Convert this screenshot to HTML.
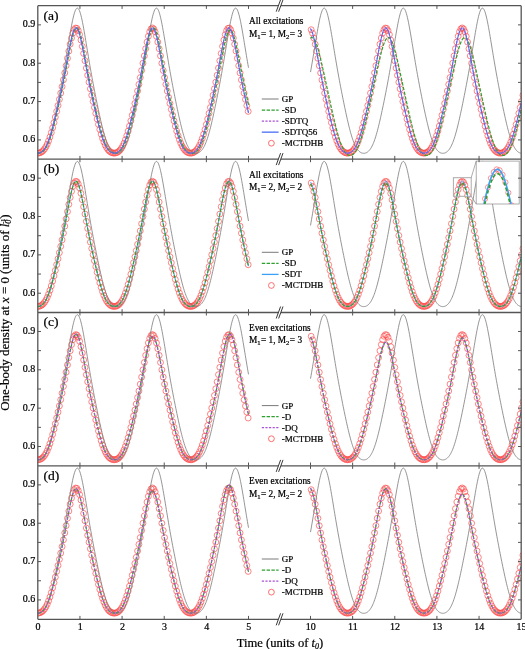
<!DOCTYPE html><html><head><meta charset="utf-8"><style>html,body{margin:0;padding:0;background:#fff;}svg{display:block;will-change:transform;}text{font-family:"Liberation Serif",serif;fill:#000;stroke:#000;stroke-width:0.22px;}</style></head><body>
<svg width="525" height="649" viewBox="0 0 525 649">
<rect width="525" height="649" fill="#fff"/>
<defs>
<clipPath id="c0"><rect x="37.80" y="5.70" width="483.40" height="153.40"/></clipPath>
<clipPath id="c1"><rect x="37.80" y="159.00" width="483.40" height="153.40"/></clipPath>
<clipPath id="c2"><rect x="37.80" y="312.30" width="483.40" height="153.40"/></clipPath>
<clipPath id="c3"><rect x="37.80" y="465.70" width="483.40" height="153.40"/></clipPath>
</defs>
<g clip-path="url(#c0)">
<path d="M34.85,153.16a2.95,2.95 0 1,0 5.90,0a2.95,2.95 0 1,0 -5.90,0M36.20,153.01a2.95,2.95 0 1,0 5.90,0a2.95,2.95 0 1,0 -5.90,0M37.55,152.56a2.95,2.95 0 1,0 5.90,0a2.95,2.95 0 1,0 -5.90,0M38.90,151.77a2.95,2.95 0 1,0 5.90,0a2.95,2.95 0 1,0 -5.90,0M40.24,150.59a2.95,2.95 0 1,0 5.90,0a2.95,2.95 0 1,0 -5.90,0M41.59,148.96a2.95,2.95 0 1,0 5.90,0a2.95,2.95 0 1,0 -5.90,0M42.94,146.82a2.95,2.95 0 1,0 5.90,0a2.95,2.95 0 1,0 -5.90,0M44.29,144.13a2.95,2.95 0 1,0 5.90,0a2.95,2.95 0 1,0 -5.90,0M45.64,140.87a2.95,2.95 0 1,0 5.90,0a2.95,2.95 0 1,0 -5.90,0M46.99,137.03a2.95,2.95 0 1,0 5.90,0a2.95,2.95 0 1,0 -5.90,0M48.33,132.66a2.95,2.95 0 1,0 5.90,0a2.95,2.95 0 1,0 -5.90,0M49.68,127.84a2.95,2.95 0 1,0 5.90,0a2.95,2.95 0 1,0 -5.90,0M51.03,122.63a2.95,2.95 0 1,0 5.90,0a2.95,2.95 0 1,0 -5.90,0M52.38,117.13a2.95,2.95 0 1,0 5.90,0a2.95,2.95 0 1,0 -5.90,0M53.73,111.39a2.95,2.95 0 1,0 5.90,0a2.95,2.95 0 1,0 -5.90,0M55.08,105.48a2.95,2.95 0 1,0 5.90,0a2.95,2.95 0 1,0 -5.90,0M56.43,99.39a2.95,2.95 0 1,0 5.90,0a2.95,2.95 0 1,0 -5.90,0M57.77,93.11a2.95,2.95 0 1,0 5.90,0a2.95,2.95 0 1,0 -5.90,0M59.12,86.62a2.95,2.95 0 1,0 5.90,0a2.95,2.95 0 1,0 -5.90,0M60.47,79.87a2.95,2.95 0 1,0 5.90,0a2.95,2.95 0 1,0 -5.90,0M61.82,72.87a2.95,2.95 0 1,0 5.90,0a2.95,2.95 0 1,0 -5.90,0M63.17,65.64a2.95,2.95 0 1,0 5.90,0a2.95,2.95 0 1,0 -5.90,0M64.52,58.31a2.95,2.95 0 1,0 5.90,0a2.95,2.95 0 1,0 -5.90,0M65.87,51.06a2.95,2.95 0 1,0 5.90,0a2.95,2.95 0 1,0 -5.90,0M67.21,44.20a2.95,2.95 0 1,0 5.90,0a2.95,2.95 0 1,0 -5.90,0M68.56,38.09a2.95,2.95 0 1,0 5.90,0a2.95,2.95 0 1,0 -5.90,0M69.91,33.12a2.95,2.95 0 1,0 5.90,0a2.95,2.95 0 1,0 -5.90,0M71.26,29.68a2.95,2.95 0 1,0 5.90,0a2.95,2.95 0 1,0 -5.90,0M72.61,28.05a2.95,2.95 0 1,0 5.90,0a2.95,2.95 0 1,0 -5.90,0M73.96,28.38a2.95,2.95 0 1,0 5.90,0a2.95,2.95 0 1,0 -5.90,0M75.30,30.64a2.95,2.95 0 1,0 5.90,0a2.95,2.95 0 1,0 -5.90,0M76.65,34.63a2.95,2.95 0 1,0 5.90,0a2.95,2.95 0 1,0 -5.90,0M78.00,40.03a2.95,2.95 0 1,0 5.90,0a2.95,2.95 0 1,0 -5.90,0M79.35,46.43a2.95,2.95 0 1,0 5.90,0a2.95,2.95 0 1,0 -5.90,0M80.70,53.46a2.95,2.95 0 1,0 5.90,0a2.95,2.95 0 1,0 -5.90,0M82.05,60.76a2.95,2.95 0 1,0 5.90,0a2.95,2.95 0 1,0 -5.90,0M83.40,68.08a2.95,2.95 0 1,0 5.90,0a2.95,2.95 0 1,0 -5.90,0M84.74,75.24a2.95,2.95 0 1,0 5.90,0a2.95,2.95 0 1,0 -5.90,0M86.09,82.16a2.95,2.95 0 1,0 5.90,0a2.95,2.95 0 1,0 -5.90,0M87.44,88.82a2.95,2.95 0 1,0 5.90,0a2.95,2.95 0 1,0 -5.90,0M88.79,95.23a2.95,2.95 0 1,0 5.90,0a2.95,2.95 0 1,0 -5.90,0M90.14,101.44a2.95,2.95 0 1,0 5.90,0a2.95,2.95 0 1,0 -5.90,0M91.49,107.47a2.95,2.95 0 1,0 5.90,0a2.95,2.95 0 1,0 -5.90,0M92.83,113.33a2.95,2.95 0 1,0 5.90,0a2.95,2.95 0 1,0 -5.90,0M94.18,118.99a2.95,2.95 0 1,0 5.90,0a2.95,2.95 0 1,0 -5.90,0M95.53,124.41a2.95,2.95 0 1,0 5.90,0a2.95,2.95 0 1,0 -5.90,0M96.88,129.50a2.95,2.95 0 1,0 5.90,0a2.95,2.95 0 1,0 -5.90,0M98.23,134.18a2.95,2.95 0 1,0 5.90,0a2.95,2.95 0 1,0 -5.90,0M99.58,138.37a2.95,2.95 0 1,0 5.90,0a2.95,2.95 0 1,0 -5.90,0M100.93,142.02a2.95,2.95 0 1,0 5.90,0a2.95,2.95 0 1,0 -5.90,0M102.27,145.10a2.95,2.95 0 1,0 5.90,0a2.95,2.95 0 1,0 -5.90,0M103.62,147.60a2.95,2.95 0 1,0 5.90,0a2.95,2.95 0 1,0 -5.90,0M104.97,149.56a2.95,2.95 0 1,0 5.90,0a2.95,2.95 0 1,0 -5.90,0M106.32,151.03a2.95,2.95 0 1,0 5.90,0a2.95,2.95 0 1,0 -5.90,0M107.67,152.07a2.95,2.95 0 1,0 5.90,0a2.95,2.95 0 1,0 -5.90,0M109.02,152.74a2.95,2.95 0 1,0 5.90,0a2.95,2.95 0 1,0 -5.90,0M110.36,153.09a2.95,2.95 0 1,0 5.90,0a2.95,2.95 0 1,0 -5.90,0M111.71,153.14a2.95,2.95 0 1,0 5.90,0a2.95,2.95 0 1,0 -5.90,0M113.06,152.89a2.95,2.95 0 1,0 5.90,0a2.95,2.95 0 1,0 -5.90,0M114.41,152.33a2.95,2.95 0 1,0 5.90,0a2.95,2.95 0 1,0 -5.90,0M115.76,151.42a2.95,2.95 0 1,0 5.90,0a2.95,2.95 0 1,0 -5.90,0M117.11,150.10a2.95,2.95 0 1,0 5.90,0a2.95,2.95 0 1,0 -5.90,0M118.46,148.31a2.95,2.95 0 1,0 5.90,0a2.95,2.95 0 1,0 -5.90,0M119.80,145.99a2.95,2.95 0 1,0 5.90,0a2.95,2.95 0 1,0 -5.90,0M121.15,143.11a2.95,2.95 0 1,0 5.90,0a2.95,2.95 0 1,0 -5.90,0M122.50,139.64a2.95,2.95 0 1,0 5.90,0a2.95,2.95 0 1,0 -5.90,0M123.85,135.63a2.95,2.95 0 1,0 5.90,0a2.95,2.95 0 1,0 -5.90,0M125.20,131.10a2.95,2.95 0 1,0 5.90,0a2.95,2.95 0 1,0 -5.90,0M126.55,126.13a2.95,2.95 0 1,0 5.90,0a2.95,2.95 0 1,0 -5.90,0M127.90,120.82a2.95,2.95 0 1,0 5.90,0a2.95,2.95 0 1,0 -5.90,0M129.24,115.23a2.95,2.95 0 1,0 5.90,0a2.95,2.95 0 1,0 -5.90,0M130.59,109.43a2.95,2.95 0 1,0 5.90,0a2.95,2.95 0 1,0 -5.90,0M131.94,103.46a2.95,2.95 0 1,0 5.90,0a2.95,2.95 0 1,0 -5.90,0M133.29,97.31a2.95,2.95 0 1,0 5.90,0a2.95,2.95 0 1,0 -5.90,0M134.64,90.97a2.95,2.95 0 1,0 5.90,0a2.95,2.95 0 1,0 -5.90,0M135.99,84.39a2.95,2.95 0 1,0 5.90,0a2.95,2.95 0 1,0 -5.90,0M137.33,77.56a2.95,2.95 0 1,0 5.90,0a2.95,2.95 0 1,0 -5.90,0M138.68,70.47a2.95,2.95 0 1,0 5.90,0a2.95,2.95 0 1,0 -5.90,0M140.03,63.19a2.95,2.95 0 1,0 5.90,0a2.95,2.95 0 1,0 -5.90,0M141.38,55.86a2.95,2.95 0 1,0 5.90,0a2.95,2.95 0 1,0 -5.90,0M142.73,48.71a2.95,2.95 0 1,0 5.90,0a2.95,2.95 0 1,0 -5.90,0M144.08,42.06a2.95,2.95 0 1,0 5.90,0a2.95,2.95 0 1,0 -5.90,0M145.43,36.28a2.95,2.95 0 1,0 5.90,0a2.95,2.95 0 1,0 -5.90,0M146.77,31.78a2.95,2.95 0 1,0 5.90,0a2.95,2.95 0 1,0 -5.90,0M148.12,28.92a2.95,2.95 0 1,0 5.90,0a2.95,2.95 0 1,0 -5.90,0M149.47,27.94a2.95,2.95 0 1,0 5.90,0a2.95,2.95 0 1,0 -5.90,0M150.82,28.93a2.95,2.95 0 1,0 5.90,0a2.95,2.95 0 1,0 -5.90,0M152.17,31.80a2.95,2.95 0 1,0 5.90,0a2.95,2.95 0 1,0 -5.90,0M153.52,36.30a2.95,2.95 0 1,0 5.90,0a2.95,2.95 0 1,0 -5.90,0M154.86,42.08a2.95,2.95 0 1,0 5.90,0a2.95,2.95 0 1,0 -5.90,0M156.21,48.73a2.95,2.95 0 1,0 5.90,0a2.95,2.95 0 1,0 -5.90,0M157.56,55.89a2.95,2.95 0 1,0 5.90,0a2.95,2.95 0 1,0 -5.90,0M158.91,63.22a2.95,2.95 0 1,0 5.90,0a2.95,2.95 0 1,0 -5.90,0M160.26,70.49a2.95,2.95 0 1,0 5.90,0a2.95,2.95 0 1,0 -5.90,0M161.61,77.58a2.95,2.95 0 1,0 5.90,0a2.95,2.95 0 1,0 -5.90,0M162.96,84.41a2.95,2.95 0 1,0 5.90,0a2.95,2.95 0 1,0 -5.90,0M164.30,90.99a2.95,2.95 0 1,0 5.90,0a2.95,2.95 0 1,0 -5.90,0M165.65,97.33a2.95,2.95 0 1,0 5.90,0a2.95,2.95 0 1,0 -5.90,0M167.00,103.48a2.95,2.95 0 1,0 5.90,0a2.95,2.95 0 1,0 -5.90,0M168.35,109.45a2.95,2.95 0 1,0 5.90,0a2.95,2.95 0 1,0 -5.90,0M169.70,115.25a2.95,2.95 0 1,0 5.90,0a2.95,2.95 0 1,0 -5.90,0M171.05,120.83a2.95,2.95 0 1,0 5.90,0a2.95,2.95 0 1,0 -5.90,0M172.39,126.15a2.95,2.95 0 1,0 5.90,0a2.95,2.95 0 1,0 -5.90,0M173.74,131.11a2.95,2.95 0 1,0 5.90,0a2.95,2.95 0 1,0 -5.90,0M175.09,135.64a2.95,2.95 0 1,0 5.90,0a2.95,2.95 0 1,0 -5.90,0M176.44,139.66a2.95,2.95 0 1,0 5.90,0a2.95,2.95 0 1,0 -5.90,0M177.79,143.12a2.95,2.95 0 1,0 5.90,0a2.95,2.95 0 1,0 -5.90,0M179.14,146.00a2.95,2.95 0 1,0 5.90,0a2.95,2.95 0 1,0 -5.90,0M180.49,148.31a2.95,2.95 0 1,0 5.90,0a2.95,2.95 0 1,0 -5.90,0M181.83,150.10a2.95,2.95 0 1,0 5.90,0a2.95,2.95 0 1,0 -5.90,0M183.18,151.42a2.95,2.95 0 1,0 5.90,0a2.95,2.95 0 1,0 -5.90,0M184.53,152.34a2.95,2.95 0 1,0 5.90,0a2.95,2.95 0 1,0 -5.90,0M185.88,152.89a2.95,2.95 0 1,0 5.90,0a2.95,2.95 0 1,0 -5.90,0M187.23,153.14a2.95,2.95 0 1,0 5.90,0a2.95,2.95 0 1,0 -5.90,0M188.58,153.09a2.95,2.95 0 1,0 5.90,0a2.95,2.95 0 1,0 -5.90,0M189.93,152.74a2.95,2.95 0 1,0 5.90,0a2.95,2.95 0 1,0 -5.90,0M191.27,152.07a2.95,2.95 0 1,0 5.90,0a2.95,2.95 0 1,0 -5.90,0M192.62,151.03a2.95,2.95 0 1,0 5.90,0a2.95,2.95 0 1,0 -5.90,0M193.97,149.55a2.95,2.95 0 1,0 5.90,0a2.95,2.95 0 1,0 -5.90,0M195.32,147.59a2.95,2.95 0 1,0 5.90,0a2.95,2.95 0 1,0 -5.90,0M196.67,145.09a2.95,2.95 0 1,0 5.90,0a2.95,2.95 0 1,0 -5.90,0M198.02,142.01a2.95,2.95 0 1,0 5.90,0a2.95,2.95 0 1,0 -5.90,0M199.36,138.36a2.95,2.95 0 1,0 5.90,0a2.95,2.95 0 1,0 -5.90,0M200.71,134.16a2.95,2.95 0 1,0 5.90,0a2.95,2.95 0 1,0 -5.90,0M202.06,129.48a2.95,2.95 0 1,0 5.90,0a2.95,2.95 0 1,0 -5.90,0M203.41,124.39a2.95,2.95 0 1,0 5.90,0a2.95,2.95 0 1,0 -5.90,0M204.76,118.98a2.95,2.95 0 1,0 5.90,0a2.95,2.95 0 1,0 -5.90,0M206.11,113.31a2.95,2.95 0 1,0 5.90,0a2.95,2.95 0 1,0 -5.90,0M207.46,107.46a2.95,2.95 0 1,0 5.90,0a2.95,2.95 0 1,0 -5.90,0M208.80,101.42a2.95,2.95 0 1,0 5.90,0a2.95,2.95 0 1,0 -5.90,0M210.15,95.21a2.95,2.95 0 1,0 5.90,0a2.95,2.95 0 1,0 -5.90,0M211.50,88.80a2.95,2.95 0 1,0 5.90,0a2.95,2.95 0 1,0 -5.90,0M212.85,82.14a2.95,2.95 0 1,0 5.90,0a2.95,2.95 0 1,0 -5.90,0M214.20,75.21a2.95,2.95 0 1,0 5.90,0a2.95,2.95 0 1,0 -5.90,0M215.55,68.05a2.95,2.95 0 1,0 5.90,0a2.95,2.95 0 1,0 -5.90,0M216.89,60.74a2.95,2.95 0 1,0 5.90,0a2.95,2.95 0 1,0 -5.90,0M218.24,53.44a2.95,2.95 0 1,0 5.90,0a2.95,2.95 0 1,0 -5.90,0M219.59,46.41a2.95,2.95 0 1,0 5.90,0a2.95,2.95 0 1,0 -5.90,0M220.94,40.01a2.95,2.95 0 1,0 5.90,0a2.95,2.95 0 1,0 -5.90,0M222.29,34.62a2.95,2.95 0 1,0 5.90,0a2.95,2.95 0 1,0 -5.90,0M223.64,30.63a2.95,2.95 0 1,0 5.90,0a2.95,2.95 0 1,0 -5.90,0M224.99,28.38a2.95,2.95 0 1,0 5.90,0a2.95,2.95 0 1,0 -5.90,0M226.33,28.05a2.95,2.95 0 1,0 5.90,0a2.95,2.95 0 1,0 -5.90,0M227.68,29.69a2.95,2.95 0 1,0 5.90,0a2.95,2.95 0 1,0 -5.90,0M229.03,33.14a2.95,2.95 0 1,0 5.90,0a2.95,2.95 0 1,0 -5.90,0M230.38,38.11a2.95,2.95 0 1,0 5.90,0a2.95,2.95 0 1,0 -5.90,0M231.73,44.22a2.95,2.95 0 1,0 5.90,0a2.95,2.95 0 1,0 -5.90,0M233.08,51.09a2.95,2.95 0 1,0 5.90,0a2.95,2.95 0 1,0 -5.90,0M234.43,58.33a2.95,2.95 0 1,0 5.90,0a2.95,2.95 0 1,0 -5.90,0M235.77,65.66a2.95,2.95 0 1,0 5.90,0a2.95,2.95 0 1,0 -5.90,0M237.12,72.89a2.95,2.95 0 1,0 5.90,0a2.95,2.95 0 1,0 -5.90,0M238.47,79.89a2.95,2.95 0 1,0 5.90,0a2.95,2.95 0 1,0 -5.90,0M239.82,86.64a2.95,2.95 0 1,0 5.90,0a2.95,2.95 0 1,0 -5.90,0M241.17,93.13a2.95,2.95 0 1,0 5.90,0a2.95,2.95 0 1,0 -5.90,0M242.52,99.41a2.95,2.95 0 1,0 5.90,0a2.95,2.95 0 1,0 -5.90,0M243.86,105.50a2.95,2.95 0 1,0 5.90,0a2.95,2.95 0 1,0 -5.90,0M245.21,111.41a2.95,2.95 0 1,0 5.90,0a2.95,2.95 0 1,0 -5.90,0" fill="none" stroke="#ff4a4a" stroke-width="0.85" opacity="0.8"/>
<path d="M308.22,29.70a2.95,2.95 0 1,0 5.90,0a2.95,2.95 0 1,0 -5.90,0M309.57,33.15a2.95,2.95 0 1,0 5.90,0a2.95,2.95 0 1,0 -5.90,0M310.92,38.12a2.95,2.95 0 1,0 5.90,0a2.95,2.95 0 1,0 -5.90,0M312.27,44.24a2.95,2.95 0 1,0 5.90,0a2.95,2.95 0 1,0 -5.90,0M313.62,51.11a2.95,2.95 0 1,0 5.90,0a2.95,2.95 0 1,0 -5.90,0M314.97,58.35a2.95,2.95 0 1,0 5.90,0a2.95,2.95 0 1,0 -5.90,0M316.32,65.69a2.95,2.95 0 1,0 5.90,0a2.95,2.95 0 1,0 -5.90,0M317.66,72.91a2.95,2.95 0 1,0 5.90,0a2.95,2.95 0 1,0 -5.90,0M319.01,79.91a2.95,2.95 0 1,0 5.90,0a2.95,2.95 0 1,0 -5.90,0M320.36,86.66a2.95,2.95 0 1,0 5.90,0a2.95,2.95 0 1,0 -5.90,0M321.71,93.15a2.95,2.95 0 1,0 5.90,0a2.95,2.95 0 1,0 -5.90,0M323.06,99.43a2.95,2.95 0 1,0 5.90,0a2.95,2.95 0 1,0 -5.90,0M324.41,105.51a2.95,2.95 0 1,0 5.90,0a2.95,2.95 0 1,0 -5.90,0M325.75,111.43a2.95,2.95 0 1,0 5.90,0a2.95,2.95 0 1,0 -5.90,0M327.10,117.16a2.95,2.95 0 1,0 5.90,0a2.95,2.95 0 1,0 -5.90,0M328.45,122.66a2.95,2.95 0 1,0 5.90,0a2.95,2.95 0 1,0 -5.90,0M329.80,127.87a2.95,2.95 0 1,0 5.90,0a2.95,2.95 0 1,0 -5.90,0M331.15,132.69a2.95,2.95 0 1,0 5.90,0a2.95,2.95 0 1,0 -5.90,0M332.50,137.05a2.95,2.95 0 1,0 5.90,0a2.95,2.95 0 1,0 -5.90,0M333.85,140.89a2.95,2.95 0 1,0 5.90,0a2.95,2.95 0 1,0 -5.90,0M335.19,144.15a2.95,2.95 0 1,0 5.90,0a2.95,2.95 0 1,0 -5.90,0M336.54,146.84a2.95,2.95 0 1,0 5.90,0a2.95,2.95 0 1,0 -5.90,0M337.89,148.97a2.95,2.95 0 1,0 5.90,0a2.95,2.95 0 1,0 -5.90,0M339.24,150.60a2.95,2.95 0 1,0 5.90,0a2.95,2.95 0 1,0 -5.90,0M340.59,151.77a2.95,2.95 0 1,0 5.90,0a2.95,2.95 0 1,0 -5.90,0M341.94,152.56a2.95,2.95 0 1,0 5.90,0a2.95,2.95 0 1,0 -5.90,0M343.28,153.01a2.95,2.95 0 1,0 5.90,0a2.95,2.95 0 1,0 -5.90,0M344.63,153.16a2.95,2.95 0 1,0 5.90,0a2.95,2.95 0 1,0 -5.90,0M345.98,153.01a2.95,2.95 0 1,0 5.90,0a2.95,2.95 0 1,0 -5.90,0M347.33,152.55a2.95,2.95 0 1,0 5.90,0a2.95,2.95 0 1,0 -5.90,0M348.68,151.76a2.95,2.95 0 1,0 5.90,0a2.95,2.95 0 1,0 -5.90,0M350.03,150.58a2.95,2.95 0 1,0 5.90,0a2.95,2.95 0 1,0 -5.90,0M351.38,148.95a2.95,2.95 0 1,0 5.90,0a2.95,2.95 0 1,0 -5.90,0M352.72,146.81a2.95,2.95 0 1,0 5.90,0a2.95,2.95 0 1,0 -5.90,0M354.07,144.11a2.95,2.95 0 1,0 5.90,0a2.95,2.95 0 1,0 -5.90,0M355.42,140.84a2.95,2.95 0 1,0 5.90,0a2.95,2.95 0 1,0 -5.90,0M356.77,137.00a2.95,2.95 0 1,0 5.90,0a2.95,2.95 0 1,0 -5.90,0M358.12,132.63a2.95,2.95 0 1,0 5.90,0a2.95,2.95 0 1,0 -5.90,0M359.47,127.80a2.95,2.95 0 1,0 5.90,0a2.95,2.95 0 1,0 -5.90,0M360.81,122.60a2.95,2.95 0 1,0 5.90,0a2.95,2.95 0 1,0 -5.90,0M362.16,117.09a2.95,2.95 0 1,0 5.90,0a2.95,2.95 0 1,0 -5.90,0M363.51,111.36a2.95,2.95 0 1,0 5.90,0a2.95,2.95 0 1,0 -5.90,0M364.86,105.44a2.95,2.95 0 1,0 5.90,0a2.95,2.95 0 1,0 -5.90,0M366.21,99.35a2.95,2.95 0 1,0 5.90,0a2.95,2.95 0 1,0 -5.90,0M367.56,93.07a2.95,2.95 0 1,0 5.90,0a2.95,2.95 0 1,0 -5.90,0M368.91,86.58a2.95,2.95 0 1,0 5.90,0a2.95,2.95 0 1,0 -5.90,0M370.25,79.83a2.95,2.95 0 1,0 5.90,0a2.95,2.95 0 1,0 -5.90,0M371.60,72.82a2.95,2.95 0 1,0 5.90,0a2.95,2.95 0 1,0 -5.90,0M372.95,65.60a2.95,2.95 0 1,0 5.90,0a2.95,2.95 0 1,0 -5.90,0M374.30,58.26a2.95,2.95 0 1,0 5.90,0a2.95,2.95 0 1,0 -5.90,0M375.65,51.02a2.95,2.95 0 1,0 5.90,0a2.95,2.95 0 1,0 -5.90,0M377.00,44.16a2.95,2.95 0 1,0 5.90,0a2.95,2.95 0 1,0 -5.90,0M378.35,38.05a2.95,2.95 0 1,0 5.90,0a2.95,2.95 0 1,0 -5.90,0M379.69,33.10a2.95,2.95 0 1,0 5.90,0a2.95,2.95 0 1,0 -5.90,0M381.04,29.66a2.95,2.95 0 1,0 5.90,0a2.95,2.95 0 1,0 -5.90,0M382.39,28.05a2.95,2.95 0 1,0 5.90,0a2.95,2.95 0 1,0 -5.90,0M383.74,28.39a2.95,2.95 0 1,0 5.90,0a2.95,2.95 0 1,0 -5.90,0M385.09,30.66a2.95,2.95 0 1,0 5.90,0a2.95,2.95 0 1,0 -5.90,0M386.44,34.66a2.95,2.95 0 1,0 5.90,0a2.95,2.95 0 1,0 -5.90,0M387.78,40.06a2.95,2.95 0 1,0 5.90,0a2.95,2.95 0 1,0 -5.90,0M389.13,46.48a2.95,2.95 0 1,0 5.90,0a2.95,2.95 0 1,0 -5.90,0M390.48,53.51a2.95,2.95 0 1,0 5.90,0a2.95,2.95 0 1,0 -5.90,0M391.83,60.81a2.95,2.95 0 1,0 5.90,0a2.95,2.95 0 1,0 -5.90,0M393.18,68.12a2.95,2.95 0 1,0 5.90,0a2.95,2.95 0 1,0 -5.90,0M394.53,75.28a2.95,2.95 0 1,0 5.90,0a2.95,2.95 0 1,0 -5.90,0M395.88,82.20a2.95,2.95 0 1,0 5.90,0a2.95,2.95 0 1,0 -5.90,0M397.22,88.86a2.95,2.95 0 1,0 5.90,0a2.95,2.95 0 1,0 -5.90,0M398.57,95.27a2.95,2.95 0 1,0 5.90,0a2.95,2.95 0 1,0 -5.90,0M399.92,101.48a2.95,2.95 0 1,0 5.90,0a2.95,2.95 0 1,0 -5.90,0M401.27,107.51a2.95,2.95 0 1,0 5.90,0a2.95,2.95 0 1,0 -5.90,0M402.62,113.37a2.95,2.95 0 1,0 5.90,0a2.95,2.95 0 1,0 -5.90,0M403.97,119.03a2.95,2.95 0 1,0 5.90,0a2.95,2.95 0 1,0 -5.90,0M405.31,124.44a2.95,2.95 0 1,0 5.90,0a2.95,2.95 0 1,0 -5.90,0M406.66,129.53a2.95,2.95 0 1,0 5.90,0a2.95,2.95 0 1,0 -5.90,0M408.01,134.21a2.95,2.95 0 1,0 5.90,0a2.95,2.95 0 1,0 -5.90,0M409.36,138.40a2.95,2.95 0 1,0 5.90,0a2.95,2.95 0 1,0 -5.90,0M410.71,142.04a2.95,2.95 0 1,0 5.90,0a2.95,2.95 0 1,0 -5.90,0M412.06,145.11a2.95,2.95 0 1,0 5.90,0a2.95,2.95 0 1,0 -5.90,0M413.41,147.61a2.95,2.95 0 1,0 5.90,0a2.95,2.95 0 1,0 -5.90,0M414.75,149.57a2.95,2.95 0 1,0 5.90,0a2.95,2.95 0 1,0 -5.90,0M416.10,151.04a2.95,2.95 0 1,0 5.90,0a2.95,2.95 0 1,0 -5.90,0M417.45,152.08a2.95,2.95 0 1,0 5.90,0a2.95,2.95 0 1,0 -5.90,0M418.80,152.75a2.95,2.95 0 1,0 5.90,0a2.95,2.95 0 1,0 -5.90,0M420.15,153.09a2.95,2.95 0 1,0 5.90,0a2.95,2.95 0 1,0 -5.90,0M421.50,153.14a2.95,2.95 0 1,0 5.90,0a2.95,2.95 0 1,0 -5.90,0M422.85,152.89a2.95,2.95 0 1,0 5.90,0a2.95,2.95 0 1,0 -5.90,0M424.19,152.33a2.95,2.95 0 1,0 5.90,0a2.95,2.95 0 1,0 -5.90,0M425.54,151.41a2.95,2.95 0 1,0 5.90,0a2.95,2.95 0 1,0 -5.90,0M426.89,150.09a2.95,2.95 0 1,0 5.90,0a2.95,2.95 0 1,0 -5.90,0M428.24,148.29a2.95,2.95 0 1,0 5.90,0a2.95,2.95 0 1,0 -5.90,0M429.59,145.97a2.95,2.95 0 1,0 5.90,0a2.95,2.95 0 1,0 -5.90,0M430.94,143.09a2.95,2.95 0 1,0 5.90,0a2.95,2.95 0 1,0 -5.90,0M432.28,139.62a2.95,2.95 0 1,0 5.90,0a2.95,2.95 0 1,0 -5.90,0M433.63,135.60a2.95,2.95 0 1,0 5.90,0a2.95,2.95 0 1,0 -5.90,0M434.98,131.07a2.95,2.95 0 1,0 5.90,0a2.95,2.95 0 1,0 -5.90,0M436.33,126.10a2.95,2.95 0 1,0 5.90,0a2.95,2.95 0 1,0 -5.90,0M437.68,120.78a2.95,2.95 0 1,0 5.90,0a2.95,2.95 0 1,0 -5.90,0M439.03,115.20a2.95,2.95 0 1,0 5.90,0a2.95,2.95 0 1,0 -5.90,0M440.38,109.40a2.95,2.95 0 1,0 5.90,0a2.95,2.95 0 1,0 -5.90,0M441.72,103.42a2.95,2.95 0 1,0 5.90,0a2.95,2.95 0 1,0 -5.90,0M443.07,97.27a2.95,2.95 0 1,0 5.90,0a2.95,2.95 0 1,0 -5.90,0M444.42,90.93a2.95,2.95 0 1,0 5.90,0a2.95,2.95 0 1,0 -5.90,0M445.77,84.35a2.95,2.95 0 1,0 5.90,0a2.95,2.95 0 1,0 -5.90,0M447.12,77.51a2.95,2.95 0 1,0 5.90,0a2.95,2.95 0 1,0 -5.90,0M448.47,70.43a2.95,2.95 0 1,0 5.90,0a2.95,2.95 0 1,0 -5.90,0M449.81,63.15a2.95,2.95 0 1,0 5.90,0a2.95,2.95 0 1,0 -5.90,0M451.16,55.82a2.95,2.95 0 1,0 5.90,0a2.95,2.95 0 1,0 -5.90,0M452.51,48.67a2.95,2.95 0 1,0 5.90,0a2.95,2.95 0 1,0 -5.90,0M453.86,42.02a2.95,2.95 0 1,0 5.90,0a2.95,2.95 0 1,0 -5.90,0M455.21,36.25a2.95,2.95 0 1,0 5.90,0a2.95,2.95 0 1,0 -5.90,0M456.56,31.76a2.95,2.95 0 1,0 5.90,0a2.95,2.95 0 1,0 -5.90,0M457.91,28.91a2.95,2.95 0 1,0 5.90,0a2.95,2.95 0 1,0 -5.90,0M459.25,27.94a2.95,2.95 0 1,0 5.90,0a2.95,2.95 0 1,0 -5.90,0M460.60,28.94a2.95,2.95 0 1,0 5.90,0a2.95,2.95 0 1,0 -5.90,0M461.95,31.82a2.95,2.95 0 1,0 5.90,0a2.95,2.95 0 1,0 -5.90,0M463.30,36.33a2.95,2.95 0 1,0 5.90,0a2.95,2.95 0 1,0 -5.90,0M464.65,42.11a2.95,2.95 0 1,0 5.90,0a2.95,2.95 0 1,0 -5.90,0M466.00,48.78a2.95,2.95 0 1,0 5.90,0a2.95,2.95 0 1,0 -5.90,0M467.34,55.93a2.95,2.95 0 1,0 5.90,0a2.95,2.95 0 1,0 -5.90,0M468.69,63.26a2.95,2.95 0 1,0 5.90,0a2.95,2.95 0 1,0 -5.90,0M470.04,70.54a2.95,2.95 0 1,0 5.90,0a2.95,2.95 0 1,0 -5.90,0M471.39,77.62a2.95,2.95 0 1,0 5.90,0a2.95,2.95 0 1,0 -5.90,0M472.74,84.45a2.95,2.95 0 1,0 5.90,0a2.95,2.95 0 1,0 -5.90,0M474.09,91.03a2.95,2.95 0 1,0 5.90,0a2.95,2.95 0 1,0 -5.90,0M475.44,97.37a2.95,2.95 0 1,0 5.90,0a2.95,2.95 0 1,0 -5.90,0M476.78,103.52a2.95,2.95 0 1,0 5.90,0a2.95,2.95 0 1,0 -5.90,0M478.13,109.49a2.95,2.95 0 1,0 5.90,0a2.95,2.95 0 1,0 -5.90,0M479.48,115.29a2.95,2.95 0 1,0 5.90,0a2.95,2.95 0 1,0 -5.90,0M480.83,120.87a2.95,2.95 0 1,0 5.90,0a2.95,2.95 0 1,0 -5.90,0M482.18,126.18a2.95,2.95 0 1,0 5.90,0a2.95,2.95 0 1,0 -5.90,0M483.53,131.14a2.95,2.95 0 1,0 5.90,0a2.95,2.95 0 1,0 -5.90,0M484.88,135.67a2.95,2.95 0 1,0 5.90,0a2.95,2.95 0 1,0 -5.90,0M486.22,139.68a2.95,2.95 0 1,0 5.90,0a2.95,2.95 0 1,0 -5.90,0M487.57,143.14a2.95,2.95 0 1,0 5.90,0a2.95,2.95 0 1,0 -5.90,0M488.92,146.01a2.95,2.95 0 1,0 5.90,0a2.95,2.95 0 1,0 -5.90,0M490.27,148.32a2.95,2.95 0 1,0 5.90,0a2.95,2.95 0 1,0 -5.90,0M491.62,150.11a2.95,2.95 0 1,0 5.90,0a2.95,2.95 0 1,0 -5.90,0M492.97,151.43a2.95,2.95 0 1,0 5.90,0a2.95,2.95 0 1,0 -5.90,0M494.31,152.34a2.95,2.95 0 1,0 5.90,0a2.95,2.95 0 1,0 -5.90,0M495.66,152.90a2.95,2.95 0 1,0 5.90,0a2.95,2.95 0 1,0 -5.90,0M497.01,153.14a2.95,2.95 0 1,0 5.90,0a2.95,2.95 0 1,0 -5.90,0M498.36,153.09a2.95,2.95 0 1,0 5.90,0a2.95,2.95 0 1,0 -5.90,0M499.71,152.74a2.95,2.95 0 1,0 5.90,0a2.95,2.95 0 1,0 -5.90,0M501.06,152.06a2.95,2.95 0 1,0 5.90,0a2.95,2.95 0 1,0 -5.90,0M502.41,151.02a2.95,2.95 0 1,0 5.90,0a2.95,2.95 0 1,0 -5.90,0M503.75,149.54a2.95,2.95 0 1,0 5.90,0a2.95,2.95 0 1,0 -5.90,0M505.10,147.58a2.95,2.95 0 1,0 5.90,0a2.95,2.95 0 1,0 -5.90,0M506.45,145.07a2.95,2.95 0 1,0 5.90,0a2.95,2.95 0 1,0 -5.90,0M507.80,141.99a2.95,2.95 0 1,0 5.90,0a2.95,2.95 0 1,0 -5.90,0M509.15,138.34a2.95,2.95 0 1,0 5.90,0a2.95,2.95 0 1,0 -5.90,0M510.50,134.14a2.95,2.95 0 1,0 5.90,0a2.95,2.95 0 1,0 -5.90,0M511.84,129.45a2.95,2.95 0 1,0 5.90,0a2.95,2.95 0 1,0 -5.90,0M513.19,124.36a2.95,2.95 0 1,0 5.90,0a2.95,2.95 0 1,0 -5.90,0M514.54,118.94a2.95,2.95 0 1,0 5.90,0a2.95,2.95 0 1,0 -5.90,0M515.89,113.28a2.95,2.95 0 1,0 5.90,0a2.95,2.95 0 1,0 -5.90,0M517.24,107.42a2.95,2.95 0 1,0 5.90,0a2.95,2.95 0 1,0 -5.90,0M518.59,101.39a2.95,2.95 0 1,0 5.90,0a2.95,2.95 0 1,0 -5.90,0M519.94,95.17a2.95,2.95 0 1,0 5.90,0a2.95,2.95 0 1,0 -5.90,0M521.28,88.75a2.95,2.95 0 1,0 5.90,0a2.95,2.95 0 1,0 -5.90,0" fill="none" stroke="#ff4a4a" stroke-width="0.85" opacity="0.8"/>
<path d="M37.80,153.31 38.33,153.29 38.85,153.21 39.38,153.09 39.91,152.92 40.43,152.69 40.96,152.41 41.49,152.08 42.01,151.68 42.54,151.22 43.07,150.69 43.59,150.08 44.12,149.41 44.65,148.65 45.17,147.81 45.70,146.88 46.23,145.86 46.75,144.76 47.28,143.55 47.81,142.25 48.33,140.86 48.86,139.37 49.39,137.79 49.92,136.11 50.44,134.34 50.97,132.49 51.50,130.55 52.02,128.54 52.55,126.45 53.08,124.29 53.60,122.06 54.13,119.78 54.66,117.45 55.18,115.07 55.71,112.64 56.24,110.18 56.76,107.68 57.29,105.15 57.82,102.59 58.34,100.00 58.87,97.38 59.40,94.73 59.92,92.06 60.45,89.35 60.98,86.61 61.50,83.84 62.03,81.03 62.56,78.19 63.08,75.30 63.61,72.37 64.14,69.40 64.66,66.39 65.19,63.33 65.72,60.23 66.24,57.10 66.77,53.93 67.30,50.73 67.82,47.53 68.35,44.31 68.88,41.11 69.41,37.93 69.93,34.80 70.46,31.72 70.99,28.74 71.51,25.86 72.04,23.11 72.57,20.52 73.09,18.12 73.62,15.92 74.15,13.95 74.67,12.24 75.20,10.81 75.73,9.66 76.25,8.83 76.78,8.31 77.31,8.12 77.83,8.25 78.36,8.71 78.89,9.49 79.41,10.57 79.94,11.96 80.47,13.62 80.99,15.54 81.52,17.70 82.05,20.06 82.57,22.62 83.10,25.34 83.63,28.20 84.15,31.17 84.68,34.23 85.21,37.35 85.73,40.52 86.26,43.72 86.79,46.94 87.31,50.15 87.84,53.34 88.37,56.51 88.89,59.66 89.42,62.76 89.95,65.83 90.47,68.85 91.00,71.83 91.53,74.77 92.06,77.66 92.58,80.51 93.11,83.33 93.64,86.10 94.16,88.85 94.69,91.56 95.22,94.24 95.74,96.89 96.27,99.52 96.80,102.11 97.32,104.68 97.85,107.22 98.38,109.72 98.90,112.19 99.43,114.63 99.96,117.02 100.48,119.36 101.01,121.65 101.54,123.88 102.06,126.05 102.59,128.16 103.12,130.19 103.64,132.14 104.17,134.01 104.70,135.79 105.22,137.49 105.75,139.09 106.28,140.59 106.80,142.01 107.33,143.32 107.86,144.54 108.38,145.67 108.91,146.70 109.44,147.64 109.96,148.50 110.49,149.27 111.02,149.96 111.55,150.58 112.07,151.12 112.60,151.60 113.13,152.01 113.65,152.36 114.18,152.65 114.71,152.88 115.23,153.06 115.76,153.19 116.29,153.28 116.81,153.31 117.34,153.29 117.87,153.23 118.39,153.12 118.92,152.95 119.45,152.74 119.97,152.47 120.50,152.14 121.03,151.76 121.55,151.31 122.08,150.79 122.61,150.20 123.13,149.54 123.66,148.79 124.19,147.97 124.71,147.06 125.24,146.06 125.77,144.97 126.29,143.78 126.82,142.50 127.35,141.12 127.87,139.65 128.40,138.09 128.93,136.43 129.45,134.68 129.98,132.84 130.51,130.91 131.03,128.91 131.56,126.84 132.09,124.69 132.62,122.48 133.14,120.21 133.67,117.88 134.20,115.51 134.72,113.09 135.25,110.64 135.78,108.14 136.30,105.62 136.83,103.06 137.36,100.48 137.88,97.86 138.41,95.22 138.94,92.55 139.46,89.85 139.99,87.12 140.52,84.35 141.04,81.55 141.57,78.71 142.10,75.84 142.62,72.92 143.15,69.95 143.68,66.94 144.20,63.89 144.73,60.80 145.26,57.67 145.78,54.51 146.31,51.32 146.84,48.12 147.36,44.90 147.89,41.70 148.42,38.51 148.94,35.37 149.47,32.28 150.00,29.28 150.52,26.38 151.05,23.61 151.58,20.99 152.10,18.54 152.63,16.31 153.16,14.30 153.69,12.54 154.21,11.05 154.74,9.85 155.27,8.96 155.79,8.38 156.32,8.13 156.85,8.20 157.37,8.60 157.90,9.32 158.43,10.35 158.95,11.68 159.48,13.29 160.01,15.17 160.53,17.28 161.06,19.61 161.59,22.14 162.11,24.83 162.64,27.66 163.17,30.61 163.69,33.66 164.22,36.77 164.75,39.94 165.27,43.13 165.80,46.34 166.33,49.56 166.85,52.75 167.38,55.93 167.91,59.08 168.43,62.19 168.96,65.27 169.49,68.30 170.01,71.28 170.54,74.23 171.07,77.13 171.59,79.99 172.12,82.81 172.65,85.60 173.17,88.35 173.70,91.06 174.23,93.75 174.75,96.41 175.28,99.04 175.81,101.64 176.34,104.21 176.86,106.75 177.39,109.27 177.92,111.74 178.44,114.18 178.97,116.58 179.50,118.93 180.02,121.23 180.55,123.48 181.08,125.66 181.60,127.78 182.13,129.82 182.66,131.79 183.18,133.67 183.71,135.47 184.24,137.18 184.76,138.80 185.29,140.32 185.82,141.75 186.34,143.09 186.87,144.32 187.40,145.47 187.92,146.52 188.45,147.48 188.98,148.35 189.50,149.14 190.03,149.84 190.56,150.47 191.08,151.03 191.61,151.52 192.14,151.94 192.66,152.30 193.19,152.60 193.72,152.84 194.24,153.03 194.77,153.17 195.30,153.26 195.82,153.31 196.35,153.30 196.88,153.24 197.41,153.14 197.93,152.99 198.46,152.78 198.99,152.52 199.51,152.21 200.04,151.83 200.57,151.39 201.09,150.89 201.62,150.31 202.15,149.66 202.67,148.94 203.20,148.13 203.73,147.23 204.25,146.25 204.78,145.17 205.31,144.01 205.83,142.74 206.36,141.38 206.89,139.93 207.41,138.38 207.94,136.74 208.47,135.00 208.99,133.18 209.52,131.27 210.05,129.29 210.57,127.22 211.10,125.09 211.63,122.89 212.15,120.63 212.68,118.31 213.21,115.95 213.73,113.54 214.26,111.09 214.79,108.61 215.31,106.09 215.84,103.54 216.37,100.95 216.89,98.35 217.42,95.71 217.95,93.04 218.48,90.35 219.00,87.62 219.53,84.86 220.06,82.07 220.58,79.24 221.11,76.37 221.64,73.46 222.16,70.50 222.69,67.50 223.22,64.46 223.74,61.38 224.27,58.25 224.80,55.10 225.32,51.91 225.85,48.71 226.38,45.50 226.90,42.29 227.43,39.10 227.96,35.94 228.48,32.85 229.01,29.83 229.54,26.90 230.06,24.10 230.59,21.45 231.12,18.98 231.64,16.70 232.17,14.65 232.70,12.84 233.22,11.30 233.75,10.05 234.28,9.10 234.80,8.46 235.33,8.15 235.86,8.16 236.38,8.50 236.91,9.16 237.44,10.14 237.96,11.42 238.49,12.98 239.02,14.80 239.55,16.88 240.07,19.17 240.60,21.66 241.13,24.32 241.65,27.13 242.18,30.06 242.71,33.09 243.23,36.20 243.76,39.35 244.29,42.54 244.81,45.75 245.34,48.97 245.87,52.17 246.39,55.35 246.92,58.50 247.45,61.62 247.97,64.70 248.50,67.74" fill="none" stroke="#7a7a7a" stroke-width="0.80"/>
<path d="M310.50,72.14 311.03,69.16 311.55,66.14 312.08,63.08 312.61,59.98 313.13,56.84 313.66,53.67 314.19,50.48 314.71,47.27 315.24,44.06 315.77,40.86 316.29,37.68 316.82,34.55 317.35,31.48 317.87,28.50 318.40,25.63 318.93,22.90 319.45,20.32 319.98,17.93 320.51,15.75 321.04,13.81 321.56,12.12 322.09,10.70 322.62,9.59 323.14,8.78 323.67,8.28 324.20,8.12 324.72,8.28 325.25,8.76 325.78,9.56 326.30,10.67 326.83,12.08 327.36,13.76 327.88,15.70 328.41,17.88 328.94,20.26 329.46,22.83 329.99,25.57 330.52,28.43 331.04,31.41 331.57,34.47 332.10,37.60 332.62,40.78 333.15,43.98 333.68,47.19 334.20,50.40 334.73,53.60 335.26,56.77 335.78,59.91 336.31,63.01 336.84,66.07 337.36,69.09 337.89,72.07 338.42,75.00 338.94,77.89 339.47,80.74 340.00,83.55 340.52,86.33 341.05,89.07 341.58,91.78 342.11,94.46 342.63,97.11 343.16,99.73 343.69,102.32 344.21,104.89 344.74,107.42 345.27,109.92 345.79,112.39 346.32,114.82 346.85,117.20 347.37,119.54 347.90,121.83 348.43,124.06 348.95,126.22 349.48,128.32 350.01,130.35 350.53,132.29 351.06,134.15 351.59,135.93 352.11,137.62 352.64,139.21 353.17,140.71 353.69,142.11 354.22,143.42 354.75,144.63 355.27,145.75 355.80,146.78 356.33,147.72 356.85,148.56 357.38,149.33 357.91,150.02 358.43,150.63 358.96,151.16 359.49,151.63 360.01,152.04 360.54,152.38 361.07,152.67 361.59,152.90 362.12,153.08 362.65,153.20 363.18,153.28 363.70,153.31 364.23,153.29 364.76,153.22 365.28,153.11 365.81,152.94 366.34,152.72 366.86,152.45 367.39,152.11 367.92,151.72 368.44,151.27 368.97,150.74 369.50,150.15 370.02,149.48 370.55,148.73 371.08,147.90 371.60,146.98 372.13,145.97 372.66,144.87 373.18,143.68 373.71,142.39 374.24,141.01 374.76,139.53 375.29,137.96 375.82,136.29 376.34,134.53 376.87,132.69 377.40,130.76 377.92,128.75 378.45,126.67 378.98,124.51 379.50,122.30 380.03,120.02 380.56,117.70 381.08,115.32 381.61,112.90 382.14,110.44 382.66,107.94 383.19,105.42 383.72,102.86 384.25,100.27 384.77,97.65 385.30,95.01 385.83,92.34 386.35,89.63 386.88,86.90 387.41,84.13 387.93,81.33 388.46,78.49 388.99,75.60 389.51,72.68 390.04,69.71 390.57,66.70 391.09,63.65 391.62,60.55 392.15,57.42 392.67,54.26 393.20,51.07 393.73,47.86 394.25,44.65 394.78,41.44 395.31,38.26 395.83,35.12 396.36,32.04 396.89,29.04 397.41,26.15 397.94,23.39 398.47,20.78 398.99,18.36 399.52,16.14 400.05,14.15 400.57,12.41 401.10,10.94 401.63,9.77 402.15,8.90 402.68,8.35 403.21,8.12 403.73,8.22 404.26,8.65 404.79,9.39 405.31,10.45 405.84,11.80 406.37,13.43 406.90,15.33 407.42,17.46 407.95,19.81 408.48,22.35 409.00,25.05 409.53,27.90 410.06,30.85 410.58,33.90 411.11,37.02 411.64,40.19 412.16,43.39 412.69,46.60 413.22,49.81 413.74,53.01 414.27,56.19 414.80,59.33 415.32,62.44 415.85,65.51 416.38,68.54 416.90,71.52 417.43,74.46 417.96,77.36 418.48,80.22 419.01,83.04 419.54,85.82 420.06,88.56 420.59,91.28 421.12,93.96 421.64,96.62 422.17,99.25 422.70,101.85 423.22,104.42 423.75,106.96 424.28,109.47 424.80,111.94 425.33,114.38 425.86,116.77 426.38,119.12 426.91,121.41 427.44,123.65 427.97,125.83 428.49,127.94 429.02,129.98 429.55,131.94 430.07,133.82 430.60,135.61 431.13,137.31 431.65,138.93 432.18,140.44 432.71,141.86 433.23,143.19 433.76,144.42 434.29,145.55 434.81,146.60 435.34,147.55 435.87,148.42 436.39,149.20 436.92,149.90 437.45,150.52 437.97,151.07 438.50,151.55 439.03,151.97 439.55,152.32 440.08,152.62 440.61,152.86 441.13,153.05 441.66,153.18 442.19,153.27 442.71,153.31 443.24,153.30 443.77,153.24 444.29,153.13 444.82,152.97 445.35,152.76 445.87,152.50 446.40,152.18 446.93,151.80 447.46,151.36 447.98,150.85 448.51,150.26 449.04,149.61 449.56,148.88 450.09,148.06 450.62,147.16 451.14,146.17 451.67,145.08 452.20,143.91 452.72,142.64 453.25,141.27 453.78,139.81 454.30,138.25 454.83,136.60 455.36,134.86 455.88,133.03 456.41,131.12 456.94,129.12 457.46,127.06 457.99,124.92 458.52,122.71 459.04,120.45 459.57,118.13 460.10,115.76 460.62,113.35 461.15,110.89 461.68,108.41 462.20,105.88 462.73,103.33 463.26,100.75 463.78,98.14 464.31,95.50 464.84,92.83 465.36,90.13 465.89,87.40 466.42,84.64 466.94,81.85 467.47,79.01 468.00,76.14 468.52,73.22 469.05,70.26 469.58,67.26 470.11,64.21 470.63,61.13 471.16,58.00 471.69,54.84 472.21,51.66 472.74,48.45 473.27,45.24 473.79,42.03 474.32,38.84 474.85,35.69 475.37,32.60 475.90,29.59 476.43,26.67 476.95,23.89 477.48,21.25 478.01,18.79 478.53,16.53 479.06,14.49 479.59,12.71 480.11,11.19 480.64,9.96 481.17,9.04 481.69,8.43 482.22,8.14 482.75,8.18 483.27,8.54 483.80,9.23 484.33,10.23 484.85,11.53 485.38,13.11 485.91,14.96 486.43,17.05 486.96,19.36 487.49,21.87 488.01,24.54 488.54,27.36 489.07,30.30 489.60,33.34 490.12,36.45 490.65,39.61 491.18,42.80 491.70,46.01 492.23,49.22 492.76,52.42 493.28,55.60 493.81,58.76 494.34,61.87 494.86,64.95 495.39,67.98 495.92,70.98 496.44,73.92 496.97,76.83 497.50,79.70 498.02,82.52 498.55,85.31 499.08,88.06 499.60,90.78 500.13,93.47 500.66,96.13 501.18,98.77 501.71,101.37 502.24,103.95 502.76,106.49 503.29,109.01 503.82,111.49 504.34,113.93 504.87,116.33 505.40,118.69 505.92,120.99 506.45,123.25 506.98,125.44 507.50,127.56 508.03,129.61 508.56,131.59 509.08,133.48 509.61,135.29 510.14,137.01 510.66,138.64 511.19,140.17 511.72,141.61 512.25,142.95 512.77,144.20 513.30,145.35 513.83,146.41 514.35,147.38 514.88,148.26 515.41,149.06 515.93,149.77 516.46,150.41 516.99,150.97 517.51,151.47 518.04,151.90 518.57,152.26 519.09,152.57 519.62,152.82 520.15,153.02 520.67,153.16 521.20,153.26" fill="none" stroke="#7a7a7a" stroke-width="0.80"/>
<path d="M37.80,153.14 38.33,153.16 38.85,153.13 39.38,153.06 39.91,152.95 40.43,152.79 40.96,152.58 41.49,152.32 42.01,152.01 42.54,151.64 43.07,151.22 43.59,150.72 44.12,150.17 44.65,149.54 45.17,148.83 45.70,148.05 46.23,147.19 46.75,146.25 47.28,145.22 47.81,144.10 48.33,142.90 48.86,141.60 49.39,140.23 49.92,138.76 50.44,137.21 50.97,135.58 51.50,133.88 52.02,132.10 52.55,130.25 53.08,128.34 53.60,126.37 54.13,124.35 54.66,122.28 55.18,120.16 55.71,118.01 56.24,115.82 56.76,113.60 57.29,111.34 57.82,109.06 58.34,106.76 58.87,104.42 59.40,102.07 59.92,99.68 60.45,97.27 60.98,94.83 61.50,92.35 62.03,89.85 62.56,87.30 63.08,84.72 63.61,82.10 64.14,79.44 64.66,76.74 65.19,74.00 65.72,71.23 66.24,68.43 66.77,65.60 67.30,62.75 67.82,59.89 68.35,57.05 68.88,54.21 69.41,51.42 69.93,48.68 70.46,46.02 70.99,43.45 71.51,41.00 72.04,38.69 72.57,36.55 73.09,34.60 73.62,32.87 74.15,31.37 74.67,30.12 75.20,29.15 75.73,28.45 76.25,28.05 76.78,27.95 77.31,28.14 77.83,28.63 78.36,29.42 78.89,30.48 79.41,31.80 79.94,33.38 80.47,35.18 80.99,37.19 81.52,39.38 82.05,41.73 82.57,44.22 83.10,46.82 83.63,49.51 84.15,52.27 84.68,55.08 85.21,57.92 85.73,60.77 86.26,63.62 86.79,66.47 87.31,69.29 87.84,72.09 88.37,74.85 88.89,77.58 89.42,80.26 89.95,82.91 90.47,85.52 91.00,88.09 91.53,90.62 92.06,93.12 92.58,95.58 93.11,98.01 93.64,100.42 94.16,102.79 94.69,105.14 95.22,107.47 95.74,109.77 96.27,112.04 96.80,114.28 97.32,116.49 97.85,118.67 98.38,120.82 98.90,122.92 99.43,124.98 99.96,126.98 100.48,128.94 101.01,130.83 101.54,132.65 102.06,134.41 102.59,136.09 103.12,137.70 103.64,139.22 104.17,140.66 104.70,142.01 105.22,143.28 105.75,144.45 106.28,145.54 106.80,146.55 107.33,147.46 107.86,148.30 108.38,149.06 108.91,149.74 109.44,150.34 109.96,150.88 110.49,151.35 111.02,151.76 111.55,152.11 112.07,152.41 112.60,152.65 113.13,152.85 113.65,152.99 114.18,153.09 114.71,153.14 115.23,153.15 115.76,153.12 116.29,153.04 116.81,152.92 117.34,152.75 117.87,152.53 118.39,152.26 118.92,151.93 119.45,151.55 119.97,151.11 120.50,150.60 121.03,150.02 121.55,149.38 122.08,148.66 122.61,147.86 123.13,146.98 123.66,146.01 124.19,144.96 124.71,143.82 125.24,142.60 125.77,141.29 126.29,139.89 126.82,138.40 127.35,136.84 127.87,135.19 128.40,133.47 128.93,131.67 129.45,129.81 129.98,127.88 130.51,125.90 131.03,123.87 131.56,121.78 132.09,119.66 132.62,117.49 133.14,115.30 133.67,113.07 134.20,110.81 134.72,108.52 135.25,106.21 135.78,103.87 136.30,101.51 136.83,99.11 137.36,96.69 137.88,94.25 138.41,91.76 138.94,89.25 139.46,86.70 139.99,84.11 140.52,81.48 141.04,78.81 141.57,76.10 142.10,73.35 142.62,70.57 143.15,67.76 143.68,64.92 144.20,62.07 144.73,59.22 145.26,56.37 145.78,53.55 146.31,50.77 146.84,48.04 147.36,45.40 147.89,42.86 148.42,40.44 148.94,38.17 149.47,36.07 150.00,34.17 150.52,32.49 151.05,31.05 151.58,29.87 152.10,28.96 152.63,28.33 153.16,28.00 153.69,27.97 154.21,28.23 154.74,28.79 155.27,29.64 155.79,30.77 156.32,32.15 156.85,33.78 157.37,35.64 157.90,37.69 158.43,39.92 158.95,42.31 159.48,44.83 160.01,47.45 160.53,50.16 161.06,52.93 161.59,55.75 162.11,58.59 162.64,61.45 163.17,64.30 163.69,67.14 164.22,69.95 164.75,72.74 165.27,75.48 165.80,78.19 166.33,80.86 166.85,83.49 167.38,86.07 167.91,88.62 168.43,91.14 168.96,93.62 169.49,96.06 170.01,98.48 170.54,100.87 171.07,103.23 171.59,105.57 172.12,107.88 172.65,110.17 173.17,112.43 173.70,114.66 174.23,116.86 174.75,119.03 175.28,121.17 175.81,123.26 176.34,125.31 176.86,127.30 177.39,129.24 177.92,131.12 178.44,132.94 178.97,134.68 179.50,136.36 180.02,137.95 180.55,139.46 181.08,140.89 181.60,142.24 182.13,143.50 182.66,144.67 183.18,145.75 183.71,146.75 184.24,147.67 184.76,148.51 185.29,149.26 185.82,149.94 186.34,150.55 186.87,151.09 187.40,151.57 187.92,151.98 188.45,152.34 188.98,152.63 189.50,152.88 190.03,153.07 190.56,153.22 191.08,153.31 191.61,153.36 192.14,153.37 192.66,153.32 193.19,153.23 193.72,153.10 194.24,152.91 194.77,152.67 195.30,152.37 195.82,152.02 196.35,151.61 196.88,151.13 197.41,150.58 197.93,149.97 198.46,149.27 198.99,148.51 199.51,147.66 200.04,146.72 200.57,145.70 201.09,144.60 201.62,143.40 202.15,142.12 202.67,140.75 203.20,139.29 203.73,137.75 204.25,136.13 204.78,134.43 205.31,132.65 205.83,130.80 206.36,128.89 206.89,126.92 207.41,124.89 207.94,122.81 208.47,120.68 208.99,118.51 209.52,116.31 210.05,114.07 210.57,111.81 211.10,109.51 211.63,107.19 212.15,104.85 212.68,102.48 213.21,100.09 213.73,97.67 214.26,95.23 214.79,92.77 215.31,90.28 215.84,87.76 216.37,85.21 216.89,82.63 217.42,80.02 217.95,77.38 218.48,74.71 219.00,72.02 219.53,69.31 220.06,66.58 220.58,63.84 221.11,61.11 221.64,58.38 222.16,55.68 222.69,53.02 223.22,50.41 223.74,47.88 224.27,45.43 224.80,43.10 225.32,40.90 225.85,38.85 226.38,36.97 226.90,35.29 227.43,33.81 227.96,32.57 228.48,31.56 229.01,30.81 229.54,30.32 230.06,30.10 230.59,30.15 231.12,30.47 231.64,31.06 232.17,31.91 232.70,33.00 233.22,34.32 233.75,35.86 234.28,37.60 234.80,39.53 235.33,41.61 235.86,43.83 236.38,46.17 236.91,48.61 237.44,51.14 237.96,53.72 238.49,56.36 239.02,59.02 239.55,61.70 240.07,64.40 240.60,67.09 241.13,69.77 241.65,72.43 242.18,75.07 242.71,77.69 243.23,80.29 243.76,82.85 244.29,85.39 244.81,87.91 245.34,90.40 245.87,92.86 246.39,95.30 246.92,97.72 247.45,100.11 247.97,102.49 248.50,104.84" fill="none" stroke="#2f9f2f" stroke-width="1.20" stroke-dasharray="3.4,1.4"/>
<path d="M310.50,38.19 311.03,37.79 311.55,37.57 312.08,37.54 312.61,37.70 313.13,38.05 313.66,38.57 314.19,39.28 314.71,40.16 315.24,41.20 315.77,42.40 316.29,43.75 316.82,45.24 317.35,46.85 317.87,48.58 318.40,50.41 318.93,52.34 319.45,54.35 319.98,56.44 320.51,58.59 321.04,60.79 321.56,63.04 322.09,65.33 322.62,67.66 323.14,70.01 323.67,72.38 324.20,74.77 324.72,77.17 325.25,79.58 325.78,82.00 326.30,84.42 326.83,86.85 327.36,89.28 327.88,91.71 328.41,94.13 328.94,96.56 329.46,98.97 329.99,101.38 330.52,103.78 331.04,106.17 331.57,108.54 332.10,110.90 332.62,113.23 333.15,115.54 333.68,117.82 334.20,120.06 334.73,122.27 335.26,124.43 335.78,126.54 336.31,128.60 336.84,130.61 337.36,132.55 337.89,134.43 338.42,136.24 338.94,137.97 339.47,139.63 340.00,141.20 340.52,142.70 341.05,144.11 341.58,145.44 342.11,146.68 342.63,147.84 343.16,148.91 343.69,149.89 344.21,150.79 344.74,151.61 345.27,152.34 345.79,152.99 346.32,153.57 346.85,154.06 347.37,154.48 347.90,154.82 348.43,155.09 348.95,155.28 349.48,155.41 350.01,155.46 350.53,155.43 351.06,155.34 351.59,155.17 352.11,154.93 352.64,154.61 353.17,154.22 353.69,153.76 354.22,153.21 354.75,152.59 355.27,151.89 355.80,151.10 356.33,150.23 356.85,149.28 357.38,148.24 357.91,147.12 358.43,145.91 358.96,144.61 359.49,143.23 360.01,141.76 360.54,140.22 361.07,138.59 361.59,136.88 362.12,135.10 362.65,133.25 363.18,131.33 363.70,129.35 364.23,127.31 364.76,125.21 365.28,123.07 365.81,120.88 366.34,118.65 366.86,116.38 367.39,114.08 367.92,111.76 368.44,109.41 368.97,107.05 369.50,104.66 370.02,102.27 370.55,99.86 371.08,97.45 371.60,95.03 372.13,92.60 372.66,90.17 373.18,87.74 373.71,85.32 374.24,82.89 374.76,80.47 375.29,78.06 375.82,75.65 376.34,73.26 376.87,70.88 377.40,68.52 377.92,66.19 378.45,63.88 378.98,61.62 379.50,59.39 380.03,57.22 380.56,55.11 381.08,53.07 381.61,51.11 382.14,49.24 382.66,47.47 383.19,45.82 383.72,44.28 384.25,42.88 384.77,41.63 385.30,40.52 385.83,39.58 386.35,38.81 386.88,38.22 387.41,37.81 387.93,37.58 388.46,37.54 388.99,37.69 389.51,38.02 390.04,38.53 390.57,39.23 391.09,40.10 391.62,41.13 392.15,42.32 392.67,43.66 393.20,45.14 393.73,46.74 394.25,48.47 394.78,50.29 395.31,52.22 395.83,54.22 396.36,56.30 396.89,58.45 397.41,60.65 397.94,62.90 398.47,65.19 398.99,67.51 399.52,69.86 400.05,72.23 400.57,74.61 401.10,77.01 401.63,79.43 402.15,81.84 402.68,84.27 403.21,86.70 403.73,89.12 404.26,91.55 404.79,93.98 405.31,96.40 405.84,98.82 406.37,101.23 406.90,103.63 407.42,106.02 407.95,108.39 408.48,110.75 409.00,113.08 409.53,115.39 410.06,117.67 410.58,119.92 411.11,122.13 411.64,124.29 412.16,126.41 412.69,128.47 413.22,130.48 413.74,132.43 414.27,134.31 414.80,136.12 415.32,137.86 415.85,139.52 416.38,141.10 416.90,142.61 417.43,144.02 417.96,145.36 418.48,146.60 419.01,147.76 419.54,148.84 420.06,149.83 420.59,150.74 421.12,151.56 421.64,152.30 422.17,152.95 422.70,153.53 423.22,154.03 423.75,154.46 424.28,154.80 424.80,155.08 425.33,155.27 425.86,155.40 426.38,155.45 426.91,155.44 427.44,155.35 427.97,155.18 428.49,154.95 429.02,154.64 429.55,154.25 430.07,153.79 430.60,153.25 431.13,152.63 431.65,151.93 432.18,151.15 432.71,150.29 433.23,149.34 433.76,148.31 434.29,147.19 434.81,145.99 435.34,144.69 435.87,143.32 436.39,141.86 436.92,140.32 437.45,138.69 437.97,136.99 438.50,135.22 439.03,133.37 439.55,131.46 440.08,129.48 440.61,127.44 441.13,125.35 441.66,123.20 442.19,121.02 442.71,118.79 443.24,116.53 443.77,114.23 444.29,111.91 444.82,109.56 445.35,107.20 445.87,104.82 446.40,102.42 446.93,100.01 447.46,97.60 447.98,95.18 448.51,92.76 449.04,90.33 449.56,87.90 450.09,85.47 450.62,83.05 451.14,80.62 451.67,78.21 452.20,75.80 452.72,73.41 453.25,71.03 453.78,68.67 454.30,66.33 454.83,64.03 455.36,61.76 455.88,59.53 456.41,57.36 456.94,55.25 457.46,53.20 457.99,51.24 458.52,49.36 459.04,47.58 459.57,45.92 460.10,44.38 460.62,42.97 461.15,41.70 461.68,40.59 462.20,39.64 462.73,38.86 463.26,38.25 463.78,37.83 464.31,37.59 464.84,37.54 465.36,37.67 465.89,37.99 466.42,38.50 466.94,39.18 467.47,40.04 468.00,41.06 468.52,42.24 469.05,43.57 469.58,45.04 470.11,46.64 470.63,48.35 471.16,50.17 471.69,52.09 472.21,54.09 472.74,56.17 473.27,58.31 473.79,60.51 474.32,62.75 474.85,65.04 475.37,67.36 475.90,69.71 476.43,72.07 476.95,74.46 477.48,76.86 478.01,79.27 478.53,81.69 479.06,84.11 479.59,86.54 480.11,88.97 480.64,91.40 481.17,93.82 481.69,96.25 482.22,98.66 482.75,101.07 483.27,103.48 483.80,105.87 484.33,108.24 484.85,110.60 485.38,112.93 485.91,115.24 486.43,117.53 486.96,119.77 487.49,121.99 488.01,124.15 488.54,126.27 489.07,128.34 489.60,130.36 490.12,132.31 490.65,134.19 491.18,136.01 491.70,137.75 492.23,139.42 492.76,141.01 493.28,142.51 493.81,143.93 494.34,145.27 494.86,146.53 495.39,147.69 495.92,148.77 496.44,149.77 496.97,150.68 497.50,151.51 498.02,152.25 498.55,152.91 499.08,153.50 499.60,154.00 500.13,154.43 500.66,154.78 501.18,155.06 501.71,155.26 502.24,155.39 502.76,155.45 503.29,155.44 503.82,155.35 504.34,155.20 504.87,154.96 505.40,154.66 505.92,154.28 506.45,153.82 506.98,153.29 507.50,152.67 508.03,151.98 508.56,151.21 509.08,150.35 509.61,149.40 510.14,148.38 510.66,147.26 511.19,146.06 511.72,144.78 512.25,143.41 512.77,141.96 513.30,140.42 513.83,138.80 514.35,137.10 514.88,135.33 515.41,133.49 515.93,131.58 516.46,129.61 516.99,127.57 517.51,125.48 518.04,123.34 518.57,121.16 519.09,118.93 519.62,116.67 520.15,114.38 520.67,112.06 521.20,109.71" fill="none" stroke="#2f9f2f" stroke-width="1.20" stroke-dasharray="3.4,1.4"/>
<path d="M37.80,153.16 38.33,153.13 38.85,153.07 39.38,152.95 39.91,152.79 40.43,152.59 40.96,152.33 41.49,152.01 42.01,151.64 42.54,151.21 43.07,150.72 43.59,150.16 44.12,149.52 44.65,148.81 45.17,148.03 45.70,147.16 46.23,146.21 46.75,145.17 47.28,144.04 47.81,142.83 48.33,141.52 48.86,140.13 49.39,138.65 49.92,137.09 50.44,135.45 50.97,133.73 51.50,131.94 52.02,130.08 52.55,128.15 53.08,126.16 53.60,124.13 54.13,122.04 54.66,119.91 55.18,117.74 55.71,115.53 56.24,113.30 56.76,111.03 57.29,108.73 57.82,106.41 58.34,104.07 58.87,101.69 59.40,99.29 59.92,96.86 60.45,94.40 60.98,91.91 61.50,89.39 62.03,86.82 62.56,84.22 63.08,81.58 63.61,78.90 64.14,76.18 64.66,73.42 65.19,70.63 65.72,67.80 66.24,64.96 66.77,62.09 67.30,59.22 67.82,56.36 68.35,53.53 68.88,50.73 69.41,48.00 69.93,45.34 70.46,42.79 70.99,40.36 71.51,38.09 72.04,35.99 72.57,34.09 73.09,32.41 73.62,30.98 74.15,29.80 74.67,28.91 75.20,28.30 75.73,27.99 76.25,27.98 76.78,28.27 77.31,28.86 77.83,29.74 78.36,30.89 78.89,32.31 79.41,33.98 79.94,35.86 80.47,37.95 80.99,40.21 81.52,42.63 82.05,45.17 82.57,47.82 83.10,50.55 83.63,53.35 84.15,56.18 84.68,59.04 85.21,61.91 85.73,64.77 86.26,67.62 86.79,70.45 87.31,73.25 87.84,76.01 88.37,78.73 88.89,81.41 89.42,84.06 89.95,86.66 90.47,89.22 91.00,91.75 91.53,94.25 92.06,96.71 92.58,99.14 93.11,101.54 93.64,103.91 94.16,106.26 94.69,108.59 95.22,110.88 95.74,113.15 96.27,115.39 96.80,117.60 97.32,119.77 97.85,121.90 98.38,123.99 98.90,126.04 99.43,128.02 99.96,129.95 100.48,131.82 101.01,133.62 101.54,135.34 102.06,136.99 102.59,138.56 103.12,140.04 103.64,141.44 104.17,142.74 104.70,143.97 105.22,145.10 105.75,146.14 106.28,147.10 106.80,147.97 107.33,148.76 107.86,149.48 108.38,150.12 108.91,150.68 109.44,151.18 109.96,151.62 110.49,151.99 111.02,152.31 111.55,152.57 112.07,152.78 112.60,152.95 113.13,153.06 113.65,153.13 114.18,153.16 114.71,153.14 115.23,153.07 115.76,152.96 116.29,152.81 116.81,152.60 117.34,152.34 117.87,152.04 118.39,151.67 118.92,151.24 119.45,150.75 119.97,150.19 120.50,149.56 121.03,148.86 121.55,148.08 122.08,147.22 122.61,146.27 123.13,145.24 123.66,144.11 124.19,142.91 124.71,141.61 125.24,140.22 125.77,138.75 126.29,137.20 126.82,135.56 127.35,133.84 127.87,132.05 128.40,130.20 128.93,128.27 129.45,126.29 129.98,124.26 130.51,122.17 131.03,120.05 131.56,117.88 132.09,115.68 132.62,113.44 133.14,111.18 133.67,108.88 134.20,106.56 134.72,104.22 135.25,101.84 135.78,99.45 136.30,97.02 136.83,94.56 137.36,92.07 137.88,89.55 138.41,86.99 138.94,84.39 139.46,81.75 139.99,79.07 140.52,76.36 141.04,73.60 141.57,70.81 142.10,67.99 142.62,65.14 143.15,62.28 143.68,59.41 144.20,56.55 144.73,53.71 145.26,50.91 145.78,48.17 146.31,45.51 146.84,42.95 147.36,40.51 147.89,38.23 148.42,36.12 148.94,34.21 149.47,32.51 150.00,31.06 150.52,29.87 151.05,28.95 151.58,28.33 152.10,28.00 152.63,27.97 153.16,28.24 153.69,28.81 154.21,29.67 154.74,30.81 155.27,32.21 155.79,33.86 156.32,35.74 156.85,37.81 157.37,40.06 157.90,42.47 158.43,45.01 158.95,47.65 159.48,50.38 160.01,53.17 160.53,56.00 161.06,58.86 161.59,61.73 162.11,64.59 162.64,67.44 163.17,70.27 163.69,73.07 164.22,75.83 164.75,78.56 165.27,81.24 165.80,83.89 166.33,86.49 166.85,89.06 167.38,91.59 167.91,94.09 168.43,96.55 168.96,98.98 169.49,101.39 170.01,103.76 170.54,106.11 171.07,108.44 171.59,110.74 172.12,113.01 172.65,115.25 173.17,117.46 173.70,119.63 174.23,121.77 174.75,123.86 175.28,125.91 175.81,127.90 176.34,129.83 176.86,131.70 177.39,133.51 177.92,135.23 178.44,136.89 178.97,138.46 179.50,139.95 180.02,141.35 180.55,142.66 181.08,143.89 181.60,145.03 182.13,146.08 182.66,147.04 183.18,147.92 183.71,148.72 184.24,149.44 184.76,150.08 185.29,150.65 185.82,151.15 186.34,151.59 186.87,151.97 187.40,152.29 187.92,152.56 188.45,152.77 188.98,152.94 189.50,153.05 190.03,153.13 190.56,153.16 191.08,153.14 191.61,153.08 192.14,152.97 192.66,152.82 193.19,152.62 193.72,152.36 194.24,152.06 194.77,151.69 195.30,151.27 195.82,150.78 196.35,150.23 196.88,149.61 197.41,148.91 197.93,148.13 198.46,147.27 198.99,146.33 199.51,145.30 200.04,144.19 200.57,142.99 201.09,141.69 201.62,140.31 202.15,138.85 202.67,137.30 203.20,135.67 203.73,133.95 204.25,132.17 204.78,130.32 205.31,128.40 205.83,126.42 206.36,124.39 206.89,122.31 207.41,120.18 207.94,118.02 208.47,115.82 208.99,113.58 209.52,111.32 210.05,109.03 210.57,106.71 211.10,104.37 211.63,102.00 212.15,99.60 212.68,97.18 213.21,94.72 213.73,92.23 214.26,89.71 214.79,87.15 215.31,84.56 215.84,81.92 216.37,79.25 216.89,76.53 217.42,73.78 217.95,70.99 218.48,68.17 219.00,65.32 219.53,62.46 220.06,59.59 220.58,56.73 221.11,53.89 221.64,51.09 222.16,48.34 222.69,45.67 223.22,43.11 223.74,40.67 224.27,38.37 224.80,36.25 225.32,34.32 225.85,32.61 226.38,31.15 226.90,29.94 227.43,29.00 227.96,28.36 228.48,28.01 229.01,27.96 229.54,28.21 230.06,28.77 230.59,29.61 231.12,30.73 231.64,32.12 232.17,33.75 232.70,35.61 233.22,37.67 233.75,39.91 234.28,42.31 234.80,44.84 235.33,47.48 235.86,50.20 236.38,52.99 236.91,55.82 237.44,58.67 237.96,61.54 238.49,64.41 239.02,67.26 239.55,70.09 240.07,72.89 240.60,75.65 241.13,78.38 241.65,81.07 242.18,83.72 242.71,86.33 243.23,88.90 243.76,91.43 244.29,93.93 244.81,96.39 245.34,98.83 245.87,101.23 246.39,103.61 246.92,105.96 247.45,108.29 247.97,110.59 248.50,112.86" fill="none" stroke="#aa50dc" stroke-width="1.10" stroke-dasharray="2.2,1.4"/>
<path d="M310.50,28.64 311.03,29.42 311.55,30.49 312.08,31.83 312.61,33.42 313.13,35.24 313.66,37.26 314.19,39.47 314.71,41.84 315.24,44.35 315.77,46.96 316.29,49.67 316.82,52.45 317.35,55.27 317.87,58.12 318.40,60.99 318.93,63.86 319.45,66.71 319.98,69.55 320.51,72.35 321.04,75.13 321.56,77.86 322.09,80.56 322.62,83.21 323.14,85.83 323.67,88.41 324.20,90.95 324.72,93.45 325.25,95.92 325.78,98.36 326.30,100.77 326.83,103.16 327.36,105.51 327.88,107.85 328.41,110.15 328.94,112.43 329.46,114.68 329.99,116.90 330.52,119.08 331.04,121.23 331.57,123.33 332.10,125.39 332.62,127.39 333.15,129.34 333.68,131.23 334.20,133.05 334.73,134.80 335.26,136.47 335.78,138.06 336.31,139.57 336.84,141.00 337.36,142.34 337.89,143.58 338.42,144.74 338.94,145.82 339.47,146.80 340.00,147.70 340.52,148.52 341.05,149.26 341.58,149.92 342.11,150.51 342.63,151.03 343.16,151.49 343.69,151.88 344.21,152.21 344.74,152.49 345.27,152.72 345.79,152.90 346.32,153.03 346.85,153.11 347.37,153.15 347.90,153.15 348.43,153.10 348.95,153.00 349.48,152.86 350.01,152.67 350.53,152.43 351.06,152.14 351.59,151.79 352.11,151.39 352.64,150.92 353.17,150.38 353.69,149.77 354.22,149.09 354.75,148.34 355.27,147.50 355.80,146.58 356.33,145.58 356.85,144.48 357.38,143.30 357.91,142.03 358.43,140.68 358.96,139.23 359.49,137.70 360.01,136.09 360.54,134.40 361.07,132.63 361.59,130.80 362.12,128.90 362.65,126.93 363.18,124.92 363.70,122.85 364.23,120.73 364.76,118.58 365.28,116.38 365.81,114.16 366.34,111.90 366.86,109.62 367.39,107.31 367.92,104.97 368.44,102.61 368.97,100.22 369.50,97.80 370.02,95.35 370.55,92.87 371.08,90.36 371.60,87.81 372.13,85.23 372.66,82.60 373.18,79.94 373.71,77.23 374.24,74.49 374.76,71.71 375.29,68.89 375.82,66.05 376.34,63.19 376.87,60.33 377.40,57.46 377.92,54.61 378.45,51.80 378.98,49.04 379.50,46.35 380.03,43.75 380.56,41.28 381.08,38.94 381.61,36.77 382.14,34.79 382.66,33.03 383.19,31.50 383.72,30.22 384.25,29.22 384.77,28.50 385.30,28.07 385.83,27.94 386.35,28.12 386.88,28.60 387.41,29.37 387.93,30.42 388.46,31.74 388.99,33.31 389.51,35.11 390.04,37.13 390.57,39.32 391.09,41.68 391.62,44.18 392.15,46.79 392.67,49.50 393.20,52.27 393.73,55.09 394.25,57.94 394.78,60.81 395.31,63.68 395.83,66.53 396.36,69.37 396.89,72.18 397.41,74.95 397.94,77.69 398.47,80.39 398.99,83.05 399.52,85.66 400.05,88.24 400.57,90.79 401.10,93.29 401.63,95.76 402.15,98.21 402.68,100.62 403.21,103.01 403.73,105.36 404.26,107.70 404.79,110.00 405.31,112.28 405.84,114.54 406.37,116.76 406.90,118.94 407.42,121.09 407.95,123.20 408.48,125.26 409.00,127.27 409.53,129.22 410.06,131.11 410.58,132.94 411.11,134.69 411.64,136.37 412.16,137.97 412.69,139.48 413.22,140.91 413.74,142.25 414.27,143.51 414.80,144.67 415.32,145.75 415.85,146.74 416.38,147.65 416.90,148.47 417.43,149.21 417.96,149.88 418.48,150.47 419.01,151.00 419.54,151.46 420.06,151.85 420.59,152.19 421.12,152.48 421.64,152.71 422.17,152.89 422.70,153.02 423.22,153.11 423.75,153.15 424.28,153.15 424.80,153.10 425.33,153.01 425.86,152.87 426.38,152.69 426.91,152.45 427.44,152.16 427.97,151.82 428.49,151.41 429.02,150.95 429.55,150.42 430.07,149.81 430.60,149.14 431.13,148.39 431.65,147.56 432.18,146.64 432.71,145.64 433.23,144.56 433.76,143.38 434.29,142.12 434.81,140.77 435.34,139.33 435.87,137.80 436.39,136.20 436.92,134.51 437.45,132.75 437.97,130.92 438.50,129.02 439.03,127.06 439.55,125.05 440.08,122.98 440.61,120.87 441.13,118.72 441.66,116.53 442.19,114.30 442.71,112.05 443.24,109.77 443.77,107.46 444.29,105.12 444.82,102.76 445.35,100.37 445.87,97.95 446.40,95.51 446.93,93.03 447.46,90.52 447.98,87.98 448.51,85.39 449.04,82.77 449.56,80.11 450.09,77.41 450.62,74.66 451.14,71.88 451.67,69.07 452.20,66.24 452.72,63.38 453.25,60.51 453.78,57.64 454.30,54.79 454.83,51.98 455.36,49.21 455.88,46.52 456.41,43.92 456.94,41.43 457.46,39.09 457.99,36.91 458.52,34.92 459.04,33.14 459.57,31.59 460.10,30.30 460.62,29.27 461.15,28.53 461.68,28.09 462.20,27.94 462.73,28.10 463.26,28.56 463.78,29.31 464.31,30.34 464.84,31.65 465.36,33.20 465.89,34.99 466.42,36.99 466.94,39.18 467.47,41.53 468.00,44.02 468.52,46.62 469.05,49.32 469.58,52.09 470.11,54.91 470.63,57.76 471.16,60.62 471.69,63.49 472.21,66.35 472.74,69.19 473.27,72.00 473.79,74.77 474.32,77.51 474.85,80.22 475.37,82.88 475.90,85.50 476.43,88.08 476.95,90.62 477.48,93.13 478.01,95.61 478.53,98.05 479.06,100.47 479.59,102.85 480.11,105.21 480.64,107.55 481.17,109.86 481.69,112.14 482.22,114.39 482.75,116.61 483.27,118.80 483.80,120.95 484.33,123.06 484.85,125.13 485.38,127.14 485.91,129.10 486.43,130.99 486.96,132.82 487.49,134.58 488.01,136.26 488.54,137.87 489.07,139.39 489.60,140.82 490.12,142.17 490.65,143.43 491.18,144.60 491.70,145.68 492.23,146.68 492.76,147.59 493.28,148.42 493.81,149.17 494.34,149.84 494.86,150.44 495.39,150.97 495.92,151.43 496.44,151.83 496.97,152.17 497.50,152.46 498.02,152.69 498.55,152.88 499.08,153.01 499.60,153.10 500.13,153.15 500.66,153.15 501.18,153.11 501.71,153.02 502.24,152.88 502.76,152.70 503.29,152.47 503.82,152.18 504.34,151.84 504.87,151.44 505.40,150.98 505.92,150.45 506.45,149.86 506.98,149.19 507.50,148.44 508.03,147.61 508.56,146.70 509.08,145.71 509.61,144.63 510.14,143.46 510.66,142.20 511.19,140.85 511.72,139.42 512.25,137.90 512.77,136.30 513.30,134.62 513.83,132.86 514.35,131.04 514.88,129.14 515.41,127.19 515.93,125.18 516.46,123.11 516.99,121.01 517.51,118.86 518.04,116.67 518.57,114.45 519.09,112.19 519.62,109.91 520.15,107.60 520.67,105.27 521.20,102.91" fill="none" stroke="#aa50dc" stroke-width="1.10" stroke-dasharray="2.2,1.4"/>
<path d="M37.80,153.16 38.33,153.13 38.85,153.07 39.38,152.95 39.91,152.79 40.43,152.59 40.96,152.33 41.49,152.01 42.01,151.64 42.54,151.21 43.07,150.72 43.59,150.16 44.12,149.52 44.65,148.81 45.17,148.03 45.70,147.16 46.23,146.21 46.75,145.17 47.28,144.04 47.81,142.83 48.33,141.52 48.86,140.13 49.39,138.65 49.92,137.09 50.44,135.45 50.97,133.73 51.50,131.94 52.02,130.08 52.55,128.15 53.08,126.16 53.60,124.13 54.13,122.04 54.66,119.91 55.18,117.74 55.71,115.53 56.24,113.30 56.76,111.03 57.29,108.73 57.82,106.41 58.34,104.07 58.87,101.69 59.40,99.29 59.92,96.86 60.45,94.40 60.98,91.91 61.50,89.39 62.03,86.82 62.56,84.22 63.08,81.58 63.61,78.90 64.14,76.18 64.66,73.42 65.19,70.63 65.72,67.80 66.24,64.96 66.77,62.09 67.30,59.22 67.82,56.36 68.35,53.53 68.88,50.73 69.41,48.00 69.93,45.34 70.46,42.79 70.99,40.36 71.51,38.09 72.04,35.99 72.57,34.09 73.09,32.41 73.62,30.98 74.15,29.80 74.67,28.91 75.20,28.30 75.73,27.99 76.25,27.98 76.78,28.27 77.31,28.86 77.83,29.74 78.36,30.89 78.89,32.31 79.41,33.98 79.94,35.86 80.47,37.95 80.99,40.21 81.52,42.63 82.05,45.17 82.57,47.82 83.10,50.55 83.63,53.35 84.15,56.18 84.68,59.04 85.21,61.91 85.73,64.77 86.26,67.62 86.79,70.45 87.31,73.25 87.84,76.01 88.37,78.73 88.89,81.41 89.42,84.06 89.95,86.66 90.47,89.22 91.00,91.75 91.53,94.25 92.06,96.71 92.58,99.14 93.11,101.54 93.64,103.91 94.16,106.26 94.69,108.59 95.22,110.88 95.74,113.15 96.27,115.39 96.80,117.60 97.32,119.77 97.85,121.90 98.38,123.99 98.90,126.04 99.43,128.02 99.96,129.95 100.48,131.82 101.01,133.62 101.54,135.34 102.06,136.99 102.59,138.56 103.12,140.04 103.64,141.44 104.17,142.74 104.70,143.97 105.22,145.10 105.75,146.14 106.28,147.10 106.80,147.97 107.33,148.76 107.86,149.48 108.38,150.12 108.91,150.68 109.44,151.18 109.96,151.62 110.49,151.99 111.02,152.31 111.55,152.57 112.07,152.78 112.60,152.95 113.13,153.06 113.65,153.13 114.18,153.16 114.71,153.14 115.23,153.07 115.76,152.96 116.29,152.81 116.81,152.60 117.34,152.34 117.87,152.04 118.39,151.67 118.92,151.24 119.45,150.75 119.97,150.19 120.50,149.56 121.03,148.86 121.55,148.08 122.08,147.22 122.61,146.27 123.13,145.24 123.66,144.11 124.19,142.91 124.71,141.61 125.24,140.22 125.77,138.75 126.29,137.20 126.82,135.56 127.35,133.84 127.87,132.05 128.40,130.20 128.93,128.27 129.45,126.29 129.98,124.26 130.51,122.17 131.03,120.05 131.56,117.88 132.09,115.68 132.62,113.44 133.14,111.18 133.67,108.88 134.20,106.56 134.72,104.22 135.25,101.84 135.78,99.45 136.30,97.02 136.83,94.56 137.36,92.07 137.88,89.55 138.41,86.99 138.94,84.39 139.46,81.75 139.99,79.07 140.52,76.36 141.04,73.60 141.57,70.81 142.10,67.99 142.62,65.14 143.15,62.28 143.68,59.41 144.20,56.55 144.73,53.71 145.26,50.91 145.78,48.17 146.31,45.51 146.84,42.95 147.36,40.51 147.89,38.23 148.42,36.12 148.94,34.21 149.47,32.51 150.00,31.06 150.52,29.87 151.05,28.95 151.58,28.33 152.10,28.00 152.63,27.97 153.16,28.24 153.69,28.81 154.21,29.67 154.74,30.81 155.27,32.21 155.79,33.86 156.32,35.74 156.85,37.81 157.37,40.06 157.90,42.47 158.43,45.01 158.95,47.65 159.48,50.38 160.01,53.17 160.53,56.00 161.06,58.86 161.59,61.73 162.11,64.59 162.64,67.44 163.17,70.27 163.69,73.07 164.22,75.83 164.75,78.56 165.27,81.24 165.80,83.89 166.33,86.49 166.85,89.06 167.38,91.59 167.91,94.09 168.43,96.55 168.96,98.98 169.49,101.39 170.01,103.76 170.54,106.11 171.07,108.44 171.59,110.74 172.12,113.01 172.65,115.25 173.17,117.46 173.70,119.63 174.23,121.77 174.75,123.86 175.28,125.91 175.81,127.90 176.34,129.83 176.86,131.70 177.39,133.51 177.92,135.23 178.44,136.89 178.97,138.46 179.50,139.95 180.02,141.35 180.55,142.66 181.08,143.89 181.60,145.03 182.13,146.08 182.66,147.04 183.18,147.92 183.71,148.72 184.24,149.44 184.76,150.08 185.29,150.65 185.82,151.15 186.34,151.59 186.87,151.97 187.40,152.29 187.92,152.56 188.45,152.77 188.98,152.94 189.50,153.05 190.03,153.13 190.56,153.16 191.08,153.14 191.61,153.08 192.14,152.97 192.66,152.82 193.19,152.62 193.72,152.36 194.24,152.06 194.77,151.69 195.30,151.27 195.82,150.78 196.35,150.23 196.88,149.61 197.41,148.91 197.93,148.13 198.46,147.27 198.99,146.33 199.51,145.30 200.04,144.19 200.57,142.99 201.09,141.69 201.62,140.31 202.15,138.85 202.67,137.30 203.20,135.67 203.73,133.95 204.25,132.17 204.78,130.32 205.31,128.40 205.83,126.42 206.36,124.39 206.89,122.31 207.41,120.18 207.94,118.02 208.47,115.82 208.99,113.58 209.52,111.32 210.05,109.03 210.57,106.71 211.10,104.37 211.63,102.00 212.15,99.60 212.68,97.18 213.21,94.72 213.73,92.23 214.26,89.71 214.79,87.15 215.31,84.56 215.84,81.92 216.37,79.25 216.89,76.53 217.42,73.78 217.95,70.99 218.48,68.17 219.00,65.32 219.53,62.46 220.06,59.59 220.58,56.73 221.11,53.89 221.64,51.09 222.16,48.34 222.69,45.67 223.22,43.11 223.74,40.67 224.27,38.37 224.80,36.25 225.32,34.32 225.85,32.61 226.38,31.15 226.90,29.94 227.43,29.00 227.96,28.36 228.48,28.01 229.01,27.96 229.54,28.21 230.06,28.77 230.59,29.61 231.12,30.73 231.64,32.12 232.17,33.75 232.70,35.61 233.22,37.67 233.75,39.91 234.28,42.31 234.80,44.84 235.33,47.48 235.86,50.20 236.38,52.99 236.91,55.82 237.44,58.67 237.96,61.54 238.49,64.41 239.02,67.26 239.55,70.09 240.07,72.89 240.60,75.65 241.13,78.38 241.65,81.07 242.18,83.72 242.71,86.33 243.23,88.90 243.76,91.43 244.29,93.93 244.81,96.39 245.34,98.83 245.87,101.23 246.39,103.61 246.92,105.96 247.45,108.29 247.97,110.59 248.50,112.86" fill="none" stroke="#466ef5" stroke-width="1.00"/>
<path d="M310.50,28.64 311.03,29.42 311.55,30.49 312.08,31.83 312.61,33.42 313.13,35.24 313.66,37.26 314.19,39.47 314.71,41.84 315.24,44.35 315.77,46.96 316.29,49.67 316.82,52.45 317.35,55.27 317.87,58.12 318.40,60.99 318.93,63.86 319.45,66.71 319.98,69.55 320.51,72.35 321.04,75.13 321.56,77.86 322.09,80.56 322.62,83.21 323.14,85.83 323.67,88.41 324.20,90.95 324.72,93.45 325.25,95.92 325.78,98.36 326.30,100.77 326.83,103.16 327.36,105.51 327.88,107.85 328.41,110.15 328.94,112.43 329.46,114.68 329.99,116.90 330.52,119.08 331.04,121.23 331.57,123.33 332.10,125.39 332.62,127.39 333.15,129.34 333.68,131.23 334.20,133.05 334.73,134.80 335.26,136.47 335.78,138.06 336.31,139.57 336.84,141.00 337.36,142.34 337.89,143.58 338.42,144.74 338.94,145.82 339.47,146.80 340.00,147.70 340.52,148.52 341.05,149.26 341.58,149.92 342.11,150.51 342.63,151.03 343.16,151.49 343.69,151.88 344.21,152.21 344.74,152.49 345.27,152.72 345.79,152.90 346.32,153.03 346.85,153.11 347.37,153.15 347.90,153.15 348.43,153.10 348.95,153.00 349.48,152.86 350.01,152.67 350.53,152.43 351.06,152.14 351.59,151.79 352.11,151.39 352.64,150.92 353.17,150.38 353.69,149.77 354.22,149.09 354.75,148.34 355.27,147.50 355.80,146.58 356.33,145.58 356.85,144.48 357.38,143.30 357.91,142.03 358.43,140.68 358.96,139.23 359.49,137.70 360.01,136.09 360.54,134.40 361.07,132.63 361.59,130.80 362.12,128.90 362.65,126.93 363.18,124.92 363.70,122.85 364.23,120.73 364.76,118.58 365.28,116.38 365.81,114.16 366.34,111.90 366.86,109.62 367.39,107.31 367.92,104.97 368.44,102.61 368.97,100.22 369.50,97.80 370.02,95.35 370.55,92.87 371.08,90.36 371.60,87.81 372.13,85.23 372.66,82.60 373.18,79.94 373.71,77.23 374.24,74.49 374.76,71.71 375.29,68.89 375.82,66.05 376.34,63.19 376.87,60.33 377.40,57.46 377.92,54.61 378.45,51.80 378.98,49.04 379.50,46.35 380.03,43.75 380.56,41.28 381.08,38.94 381.61,36.77 382.14,34.79 382.66,33.03 383.19,31.50 383.72,30.22 384.25,29.22 384.77,28.50 385.30,28.07 385.83,27.94 386.35,28.12 386.88,28.60 387.41,29.37 387.93,30.42 388.46,31.74 388.99,33.31 389.51,35.11 390.04,37.13 390.57,39.32 391.09,41.68 391.62,44.18 392.15,46.79 392.67,49.50 393.20,52.27 393.73,55.09 394.25,57.94 394.78,60.81 395.31,63.68 395.83,66.53 396.36,69.37 396.89,72.18 397.41,74.95 397.94,77.69 398.47,80.39 398.99,83.05 399.52,85.66 400.05,88.24 400.57,90.79 401.10,93.29 401.63,95.76 402.15,98.21 402.68,100.62 403.21,103.01 403.73,105.36 404.26,107.70 404.79,110.00 405.31,112.28 405.84,114.54 406.37,116.76 406.90,118.94 407.42,121.09 407.95,123.20 408.48,125.26 409.00,127.27 409.53,129.22 410.06,131.11 410.58,132.94 411.11,134.69 411.64,136.37 412.16,137.97 412.69,139.48 413.22,140.91 413.74,142.25 414.27,143.51 414.80,144.67 415.32,145.75 415.85,146.74 416.38,147.65 416.90,148.47 417.43,149.21 417.96,149.88 418.48,150.47 419.01,151.00 419.54,151.46 420.06,151.85 420.59,152.19 421.12,152.48 421.64,152.71 422.17,152.89 422.70,153.02 423.22,153.11 423.75,153.15 424.28,153.15 424.80,153.10 425.33,153.01 425.86,152.87 426.38,152.69 426.91,152.45 427.44,152.16 427.97,151.82 428.49,151.41 429.02,150.95 429.55,150.42 430.07,149.81 430.60,149.14 431.13,148.39 431.65,147.56 432.18,146.64 432.71,145.64 433.23,144.56 433.76,143.38 434.29,142.12 434.81,140.77 435.34,139.33 435.87,137.80 436.39,136.20 436.92,134.51 437.45,132.75 437.97,130.92 438.50,129.02 439.03,127.06 439.55,125.05 440.08,122.98 440.61,120.87 441.13,118.72 441.66,116.53 442.19,114.30 442.71,112.05 443.24,109.77 443.77,107.46 444.29,105.12 444.82,102.76 445.35,100.37 445.87,97.95 446.40,95.51 446.93,93.03 447.46,90.52 447.98,87.98 448.51,85.39 449.04,82.77 449.56,80.11 450.09,77.41 450.62,74.66 451.14,71.88 451.67,69.07 452.20,66.24 452.72,63.38 453.25,60.51 453.78,57.64 454.30,54.79 454.83,51.98 455.36,49.21 455.88,46.52 456.41,43.92 456.94,41.43 457.46,39.09 457.99,36.91 458.52,34.92 459.04,33.14 459.57,31.59 460.10,30.30 460.62,29.27 461.15,28.53 461.68,28.09 462.20,27.94 462.73,28.10 463.26,28.56 463.78,29.31 464.31,30.34 464.84,31.65 465.36,33.20 465.89,34.99 466.42,36.99 466.94,39.18 467.47,41.53 468.00,44.02 468.52,46.62 469.05,49.32 469.58,52.09 470.11,54.91 470.63,57.76 471.16,60.62 471.69,63.49 472.21,66.35 472.74,69.19 473.27,72.00 473.79,74.77 474.32,77.51 474.85,80.22 475.37,82.88 475.90,85.50 476.43,88.08 476.95,90.62 477.48,93.13 478.01,95.61 478.53,98.05 479.06,100.47 479.59,102.85 480.11,105.21 480.64,107.55 481.17,109.86 481.69,112.14 482.22,114.39 482.75,116.61 483.27,118.80 483.80,120.95 484.33,123.06 484.85,125.13 485.38,127.14 485.91,129.10 486.43,130.99 486.96,132.82 487.49,134.58 488.01,136.26 488.54,137.87 489.07,139.39 489.60,140.82 490.12,142.17 490.65,143.43 491.18,144.60 491.70,145.68 492.23,146.68 492.76,147.59 493.28,148.42 493.81,149.17 494.34,149.84 494.86,150.44 495.39,150.97 495.92,151.43 496.44,151.83 496.97,152.17 497.50,152.46 498.02,152.69 498.55,152.88 499.08,153.01 499.60,153.10 500.13,153.15 500.66,153.15 501.18,153.11 501.71,153.02 502.24,152.88 502.76,152.70 503.29,152.47 503.82,152.18 504.34,151.84 504.87,151.44 505.40,150.98 505.92,150.45 506.45,149.86 506.98,149.19 507.50,148.44 508.03,147.61 508.56,146.70 509.08,145.71 509.61,144.63 510.14,143.46 510.66,142.20 511.19,140.85 511.72,139.42 512.25,137.90 512.77,136.30 513.30,134.62 513.83,132.86 514.35,131.04 514.88,129.14 515.41,127.19 515.93,125.18 516.46,123.11 516.99,121.01 517.51,118.86 518.04,116.67 518.57,114.45 519.09,112.19 519.62,109.91 520.15,107.60 520.67,105.27 521.20,102.91" fill="none" stroke="#466ef5" stroke-width="1.00"/>
</g>
<g clip-path="url(#c1)">
<path d="M34.85,306.46a2.95,2.95 0 1,0 5.90,0a2.95,2.95 0 1,0 -5.90,0M36.20,306.31a2.95,2.95 0 1,0 5.90,0a2.95,2.95 0 1,0 -5.90,0M37.55,305.86a2.95,2.95 0 1,0 5.90,0a2.95,2.95 0 1,0 -5.90,0M38.90,305.07a2.95,2.95 0 1,0 5.90,0a2.95,2.95 0 1,0 -5.90,0M40.24,303.89a2.95,2.95 0 1,0 5.90,0a2.95,2.95 0 1,0 -5.90,0M41.59,302.26a2.95,2.95 0 1,0 5.90,0a2.95,2.95 0 1,0 -5.90,0M42.94,300.12a2.95,2.95 0 1,0 5.90,0a2.95,2.95 0 1,0 -5.90,0M44.29,297.43a2.95,2.95 0 1,0 5.90,0a2.95,2.95 0 1,0 -5.90,0M45.64,294.17a2.95,2.95 0 1,0 5.90,0a2.95,2.95 0 1,0 -5.90,0M46.99,290.33a2.95,2.95 0 1,0 5.90,0a2.95,2.95 0 1,0 -5.90,0M48.33,285.96a2.95,2.95 0 1,0 5.90,0a2.95,2.95 0 1,0 -5.90,0M49.68,281.14a2.95,2.95 0 1,0 5.90,0a2.95,2.95 0 1,0 -5.90,0M51.03,275.93a2.95,2.95 0 1,0 5.90,0a2.95,2.95 0 1,0 -5.90,0M52.38,270.43a2.95,2.95 0 1,0 5.90,0a2.95,2.95 0 1,0 -5.90,0M53.73,264.69a2.95,2.95 0 1,0 5.90,0a2.95,2.95 0 1,0 -5.90,0M55.08,258.78a2.95,2.95 0 1,0 5.90,0a2.95,2.95 0 1,0 -5.90,0M56.43,252.69a2.95,2.95 0 1,0 5.90,0a2.95,2.95 0 1,0 -5.90,0M57.77,246.41a2.95,2.95 0 1,0 5.90,0a2.95,2.95 0 1,0 -5.90,0M59.12,239.92a2.95,2.95 0 1,0 5.90,0a2.95,2.95 0 1,0 -5.90,0M60.47,233.17a2.95,2.95 0 1,0 5.90,0a2.95,2.95 0 1,0 -5.90,0M61.82,226.17a2.95,2.95 0 1,0 5.90,0a2.95,2.95 0 1,0 -5.90,0M63.17,218.94a2.95,2.95 0 1,0 5.90,0a2.95,2.95 0 1,0 -5.90,0M64.52,211.61a2.95,2.95 0 1,0 5.90,0a2.95,2.95 0 1,0 -5.90,0M65.87,204.36a2.95,2.95 0 1,0 5.90,0a2.95,2.95 0 1,0 -5.90,0M67.21,197.50a2.95,2.95 0 1,0 5.90,0a2.95,2.95 0 1,0 -5.90,0M68.56,191.39a2.95,2.95 0 1,0 5.90,0a2.95,2.95 0 1,0 -5.90,0M69.91,186.42a2.95,2.95 0 1,0 5.90,0a2.95,2.95 0 1,0 -5.90,0M71.26,182.98a2.95,2.95 0 1,0 5.90,0a2.95,2.95 0 1,0 -5.90,0M72.61,181.35a2.95,2.95 0 1,0 5.90,0a2.95,2.95 0 1,0 -5.90,0M73.96,181.68a2.95,2.95 0 1,0 5.90,0a2.95,2.95 0 1,0 -5.90,0M75.30,183.94a2.95,2.95 0 1,0 5.90,0a2.95,2.95 0 1,0 -5.90,0M76.65,187.93a2.95,2.95 0 1,0 5.90,0a2.95,2.95 0 1,0 -5.90,0M78.00,193.33a2.95,2.95 0 1,0 5.90,0a2.95,2.95 0 1,0 -5.90,0M79.35,199.73a2.95,2.95 0 1,0 5.90,0a2.95,2.95 0 1,0 -5.90,0M80.70,206.76a2.95,2.95 0 1,0 5.90,0a2.95,2.95 0 1,0 -5.90,0M82.05,214.06a2.95,2.95 0 1,0 5.90,0a2.95,2.95 0 1,0 -5.90,0M83.40,221.38a2.95,2.95 0 1,0 5.90,0a2.95,2.95 0 1,0 -5.90,0M84.74,228.54a2.95,2.95 0 1,0 5.90,0a2.95,2.95 0 1,0 -5.90,0M86.09,235.46a2.95,2.95 0 1,0 5.90,0a2.95,2.95 0 1,0 -5.90,0M87.44,242.12a2.95,2.95 0 1,0 5.90,0a2.95,2.95 0 1,0 -5.90,0M88.79,248.53a2.95,2.95 0 1,0 5.90,0a2.95,2.95 0 1,0 -5.90,0M90.14,254.74a2.95,2.95 0 1,0 5.90,0a2.95,2.95 0 1,0 -5.90,0M91.49,260.77a2.95,2.95 0 1,0 5.90,0a2.95,2.95 0 1,0 -5.90,0M92.83,266.63a2.95,2.95 0 1,0 5.90,0a2.95,2.95 0 1,0 -5.90,0M94.18,272.29a2.95,2.95 0 1,0 5.90,0a2.95,2.95 0 1,0 -5.90,0M95.53,277.71a2.95,2.95 0 1,0 5.90,0a2.95,2.95 0 1,0 -5.90,0M96.88,282.80a2.95,2.95 0 1,0 5.90,0a2.95,2.95 0 1,0 -5.90,0M98.23,287.48a2.95,2.95 0 1,0 5.90,0a2.95,2.95 0 1,0 -5.90,0M99.58,291.67a2.95,2.95 0 1,0 5.90,0a2.95,2.95 0 1,0 -5.90,0M100.93,295.32a2.95,2.95 0 1,0 5.90,0a2.95,2.95 0 1,0 -5.90,0M102.27,298.40a2.95,2.95 0 1,0 5.90,0a2.95,2.95 0 1,0 -5.90,0M103.62,300.90a2.95,2.95 0 1,0 5.90,0a2.95,2.95 0 1,0 -5.90,0M104.97,302.86a2.95,2.95 0 1,0 5.90,0a2.95,2.95 0 1,0 -5.90,0M106.32,304.33a2.95,2.95 0 1,0 5.90,0a2.95,2.95 0 1,0 -5.90,0M107.67,305.37a2.95,2.95 0 1,0 5.90,0a2.95,2.95 0 1,0 -5.90,0M109.02,306.04a2.95,2.95 0 1,0 5.90,0a2.95,2.95 0 1,0 -5.90,0M110.36,306.39a2.95,2.95 0 1,0 5.90,0a2.95,2.95 0 1,0 -5.90,0M111.71,306.44a2.95,2.95 0 1,0 5.90,0a2.95,2.95 0 1,0 -5.90,0M113.06,306.19a2.95,2.95 0 1,0 5.90,0a2.95,2.95 0 1,0 -5.90,0M114.41,305.63a2.95,2.95 0 1,0 5.90,0a2.95,2.95 0 1,0 -5.90,0M115.76,304.72a2.95,2.95 0 1,0 5.90,0a2.95,2.95 0 1,0 -5.90,0M117.11,303.40a2.95,2.95 0 1,0 5.90,0a2.95,2.95 0 1,0 -5.90,0M118.46,301.61a2.95,2.95 0 1,0 5.90,0a2.95,2.95 0 1,0 -5.90,0M119.80,299.29a2.95,2.95 0 1,0 5.90,0a2.95,2.95 0 1,0 -5.90,0M121.15,296.41a2.95,2.95 0 1,0 5.90,0a2.95,2.95 0 1,0 -5.90,0M122.50,292.94a2.95,2.95 0 1,0 5.90,0a2.95,2.95 0 1,0 -5.90,0M123.85,288.93a2.95,2.95 0 1,0 5.90,0a2.95,2.95 0 1,0 -5.90,0M125.20,284.40a2.95,2.95 0 1,0 5.90,0a2.95,2.95 0 1,0 -5.90,0M126.55,279.43a2.95,2.95 0 1,0 5.90,0a2.95,2.95 0 1,0 -5.90,0M127.90,274.12a2.95,2.95 0 1,0 5.90,0a2.95,2.95 0 1,0 -5.90,0M129.24,268.53a2.95,2.95 0 1,0 5.90,0a2.95,2.95 0 1,0 -5.90,0M130.59,262.73a2.95,2.95 0 1,0 5.90,0a2.95,2.95 0 1,0 -5.90,0M131.94,256.76a2.95,2.95 0 1,0 5.90,0a2.95,2.95 0 1,0 -5.90,0M133.29,250.61a2.95,2.95 0 1,0 5.90,0a2.95,2.95 0 1,0 -5.90,0M134.64,244.27a2.95,2.95 0 1,0 5.90,0a2.95,2.95 0 1,0 -5.90,0M135.99,237.69a2.95,2.95 0 1,0 5.90,0a2.95,2.95 0 1,0 -5.90,0M137.33,230.86a2.95,2.95 0 1,0 5.90,0a2.95,2.95 0 1,0 -5.90,0M138.68,223.77a2.95,2.95 0 1,0 5.90,0a2.95,2.95 0 1,0 -5.90,0M140.03,216.49a2.95,2.95 0 1,0 5.90,0a2.95,2.95 0 1,0 -5.90,0M141.38,209.16a2.95,2.95 0 1,0 5.90,0a2.95,2.95 0 1,0 -5.90,0M142.73,202.01a2.95,2.95 0 1,0 5.90,0a2.95,2.95 0 1,0 -5.90,0M144.08,195.36a2.95,2.95 0 1,0 5.90,0a2.95,2.95 0 1,0 -5.90,0M145.43,189.58a2.95,2.95 0 1,0 5.90,0a2.95,2.95 0 1,0 -5.90,0M146.77,185.08a2.95,2.95 0 1,0 5.90,0a2.95,2.95 0 1,0 -5.90,0M148.12,182.22a2.95,2.95 0 1,0 5.90,0a2.95,2.95 0 1,0 -5.90,0M149.47,181.24a2.95,2.95 0 1,0 5.90,0a2.95,2.95 0 1,0 -5.90,0M150.82,182.23a2.95,2.95 0 1,0 5.90,0a2.95,2.95 0 1,0 -5.90,0M152.17,185.10a2.95,2.95 0 1,0 5.90,0a2.95,2.95 0 1,0 -5.90,0M153.52,189.60a2.95,2.95 0 1,0 5.90,0a2.95,2.95 0 1,0 -5.90,0M154.86,195.38a2.95,2.95 0 1,0 5.90,0a2.95,2.95 0 1,0 -5.90,0M156.21,202.03a2.95,2.95 0 1,0 5.90,0a2.95,2.95 0 1,0 -5.90,0M157.56,209.19a2.95,2.95 0 1,0 5.90,0a2.95,2.95 0 1,0 -5.90,0M158.91,216.52a2.95,2.95 0 1,0 5.90,0a2.95,2.95 0 1,0 -5.90,0M160.26,223.79a2.95,2.95 0 1,0 5.90,0a2.95,2.95 0 1,0 -5.90,0M161.61,230.88a2.95,2.95 0 1,0 5.90,0a2.95,2.95 0 1,0 -5.90,0M162.96,237.71a2.95,2.95 0 1,0 5.90,0a2.95,2.95 0 1,0 -5.90,0M164.30,244.29a2.95,2.95 0 1,0 5.90,0a2.95,2.95 0 1,0 -5.90,0M165.65,250.63a2.95,2.95 0 1,0 5.90,0a2.95,2.95 0 1,0 -5.90,0M167.00,256.78a2.95,2.95 0 1,0 5.90,0a2.95,2.95 0 1,0 -5.90,0M168.35,262.75a2.95,2.95 0 1,0 5.90,0a2.95,2.95 0 1,0 -5.90,0M169.70,268.55a2.95,2.95 0 1,0 5.90,0a2.95,2.95 0 1,0 -5.90,0M171.05,274.13a2.95,2.95 0 1,0 5.90,0a2.95,2.95 0 1,0 -5.90,0M172.39,279.45a2.95,2.95 0 1,0 5.90,0a2.95,2.95 0 1,0 -5.90,0M173.74,284.41a2.95,2.95 0 1,0 5.90,0a2.95,2.95 0 1,0 -5.90,0M175.09,288.94a2.95,2.95 0 1,0 5.90,0a2.95,2.95 0 1,0 -5.90,0M176.44,292.96a2.95,2.95 0 1,0 5.90,0a2.95,2.95 0 1,0 -5.90,0M177.79,296.42a2.95,2.95 0 1,0 5.90,0a2.95,2.95 0 1,0 -5.90,0M179.14,299.30a2.95,2.95 0 1,0 5.90,0a2.95,2.95 0 1,0 -5.90,0M180.49,301.61a2.95,2.95 0 1,0 5.90,0a2.95,2.95 0 1,0 -5.90,0M181.83,303.40a2.95,2.95 0 1,0 5.90,0a2.95,2.95 0 1,0 -5.90,0M183.18,304.72a2.95,2.95 0 1,0 5.90,0a2.95,2.95 0 1,0 -5.90,0M184.53,305.64a2.95,2.95 0 1,0 5.90,0a2.95,2.95 0 1,0 -5.90,0M185.88,306.19a2.95,2.95 0 1,0 5.90,0a2.95,2.95 0 1,0 -5.90,0M187.23,306.44a2.95,2.95 0 1,0 5.90,0a2.95,2.95 0 1,0 -5.90,0M188.58,306.39a2.95,2.95 0 1,0 5.90,0a2.95,2.95 0 1,0 -5.90,0M189.93,306.04a2.95,2.95 0 1,0 5.90,0a2.95,2.95 0 1,0 -5.90,0M191.27,305.37a2.95,2.95 0 1,0 5.90,0a2.95,2.95 0 1,0 -5.90,0M192.62,304.33a2.95,2.95 0 1,0 5.90,0a2.95,2.95 0 1,0 -5.90,0M193.97,302.85a2.95,2.95 0 1,0 5.90,0a2.95,2.95 0 1,0 -5.90,0M195.32,300.89a2.95,2.95 0 1,0 5.90,0a2.95,2.95 0 1,0 -5.90,0M196.67,298.39a2.95,2.95 0 1,0 5.90,0a2.95,2.95 0 1,0 -5.90,0M198.02,295.31a2.95,2.95 0 1,0 5.90,0a2.95,2.95 0 1,0 -5.90,0M199.36,291.66a2.95,2.95 0 1,0 5.90,0a2.95,2.95 0 1,0 -5.90,0M200.71,287.46a2.95,2.95 0 1,0 5.90,0a2.95,2.95 0 1,0 -5.90,0M202.06,282.78a2.95,2.95 0 1,0 5.90,0a2.95,2.95 0 1,0 -5.90,0M203.41,277.69a2.95,2.95 0 1,0 5.90,0a2.95,2.95 0 1,0 -5.90,0M204.76,272.28a2.95,2.95 0 1,0 5.90,0a2.95,2.95 0 1,0 -5.90,0M206.11,266.61a2.95,2.95 0 1,0 5.90,0a2.95,2.95 0 1,0 -5.90,0M207.46,260.76a2.95,2.95 0 1,0 5.90,0a2.95,2.95 0 1,0 -5.90,0M208.80,254.72a2.95,2.95 0 1,0 5.90,0a2.95,2.95 0 1,0 -5.90,0M210.15,248.51a2.95,2.95 0 1,0 5.90,0a2.95,2.95 0 1,0 -5.90,0M211.50,242.10a2.95,2.95 0 1,0 5.90,0a2.95,2.95 0 1,0 -5.90,0M212.85,235.44a2.95,2.95 0 1,0 5.90,0a2.95,2.95 0 1,0 -5.90,0M214.20,228.51a2.95,2.95 0 1,0 5.90,0a2.95,2.95 0 1,0 -5.90,0M215.55,221.35a2.95,2.95 0 1,0 5.90,0a2.95,2.95 0 1,0 -5.90,0M216.89,214.04a2.95,2.95 0 1,0 5.90,0a2.95,2.95 0 1,0 -5.90,0M218.24,206.74a2.95,2.95 0 1,0 5.90,0a2.95,2.95 0 1,0 -5.90,0M219.59,199.71a2.95,2.95 0 1,0 5.90,0a2.95,2.95 0 1,0 -5.90,0M220.94,193.31a2.95,2.95 0 1,0 5.90,0a2.95,2.95 0 1,0 -5.90,0M222.29,187.92a2.95,2.95 0 1,0 5.90,0a2.95,2.95 0 1,0 -5.90,0M223.64,183.93a2.95,2.95 0 1,0 5.90,0a2.95,2.95 0 1,0 -5.90,0M224.99,181.68a2.95,2.95 0 1,0 5.90,0a2.95,2.95 0 1,0 -5.90,0M226.33,181.35a2.95,2.95 0 1,0 5.90,0a2.95,2.95 0 1,0 -5.90,0M227.68,182.99a2.95,2.95 0 1,0 5.90,0a2.95,2.95 0 1,0 -5.90,0M229.03,186.44a2.95,2.95 0 1,0 5.90,0a2.95,2.95 0 1,0 -5.90,0M230.38,191.41a2.95,2.95 0 1,0 5.90,0a2.95,2.95 0 1,0 -5.90,0M231.73,197.52a2.95,2.95 0 1,0 5.90,0a2.95,2.95 0 1,0 -5.90,0M233.08,204.39a2.95,2.95 0 1,0 5.90,0a2.95,2.95 0 1,0 -5.90,0M234.43,211.63a2.95,2.95 0 1,0 5.90,0a2.95,2.95 0 1,0 -5.90,0M235.77,218.96a2.95,2.95 0 1,0 5.90,0a2.95,2.95 0 1,0 -5.90,0M237.12,226.19a2.95,2.95 0 1,0 5.90,0a2.95,2.95 0 1,0 -5.90,0M238.47,233.19a2.95,2.95 0 1,0 5.90,0a2.95,2.95 0 1,0 -5.90,0M239.82,239.94a2.95,2.95 0 1,0 5.90,0a2.95,2.95 0 1,0 -5.90,0M241.17,246.43a2.95,2.95 0 1,0 5.90,0a2.95,2.95 0 1,0 -5.90,0M242.52,252.71a2.95,2.95 0 1,0 5.90,0a2.95,2.95 0 1,0 -5.90,0M243.86,258.80a2.95,2.95 0 1,0 5.90,0a2.95,2.95 0 1,0 -5.90,0M245.21,264.71a2.95,2.95 0 1,0 5.90,0a2.95,2.95 0 1,0 -5.90,0" fill="none" stroke="#ff4a4a" stroke-width="0.85" opacity="0.8"/>
<path d="M308.22,183.00a2.95,2.95 0 1,0 5.90,0a2.95,2.95 0 1,0 -5.90,0M309.57,186.45a2.95,2.95 0 1,0 5.90,0a2.95,2.95 0 1,0 -5.90,0M310.92,191.42a2.95,2.95 0 1,0 5.90,0a2.95,2.95 0 1,0 -5.90,0M312.27,197.54a2.95,2.95 0 1,0 5.90,0a2.95,2.95 0 1,0 -5.90,0M313.62,204.41a2.95,2.95 0 1,0 5.90,0a2.95,2.95 0 1,0 -5.90,0M314.97,211.65a2.95,2.95 0 1,0 5.90,0a2.95,2.95 0 1,0 -5.90,0M316.32,218.99a2.95,2.95 0 1,0 5.90,0a2.95,2.95 0 1,0 -5.90,0M317.66,226.21a2.95,2.95 0 1,0 5.90,0a2.95,2.95 0 1,0 -5.90,0M319.01,233.21a2.95,2.95 0 1,0 5.90,0a2.95,2.95 0 1,0 -5.90,0M320.36,239.96a2.95,2.95 0 1,0 5.90,0a2.95,2.95 0 1,0 -5.90,0M321.71,246.45a2.95,2.95 0 1,0 5.90,0a2.95,2.95 0 1,0 -5.90,0M323.06,252.73a2.95,2.95 0 1,0 5.90,0a2.95,2.95 0 1,0 -5.90,0M324.41,258.81a2.95,2.95 0 1,0 5.90,0a2.95,2.95 0 1,0 -5.90,0M325.75,264.73a2.95,2.95 0 1,0 5.90,0a2.95,2.95 0 1,0 -5.90,0M327.10,270.46a2.95,2.95 0 1,0 5.90,0a2.95,2.95 0 1,0 -5.90,0M328.45,275.96a2.95,2.95 0 1,0 5.90,0a2.95,2.95 0 1,0 -5.90,0M329.80,281.17a2.95,2.95 0 1,0 5.90,0a2.95,2.95 0 1,0 -5.90,0M331.15,285.99a2.95,2.95 0 1,0 5.90,0a2.95,2.95 0 1,0 -5.90,0M332.50,290.35a2.95,2.95 0 1,0 5.90,0a2.95,2.95 0 1,0 -5.90,0M333.85,294.19a2.95,2.95 0 1,0 5.90,0a2.95,2.95 0 1,0 -5.90,0M335.19,297.45a2.95,2.95 0 1,0 5.90,0a2.95,2.95 0 1,0 -5.90,0M336.54,300.14a2.95,2.95 0 1,0 5.90,0a2.95,2.95 0 1,0 -5.90,0M337.89,302.27a2.95,2.95 0 1,0 5.90,0a2.95,2.95 0 1,0 -5.90,0M339.24,303.90a2.95,2.95 0 1,0 5.90,0a2.95,2.95 0 1,0 -5.90,0M340.59,305.07a2.95,2.95 0 1,0 5.90,0a2.95,2.95 0 1,0 -5.90,0M341.94,305.86a2.95,2.95 0 1,0 5.90,0a2.95,2.95 0 1,0 -5.90,0M343.28,306.31a2.95,2.95 0 1,0 5.90,0a2.95,2.95 0 1,0 -5.90,0M344.63,306.46a2.95,2.95 0 1,0 5.90,0a2.95,2.95 0 1,0 -5.90,0M345.98,306.31a2.95,2.95 0 1,0 5.90,0a2.95,2.95 0 1,0 -5.90,0M347.33,305.85a2.95,2.95 0 1,0 5.90,0a2.95,2.95 0 1,0 -5.90,0M348.68,305.06a2.95,2.95 0 1,0 5.90,0a2.95,2.95 0 1,0 -5.90,0M350.03,303.88a2.95,2.95 0 1,0 5.90,0a2.95,2.95 0 1,0 -5.90,0M351.38,302.25a2.95,2.95 0 1,0 5.90,0a2.95,2.95 0 1,0 -5.90,0M352.72,300.11a2.95,2.95 0 1,0 5.90,0a2.95,2.95 0 1,0 -5.90,0M354.07,297.41a2.95,2.95 0 1,0 5.90,0a2.95,2.95 0 1,0 -5.90,0M355.42,294.14a2.95,2.95 0 1,0 5.90,0a2.95,2.95 0 1,0 -5.90,0M356.77,290.30a2.95,2.95 0 1,0 5.90,0a2.95,2.95 0 1,0 -5.90,0M358.12,285.93a2.95,2.95 0 1,0 5.90,0a2.95,2.95 0 1,0 -5.90,0M359.47,281.10a2.95,2.95 0 1,0 5.90,0a2.95,2.95 0 1,0 -5.90,0M360.81,275.90a2.95,2.95 0 1,0 5.90,0a2.95,2.95 0 1,0 -5.90,0M362.16,270.39a2.95,2.95 0 1,0 5.90,0a2.95,2.95 0 1,0 -5.90,0M363.51,264.66a2.95,2.95 0 1,0 5.90,0a2.95,2.95 0 1,0 -5.90,0M364.86,258.74a2.95,2.95 0 1,0 5.90,0a2.95,2.95 0 1,0 -5.90,0M366.21,252.65a2.95,2.95 0 1,0 5.90,0a2.95,2.95 0 1,0 -5.90,0M367.56,246.37a2.95,2.95 0 1,0 5.90,0a2.95,2.95 0 1,0 -5.90,0M368.91,239.88a2.95,2.95 0 1,0 5.90,0a2.95,2.95 0 1,0 -5.90,0M370.25,233.13a2.95,2.95 0 1,0 5.90,0a2.95,2.95 0 1,0 -5.90,0M371.60,226.12a2.95,2.95 0 1,0 5.90,0a2.95,2.95 0 1,0 -5.90,0M372.95,218.90a2.95,2.95 0 1,0 5.90,0a2.95,2.95 0 1,0 -5.90,0M374.30,211.56a2.95,2.95 0 1,0 5.90,0a2.95,2.95 0 1,0 -5.90,0M375.65,204.32a2.95,2.95 0 1,0 5.90,0a2.95,2.95 0 1,0 -5.90,0M377.00,197.46a2.95,2.95 0 1,0 5.90,0a2.95,2.95 0 1,0 -5.90,0M378.35,191.35a2.95,2.95 0 1,0 5.90,0a2.95,2.95 0 1,0 -5.90,0M379.69,186.40a2.95,2.95 0 1,0 5.90,0a2.95,2.95 0 1,0 -5.90,0M381.04,182.96a2.95,2.95 0 1,0 5.90,0a2.95,2.95 0 1,0 -5.90,0M382.39,181.35a2.95,2.95 0 1,0 5.90,0a2.95,2.95 0 1,0 -5.90,0M383.74,181.69a2.95,2.95 0 1,0 5.90,0a2.95,2.95 0 1,0 -5.90,0M385.09,183.96a2.95,2.95 0 1,0 5.90,0a2.95,2.95 0 1,0 -5.90,0M386.44,187.96a2.95,2.95 0 1,0 5.90,0a2.95,2.95 0 1,0 -5.90,0M387.78,193.36a2.95,2.95 0 1,0 5.90,0a2.95,2.95 0 1,0 -5.90,0M389.13,199.78a2.95,2.95 0 1,0 5.90,0a2.95,2.95 0 1,0 -5.90,0M390.48,206.81a2.95,2.95 0 1,0 5.90,0a2.95,2.95 0 1,0 -5.90,0M391.83,214.11a2.95,2.95 0 1,0 5.90,0a2.95,2.95 0 1,0 -5.90,0M393.18,221.42a2.95,2.95 0 1,0 5.90,0a2.95,2.95 0 1,0 -5.90,0M394.53,228.58a2.95,2.95 0 1,0 5.90,0a2.95,2.95 0 1,0 -5.90,0M395.88,235.50a2.95,2.95 0 1,0 5.90,0a2.95,2.95 0 1,0 -5.90,0M397.22,242.16a2.95,2.95 0 1,0 5.90,0a2.95,2.95 0 1,0 -5.90,0M398.57,248.57a2.95,2.95 0 1,0 5.90,0a2.95,2.95 0 1,0 -5.90,0M399.92,254.78a2.95,2.95 0 1,0 5.90,0a2.95,2.95 0 1,0 -5.90,0M401.27,260.81a2.95,2.95 0 1,0 5.90,0a2.95,2.95 0 1,0 -5.90,0M402.62,266.67a2.95,2.95 0 1,0 5.90,0a2.95,2.95 0 1,0 -5.90,0M403.97,272.33a2.95,2.95 0 1,0 5.90,0a2.95,2.95 0 1,0 -5.90,0M405.31,277.74a2.95,2.95 0 1,0 5.90,0a2.95,2.95 0 1,0 -5.90,0M406.66,282.83a2.95,2.95 0 1,0 5.90,0a2.95,2.95 0 1,0 -5.90,0M408.01,287.51a2.95,2.95 0 1,0 5.90,0a2.95,2.95 0 1,0 -5.90,0M409.36,291.70a2.95,2.95 0 1,0 5.90,0a2.95,2.95 0 1,0 -5.90,0M410.71,295.34a2.95,2.95 0 1,0 5.90,0a2.95,2.95 0 1,0 -5.90,0M412.06,298.41a2.95,2.95 0 1,0 5.90,0a2.95,2.95 0 1,0 -5.90,0M413.41,300.91a2.95,2.95 0 1,0 5.90,0a2.95,2.95 0 1,0 -5.90,0M414.75,302.87a2.95,2.95 0 1,0 5.90,0a2.95,2.95 0 1,0 -5.90,0M416.10,304.34a2.95,2.95 0 1,0 5.90,0a2.95,2.95 0 1,0 -5.90,0M417.45,305.38a2.95,2.95 0 1,0 5.90,0a2.95,2.95 0 1,0 -5.90,0M418.80,306.05a2.95,2.95 0 1,0 5.90,0a2.95,2.95 0 1,0 -5.90,0M420.15,306.39a2.95,2.95 0 1,0 5.90,0a2.95,2.95 0 1,0 -5.90,0M421.50,306.44a2.95,2.95 0 1,0 5.90,0a2.95,2.95 0 1,0 -5.90,0M422.85,306.19a2.95,2.95 0 1,0 5.90,0a2.95,2.95 0 1,0 -5.90,0M424.19,305.63a2.95,2.95 0 1,0 5.90,0a2.95,2.95 0 1,0 -5.90,0M425.54,304.71a2.95,2.95 0 1,0 5.90,0a2.95,2.95 0 1,0 -5.90,0M426.89,303.39a2.95,2.95 0 1,0 5.90,0a2.95,2.95 0 1,0 -5.90,0M428.24,301.59a2.95,2.95 0 1,0 5.90,0a2.95,2.95 0 1,0 -5.90,0M429.59,299.27a2.95,2.95 0 1,0 5.90,0a2.95,2.95 0 1,0 -5.90,0M430.94,296.39a2.95,2.95 0 1,0 5.90,0a2.95,2.95 0 1,0 -5.90,0M432.28,292.92a2.95,2.95 0 1,0 5.90,0a2.95,2.95 0 1,0 -5.90,0M433.63,288.90a2.95,2.95 0 1,0 5.90,0a2.95,2.95 0 1,0 -5.90,0M434.98,284.37a2.95,2.95 0 1,0 5.90,0a2.95,2.95 0 1,0 -5.90,0M436.33,279.40a2.95,2.95 0 1,0 5.90,0a2.95,2.95 0 1,0 -5.90,0M437.68,274.08a2.95,2.95 0 1,0 5.90,0a2.95,2.95 0 1,0 -5.90,0M439.03,268.50a2.95,2.95 0 1,0 5.90,0a2.95,2.95 0 1,0 -5.90,0M440.38,262.70a2.95,2.95 0 1,0 5.90,0a2.95,2.95 0 1,0 -5.90,0M441.72,256.72a2.95,2.95 0 1,0 5.90,0a2.95,2.95 0 1,0 -5.90,0M443.07,250.57a2.95,2.95 0 1,0 5.90,0a2.95,2.95 0 1,0 -5.90,0M444.42,244.23a2.95,2.95 0 1,0 5.90,0a2.95,2.95 0 1,0 -5.90,0M445.77,237.65a2.95,2.95 0 1,0 5.90,0a2.95,2.95 0 1,0 -5.90,0M447.12,230.81a2.95,2.95 0 1,0 5.90,0a2.95,2.95 0 1,0 -5.90,0M448.47,223.73a2.95,2.95 0 1,0 5.90,0a2.95,2.95 0 1,0 -5.90,0M449.81,216.45a2.95,2.95 0 1,0 5.90,0a2.95,2.95 0 1,0 -5.90,0M451.16,209.12a2.95,2.95 0 1,0 5.90,0a2.95,2.95 0 1,0 -5.90,0M452.51,201.97a2.95,2.95 0 1,0 5.90,0a2.95,2.95 0 1,0 -5.90,0M453.86,195.32a2.95,2.95 0 1,0 5.90,0a2.95,2.95 0 1,0 -5.90,0M455.21,189.55a2.95,2.95 0 1,0 5.90,0a2.95,2.95 0 1,0 -5.90,0M456.56,185.06a2.95,2.95 0 1,0 5.90,0a2.95,2.95 0 1,0 -5.90,0M457.91,182.21a2.95,2.95 0 1,0 5.90,0a2.95,2.95 0 1,0 -5.90,0M459.25,181.24a2.95,2.95 0 1,0 5.90,0a2.95,2.95 0 1,0 -5.90,0M460.60,182.24a2.95,2.95 0 1,0 5.90,0a2.95,2.95 0 1,0 -5.90,0M461.95,185.12a2.95,2.95 0 1,0 5.90,0a2.95,2.95 0 1,0 -5.90,0M463.30,189.63a2.95,2.95 0 1,0 5.90,0a2.95,2.95 0 1,0 -5.90,0M464.65,195.41a2.95,2.95 0 1,0 5.90,0a2.95,2.95 0 1,0 -5.90,0M466.00,202.08a2.95,2.95 0 1,0 5.90,0a2.95,2.95 0 1,0 -5.90,0M467.34,209.23a2.95,2.95 0 1,0 5.90,0a2.95,2.95 0 1,0 -5.90,0M468.69,216.56a2.95,2.95 0 1,0 5.90,0a2.95,2.95 0 1,0 -5.90,0M470.04,223.84a2.95,2.95 0 1,0 5.90,0a2.95,2.95 0 1,0 -5.90,0M471.39,230.92a2.95,2.95 0 1,0 5.90,0a2.95,2.95 0 1,0 -5.90,0M472.74,237.75a2.95,2.95 0 1,0 5.90,0a2.95,2.95 0 1,0 -5.90,0M474.09,244.33a2.95,2.95 0 1,0 5.90,0a2.95,2.95 0 1,0 -5.90,0M475.44,250.67a2.95,2.95 0 1,0 5.90,0a2.95,2.95 0 1,0 -5.90,0M476.78,256.82a2.95,2.95 0 1,0 5.90,0a2.95,2.95 0 1,0 -5.90,0M478.13,262.79a2.95,2.95 0 1,0 5.90,0a2.95,2.95 0 1,0 -5.90,0M479.48,268.59a2.95,2.95 0 1,0 5.90,0a2.95,2.95 0 1,0 -5.90,0M480.83,274.17a2.95,2.95 0 1,0 5.90,0a2.95,2.95 0 1,0 -5.90,0M482.18,279.48a2.95,2.95 0 1,0 5.90,0a2.95,2.95 0 1,0 -5.90,0M483.53,284.44a2.95,2.95 0 1,0 5.90,0a2.95,2.95 0 1,0 -5.90,0M484.88,288.97a2.95,2.95 0 1,0 5.90,0a2.95,2.95 0 1,0 -5.90,0M486.22,292.98a2.95,2.95 0 1,0 5.90,0a2.95,2.95 0 1,0 -5.90,0M487.57,296.44a2.95,2.95 0 1,0 5.90,0a2.95,2.95 0 1,0 -5.90,0M488.92,299.31a2.95,2.95 0 1,0 5.90,0a2.95,2.95 0 1,0 -5.90,0M490.27,301.62a2.95,2.95 0 1,0 5.90,0a2.95,2.95 0 1,0 -5.90,0M491.62,303.41a2.95,2.95 0 1,0 5.90,0a2.95,2.95 0 1,0 -5.90,0M492.97,304.73a2.95,2.95 0 1,0 5.90,0a2.95,2.95 0 1,0 -5.90,0M494.31,305.64a2.95,2.95 0 1,0 5.90,0a2.95,2.95 0 1,0 -5.90,0M495.66,306.20a2.95,2.95 0 1,0 5.90,0a2.95,2.95 0 1,0 -5.90,0M497.01,306.44a2.95,2.95 0 1,0 5.90,0a2.95,2.95 0 1,0 -5.90,0M498.36,306.39a2.95,2.95 0 1,0 5.90,0a2.95,2.95 0 1,0 -5.90,0M499.71,306.04a2.95,2.95 0 1,0 5.90,0a2.95,2.95 0 1,0 -5.90,0M501.06,305.36a2.95,2.95 0 1,0 5.90,0a2.95,2.95 0 1,0 -5.90,0M502.41,304.32a2.95,2.95 0 1,0 5.90,0a2.95,2.95 0 1,0 -5.90,0M503.75,302.84a2.95,2.95 0 1,0 5.90,0a2.95,2.95 0 1,0 -5.90,0M505.10,300.88a2.95,2.95 0 1,0 5.90,0a2.95,2.95 0 1,0 -5.90,0M506.45,298.37a2.95,2.95 0 1,0 5.90,0a2.95,2.95 0 1,0 -5.90,0M507.80,295.29a2.95,2.95 0 1,0 5.90,0a2.95,2.95 0 1,0 -5.90,0M509.15,291.64a2.95,2.95 0 1,0 5.90,0a2.95,2.95 0 1,0 -5.90,0M510.50,287.44a2.95,2.95 0 1,0 5.90,0a2.95,2.95 0 1,0 -5.90,0M511.84,282.75a2.95,2.95 0 1,0 5.90,0a2.95,2.95 0 1,0 -5.90,0M513.19,277.66a2.95,2.95 0 1,0 5.90,0a2.95,2.95 0 1,0 -5.90,0M514.54,272.24a2.95,2.95 0 1,0 5.90,0a2.95,2.95 0 1,0 -5.90,0M515.89,266.58a2.95,2.95 0 1,0 5.90,0a2.95,2.95 0 1,0 -5.90,0M517.24,260.72a2.95,2.95 0 1,0 5.90,0a2.95,2.95 0 1,0 -5.90,0M518.59,254.69a2.95,2.95 0 1,0 5.90,0a2.95,2.95 0 1,0 -5.90,0M519.94,248.47a2.95,2.95 0 1,0 5.90,0a2.95,2.95 0 1,0 -5.90,0M521.28,242.05a2.95,2.95 0 1,0 5.90,0a2.95,2.95 0 1,0 -5.90,0" fill="none" stroke="#ff4a4a" stroke-width="0.85" opacity="0.8"/>
<path d="M37.80,306.61 38.33,306.59 38.85,306.51 39.38,306.39 39.91,306.22 40.43,305.99 40.96,305.71 41.49,305.38 42.01,304.98 42.54,304.52 43.07,303.99 43.59,303.38 44.12,302.71 44.65,301.95 45.17,301.11 45.70,300.18 46.23,299.16 46.75,298.06 47.28,296.85 47.81,295.55 48.33,294.16 48.86,292.67 49.39,291.09 49.92,289.41 50.44,287.64 50.97,285.79 51.50,283.85 52.02,281.84 52.55,279.75 53.08,277.59 53.60,275.36 54.13,273.08 54.66,270.75 55.18,268.37 55.71,265.94 56.24,263.48 56.76,260.98 57.29,258.45 57.82,255.89 58.34,253.30 58.87,250.68 59.40,248.03 59.92,245.36 60.45,242.65 60.98,239.91 61.50,237.14 62.03,234.33 62.56,231.49 63.08,228.60 63.61,225.67 64.14,222.70 64.66,219.69 65.19,216.63 65.72,213.53 66.24,210.40 66.77,207.23 67.30,204.03 67.82,200.83 68.35,197.61 68.88,194.41 69.41,191.23 69.93,188.10 70.46,185.02 70.99,182.04 71.51,179.16 72.04,176.41 72.57,173.82 73.09,171.42 73.62,169.22 74.15,167.25 74.67,165.54 75.20,164.11 75.73,162.96 76.25,162.13 76.78,161.61 77.31,161.42 77.83,161.55 78.36,162.01 78.89,162.79 79.41,163.87 79.94,165.26 80.47,166.92 80.99,168.84 81.52,171.00 82.05,173.36 82.57,175.92 83.10,178.64 83.63,181.50 84.15,184.47 84.68,187.53 85.21,190.65 85.73,193.82 86.26,197.02 86.79,200.24 87.31,203.45 87.84,206.64 88.37,209.81 88.89,212.96 89.42,216.06 89.95,219.13 90.47,222.15 91.00,225.13 91.53,228.07 92.06,230.96 92.58,233.81 93.11,236.63 93.64,239.40 94.16,242.15 94.69,244.86 95.22,247.54 95.74,250.19 96.27,252.82 96.80,255.41 97.32,257.98 97.85,260.52 98.38,263.02 98.90,265.49 99.43,267.93 99.96,270.32 100.48,272.66 101.01,274.95 101.54,277.18 102.06,279.35 102.59,281.46 103.12,283.49 103.64,285.44 104.17,287.31 104.70,289.09 105.22,290.79 105.75,292.39 106.28,293.89 106.80,295.31 107.33,296.62 107.86,297.84 108.38,298.97 108.91,300.00 109.44,300.94 109.96,301.80 110.49,302.57 111.02,303.26 111.55,303.88 112.07,304.42 112.60,304.90 113.13,305.31 113.65,305.66 114.18,305.95 114.71,306.18 115.23,306.36 115.76,306.49 116.29,306.58 116.81,306.61 117.34,306.59 117.87,306.53 118.39,306.42 118.92,306.25 119.45,306.04 119.97,305.77 120.50,305.44 121.03,305.06 121.55,304.61 122.08,304.09 122.61,303.50 123.13,302.84 123.66,302.09 124.19,301.27 124.71,300.36 125.24,299.36 125.77,298.27 126.29,297.08 126.82,295.80 127.35,294.42 127.87,292.95 128.40,291.39 128.93,289.73 129.45,287.98 129.98,286.14 130.51,284.21 131.03,282.21 131.56,280.14 132.09,277.99 132.62,275.78 133.14,273.51 133.67,271.18 134.20,268.81 134.72,266.39 135.25,263.94 135.78,261.44 136.30,258.92 136.83,256.36 137.36,253.78 137.88,251.16 138.41,248.52 138.94,245.85 139.46,243.15 139.99,240.42 140.52,237.65 141.04,234.85 141.57,232.01 142.10,229.14 142.62,226.22 143.15,223.25 143.68,220.24 144.20,217.19 144.73,214.10 145.26,210.97 145.78,207.81 146.31,204.62 146.84,201.42 147.36,198.20 147.89,195.00 148.42,191.81 148.94,188.67 149.47,185.58 150.00,182.58 150.52,179.68 151.05,176.91 151.58,174.29 152.10,171.84 152.63,169.61 153.16,167.60 153.69,165.84 154.21,164.35 154.74,163.15 155.27,162.26 155.79,161.68 156.32,161.43 156.85,161.50 157.37,161.90 157.90,162.62 158.43,163.65 158.95,164.98 159.48,166.59 160.01,168.47 160.53,170.58 161.06,172.91 161.59,175.44 162.11,178.13 162.64,180.96 163.17,183.91 163.69,186.96 164.22,190.07 164.75,193.24 165.27,196.43 165.80,199.64 166.33,202.86 166.85,206.05 167.38,209.23 167.91,212.38 168.43,215.49 168.96,218.57 169.49,221.60 170.01,224.58 170.54,227.53 171.07,230.43 171.59,233.29 172.12,236.11 172.65,238.90 173.17,241.65 173.70,244.36 174.23,247.05 174.75,249.71 175.28,252.34 175.81,254.94 176.34,257.51 176.86,260.05 177.39,262.57 177.92,265.04 178.44,267.48 178.97,269.88 179.50,272.23 180.02,274.53 180.55,276.78 181.08,278.96 181.60,281.08 182.13,283.12 182.66,285.09 183.18,286.97 183.71,288.77 184.24,290.48 184.76,292.10 185.29,293.62 185.82,295.05 186.34,296.39 186.87,297.62 187.40,298.77 187.92,299.82 188.45,300.78 188.98,301.65 189.50,302.44 190.03,303.14 190.56,303.77 191.08,304.33 191.61,304.82 192.14,305.24 192.66,305.60 193.19,305.90 193.72,306.14 194.24,306.33 194.77,306.47 195.30,306.56 195.82,306.61 196.35,306.60 196.88,306.54 197.41,306.44 197.93,306.29 198.46,306.08 198.99,305.82 199.51,305.51 200.04,305.13 200.57,304.69 201.09,304.19 201.62,303.61 202.15,302.96 202.67,302.24 203.20,301.43 203.73,300.53 204.25,299.55 204.78,298.47 205.31,297.31 205.83,296.04 206.36,294.68 206.89,293.23 207.41,291.68 207.94,290.04 208.47,288.30 208.99,286.48 209.52,284.57 210.05,282.59 210.57,280.52 211.10,278.39 211.63,276.19 212.15,273.93 212.68,271.61 213.21,269.25 213.73,266.84 214.26,264.39 214.79,261.91 215.31,259.39 215.84,256.84 216.37,254.25 216.89,251.65 217.42,249.01 217.95,246.34 218.48,243.65 219.00,240.92 219.53,238.16 220.06,235.37 220.58,232.54 221.11,229.67 221.64,226.76 222.16,223.80 222.69,220.80 223.22,217.76 223.74,214.68 224.27,211.55 224.80,208.40 225.32,205.21 225.85,202.01 226.38,198.80 226.90,195.59 227.43,192.40 227.96,189.24 228.48,186.15 229.01,183.13 229.54,180.20 230.06,177.40 230.59,174.75 231.12,172.28 231.64,170.00 232.17,167.95 232.70,166.14 233.22,164.60 233.75,163.35 234.28,162.40 234.80,161.76 235.33,161.45 235.86,161.46 236.38,161.80 236.91,162.46 237.44,163.44 237.96,164.72 238.49,166.28 239.02,168.10 239.55,170.18 240.07,172.47 240.60,174.96 241.13,177.62 241.65,180.43 242.18,183.36 242.71,186.39 243.23,189.50 243.76,192.65 244.29,195.84 244.81,199.05 245.34,202.27 245.87,205.47 246.39,208.65 246.92,211.80 247.45,214.92 247.97,218.00 248.50,221.04" fill="none" stroke="#7a7a7a" stroke-width="0.80"/>
<path d="M310.50,225.44 311.03,222.46 311.55,219.44 312.08,216.38 312.61,213.28 313.13,210.14 313.66,206.97 314.19,203.78 314.71,200.57 315.24,197.36 315.77,194.16 316.29,190.98 316.82,187.85 317.35,184.78 317.87,181.80 318.40,178.93 318.93,176.20 319.45,173.62 319.98,171.23 320.51,169.05 321.04,167.11 321.56,165.42 322.09,164.00 322.62,162.89 323.14,162.08 323.67,161.58 324.20,161.42 324.72,161.58 325.25,162.06 325.78,162.86 326.30,163.97 326.83,165.38 327.36,167.06 327.88,169.00 328.41,171.18 328.94,173.56 329.46,176.13 329.99,178.87 330.52,181.73 331.04,184.71 331.57,187.77 332.10,190.90 332.62,194.08 333.15,197.28 333.68,200.49 334.20,203.70 334.73,206.90 335.26,210.07 335.78,213.21 336.31,216.31 336.84,219.37 337.36,222.39 337.89,225.37 338.42,228.30 338.94,231.19 339.47,234.04 340.00,236.85 340.52,239.63 341.05,242.37 341.58,245.08 342.11,247.76 342.63,250.41 343.16,253.03 343.69,255.62 344.21,258.19 344.74,260.72 345.27,263.22 345.79,265.69 346.32,268.12 346.85,270.50 347.37,272.84 347.90,275.13 348.43,277.36 348.95,279.52 349.48,281.62 350.01,283.65 350.53,285.59 351.06,287.45 351.59,289.23 352.11,290.92 352.64,292.51 353.17,294.01 353.69,295.41 354.22,296.72 354.75,297.93 355.27,299.05 355.80,300.08 356.33,301.02 356.85,301.86 357.38,302.63 357.91,303.32 358.43,303.93 358.96,304.46 359.49,304.93 360.01,305.34 360.54,305.68 361.07,305.97 361.59,306.20 362.12,306.38 362.65,306.50 363.18,306.58 363.70,306.61 364.23,306.59 364.76,306.52 365.28,306.41 365.81,306.24 366.34,306.02 366.86,305.75 367.39,305.41 367.92,305.02 368.44,304.57 368.97,304.04 369.50,303.45 370.02,302.78 370.55,302.03 371.08,301.20 371.60,300.28 372.13,299.27 372.66,298.17 373.18,296.98 373.71,295.69 374.24,294.31 374.76,292.83 375.29,291.26 375.82,289.59 376.34,287.83 376.87,285.99 377.40,284.06 377.92,282.05 378.45,279.97 378.98,277.81 379.50,275.60 380.03,273.32 380.56,271.00 381.08,268.62 381.61,266.20 382.14,263.74 382.66,261.24 383.19,258.72 383.72,256.16 384.25,253.57 384.77,250.95 385.30,248.31 385.83,245.64 386.35,242.93 386.88,240.20 387.41,237.43 387.93,234.63 388.46,231.79 388.99,228.90 389.51,225.98 390.04,223.01 390.57,220.00 391.09,216.95 391.62,213.85 392.15,210.72 392.67,207.56 393.20,204.37 393.73,201.16 394.25,197.95 394.78,194.74 395.31,191.56 395.83,188.42 396.36,185.34 396.89,182.34 397.41,179.45 397.94,176.69 398.47,174.08 398.99,171.66 399.52,169.44 400.05,167.45 400.57,165.71 401.10,164.24 401.63,163.07 402.15,162.20 402.68,161.65 403.21,161.42 403.73,161.52 404.26,161.95 404.79,162.69 405.31,163.75 405.84,165.10 406.37,166.73 406.90,168.63 407.42,170.76 407.95,173.11 408.48,175.65 409.00,178.35 409.53,181.20 410.06,184.15 410.58,187.20 411.11,190.32 411.64,193.49 412.16,196.69 412.69,199.90 413.22,203.11 413.74,206.31 414.27,209.49 414.80,212.63 415.32,215.74 415.85,218.81 416.38,221.84 416.90,224.82 417.43,227.76 417.96,230.66 418.48,233.52 419.01,236.34 419.54,239.12 420.06,241.86 420.59,244.58 421.12,247.26 421.64,249.92 422.17,252.55 422.70,255.15 423.22,257.72 423.75,260.26 424.28,262.77 424.80,265.24 425.33,267.68 425.86,270.07 426.38,272.42 426.91,274.71 427.44,276.95 427.97,279.13 428.49,281.24 429.02,283.28 429.55,285.24 430.07,287.12 430.60,288.91 431.13,290.61 431.65,292.23 432.18,293.74 432.71,295.16 433.23,296.49 433.76,297.72 434.29,298.85 434.81,299.90 435.34,300.85 435.87,301.72 436.39,302.50 436.92,303.20 437.45,303.82 437.97,304.37 438.50,304.85 439.03,305.27 439.55,305.62 440.08,305.92 440.61,306.16 441.13,306.35 441.66,306.48 442.19,306.57 442.71,306.61 443.24,306.60 443.77,306.54 444.29,306.43 444.82,306.27 445.35,306.06 445.87,305.80 446.40,305.48 446.93,305.10 447.46,304.66 447.98,304.15 448.51,303.56 449.04,302.91 449.56,302.18 450.09,301.36 450.62,300.46 451.14,299.47 451.67,298.38 452.20,297.21 452.72,295.94 453.25,294.57 453.78,293.11 454.30,291.55 454.83,289.90 455.36,288.16 455.88,286.33 456.41,284.42 456.94,282.42 457.46,280.36 457.99,278.22 458.52,276.01 459.04,273.75 459.57,271.43 460.10,269.06 460.62,266.65 461.15,264.19 461.68,261.71 462.20,259.18 462.73,256.63 463.26,254.05 463.78,251.44 464.31,248.80 464.84,246.13 465.36,243.43 465.89,240.70 466.42,237.94 466.94,235.15 467.47,232.31 468.00,229.44 468.52,226.52 469.05,223.56 469.58,220.56 470.11,217.51 470.63,214.43 471.16,211.30 471.69,208.14 472.21,204.96 472.74,201.75 473.27,198.54 473.79,195.33 474.32,192.14 474.85,188.99 475.37,185.90 475.90,182.89 476.43,179.97 476.95,177.19 477.48,174.55 478.01,172.09 478.53,169.83 479.06,167.79 479.59,166.01 480.11,164.49 480.64,163.26 481.17,162.34 481.69,161.73 482.22,161.44 482.75,161.48 483.27,161.84 483.80,162.53 484.33,163.53 484.85,164.83 485.38,166.41 485.91,168.26 486.43,170.35 486.96,172.66 487.49,175.17 488.01,177.84 488.54,180.66 489.07,183.60 489.60,186.64 490.12,189.75 490.65,192.91 491.18,196.10 491.70,199.31 492.23,202.52 492.76,205.72 493.28,208.90 493.81,212.06 494.34,215.17 494.86,218.25 495.39,221.28 495.92,224.28 496.44,227.22 496.97,230.13 497.50,233.00 498.02,235.82 498.55,238.61 499.08,241.36 499.60,244.08 500.13,246.77 500.66,249.43 501.18,252.07 501.71,254.67 502.24,257.25 502.76,259.79 503.29,262.31 503.82,264.79 504.34,267.23 504.87,269.63 505.40,271.99 505.92,274.29 506.45,276.55 506.98,278.74 507.50,280.86 508.03,282.91 508.56,284.89 509.08,286.78 509.61,288.59 510.14,290.31 510.66,291.94 511.19,293.47 511.72,294.91 512.25,296.25 512.77,297.50 513.30,298.65 513.83,299.71 514.35,300.68 514.88,301.56 515.41,302.36 515.93,303.07 516.46,303.71 516.99,304.27 517.51,304.77 518.04,305.20 518.57,305.56 519.09,305.87 519.62,306.12 520.15,306.32 520.67,306.46 521.20,306.56" fill="none" stroke="#7a7a7a" stroke-width="0.80"/>
<path d="M37.80,306.46 38.33,306.43 38.85,306.37 39.38,306.25 39.91,306.09 40.43,305.89 40.96,305.63 41.49,305.31 42.01,304.94 42.54,304.51 43.07,304.02 43.59,303.46 44.12,302.82 44.65,302.11 45.17,301.33 45.70,300.46 46.23,299.51 46.75,298.47 47.28,297.34 47.81,296.13 48.33,294.82 48.86,293.43 49.39,291.95 49.92,290.39 50.44,288.75 50.97,287.03 51.50,285.24 52.02,283.38 52.55,281.45 53.08,279.46 53.60,277.43 54.13,275.34 54.66,273.21 55.18,271.04 55.71,268.83 56.24,266.60 56.76,264.33 57.29,262.03 57.82,259.71 58.34,257.37 58.87,254.99 59.40,252.59 59.92,250.16 60.45,247.70 60.98,245.21 61.50,242.69 62.03,240.12 62.56,237.52 63.08,234.88 63.61,232.20 64.14,229.48 64.66,226.72 65.19,223.93 65.72,221.10 66.24,218.26 66.77,215.39 67.30,212.52 67.82,209.66 68.35,206.83 68.88,204.03 69.41,201.30 69.93,198.64 70.46,196.09 70.99,193.66 71.51,191.39 72.04,189.29 72.57,187.39 73.09,185.71 73.62,184.28 74.15,183.10 74.67,182.21 75.20,181.60 75.73,181.29 76.25,181.28 76.78,181.57 77.31,182.16 77.83,183.04 78.36,184.19 78.89,185.61 79.41,187.28 79.94,189.16 80.47,191.25 80.99,193.51 81.52,195.93 82.05,198.47 82.57,201.12 83.10,203.85 83.63,206.65 84.15,209.48 84.68,212.34 85.21,215.21 85.73,218.07 86.26,220.92 86.79,223.75 87.31,226.55 87.84,229.31 88.37,232.03 88.89,234.71 89.42,237.36 89.95,239.96 90.47,242.52 91.00,245.05 91.53,247.55 92.06,250.01 92.58,252.44 93.11,254.84 93.64,257.21 94.16,259.56 94.69,261.89 95.22,264.18 95.74,266.45 96.27,268.69 96.80,270.90 97.32,273.07 97.85,275.20 98.38,277.29 98.90,279.34 99.43,281.32 99.96,283.25 100.48,285.12 101.01,286.92 101.54,288.64 102.06,290.29 102.59,291.86 103.12,293.34 103.64,294.74 104.17,296.04 104.70,297.27 105.22,298.40 105.75,299.44 106.28,300.40 106.80,301.27 107.33,302.06 107.86,302.78 108.38,303.42 108.91,303.98 109.44,304.48 109.96,304.92 110.49,305.29 111.02,305.61 111.55,305.87 112.07,306.08 112.60,306.25 113.13,306.36 113.65,306.43 114.18,306.46 114.71,306.44 115.23,306.37 115.76,306.26 116.29,306.11 116.81,305.90 117.34,305.64 117.87,305.34 118.39,304.97 118.92,304.54 119.45,304.05 119.97,303.49 120.50,302.86 121.03,302.16 121.55,301.38 122.08,300.52 122.61,299.57 123.13,298.54 123.66,297.41 124.19,296.21 124.71,294.91 125.24,293.52 125.77,292.05 126.29,290.50 126.82,288.86 127.35,287.14 127.87,285.35 128.40,283.50 128.93,281.57 129.45,279.59 129.98,277.56 130.51,275.47 131.03,273.35 131.56,271.18 132.09,268.98 132.62,266.74 133.14,264.48 133.67,262.18 134.20,259.86 134.72,257.52 135.25,255.14 135.78,252.75 136.30,250.32 136.83,247.86 137.36,245.37 137.88,242.85 138.41,240.29 138.94,237.69 139.46,235.05 139.99,232.37 140.52,229.66 141.04,226.90 141.57,224.11 142.10,221.29 142.62,218.44 143.15,215.58 143.68,212.71 144.20,209.85 144.73,207.01 145.26,204.21 145.78,201.47 146.31,198.81 146.84,196.25 147.36,193.81 147.89,191.53 148.42,189.42 148.94,187.51 149.47,185.81 150.00,184.36 150.52,183.17 151.05,182.25 151.58,181.63 152.10,181.30 152.63,181.27 153.16,181.54 153.69,182.11 154.21,182.97 154.74,184.11 155.27,185.51 155.79,187.16 156.32,189.04 156.85,191.11 157.37,193.36 157.90,195.77 158.43,198.31 158.95,200.95 159.48,203.68 160.01,206.47 160.53,209.30 161.06,212.16 161.59,215.03 162.11,217.89 162.64,220.74 163.17,223.57 163.69,226.37 164.22,229.13 164.75,231.86 165.27,234.54 165.80,237.19 166.33,239.79 166.85,242.36 167.38,244.89 167.91,247.39 168.43,249.85 168.96,252.28 169.49,254.69 170.01,257.06 170.54,259.41 171.07,261.74 171.59,264.04 172.12,266.31 172.65,268.55 173.17,270.76 173.70,272.93 174.23,275.07 174.75,277.16 175.28,279.21 175.81,281.20 176.34,283.13 176.86,285.00 177.39,286.81 177.92,288.53 178.44,290.19 178.97,291.76 179.50,293.25 180.02,294.65 180.55,295.96 181.08,297.19 181.60,298.33 182.13,299.38 182.66,300.34 183.18,301.22 183.71,302.02 184.24,302.74 184.76,303.38 185.29,303.95 185.82,304.45 186.34,304.89 186.87,305.27 187.40,305.59 187.92,305.86 188.45,306.07 188.98,306.24 189.50,306.35 190.03,306.43 190.56,306.46 191.08,306.44 191.61,306.38 192.14,306.27 192.66,306.12 193.19,305.92 193.72,305.66 194.24,305.36 194.77,304.99 195.30,304.57 195.82,304.08 196.35,303.53 196.88,302.91 197.41,302.21 197.93,301.43 198.46,300.57 198.99,299.63 199.51,298.60 200.04,297.49 200.57,296.29 201.09,294.99 201.62,293.61 202.15,292.15 202.67,290.60 203.20,288.97 203.73,287.25 204.25,285.47 204.78,283.62 205.31,281.70 205.83,279.72 206.36,277.69 206.89,275.61 207.41,273.48 207.94,271.32 208.47,269.12 208.99,266.88 209.52,264.62 210.05,262.33 210.57,260.01 211.10,257.67 211.63,255.30 212.15,252.90 212.68,250.48 213.21,248.02 213.73,245.53 214.26,243.01 214.79,240.45 215.31,237.86 215.84,235.22 216.37,232.55 216.89,229.83 217.42,227.08 217.95,224.29 218.48,221.47 219.00,218.62 219.53,215.76 220.06,212.89 220.58,210.03 221.11,207.19 221.64,204.39 222.16,201.64 222.69,198.97 223.22,196.41 223.74,193.97 224.27,191.67 224.80,189.55 225.32,187.62 225.85,185.91 226.38,184.45 226.90,183.24 227.43,182.30 227.96,181.66 228.48,181.31 229.01,181.26 229.54,181.51 230.06,182.07 230.59,182.91 231.12,184.03 231.64,185.42 232.17,187.05 232.70,188.91 233.22,190.97 233.75,193.21 234.28,195.61 234.80,198.14 235.33,200.78 235.86,203.50 236.38,206.29 236.91,209.12 237.44,211.97 237.96,214.84 238.49,217.71 239.02,220.56 239.55,223.39 240.07,226.19 240.60,228.95 241.13,231.68 241.65,234.37 242.18,237.02 242.71,239.63 243.23,242.20 243.76,244.73 244.29,247.23 244.81,249.69 245.34,252.13 245.87,254.53 246.39,256.91 246.92,259.26 247.45,261.59 247.97,263.89 248.50,266.16" fill="none" stroke="#3ca0f5" stroke-width="1.00"/>
<path d="M310.50,181.94 311.03,182.72 311.55,183.79 312.08,185.13 312.61,186.72 313.13,188.54 313.66,190.56 314.19,192.77 314.71,195.14 315.24,197.65 315.77,200.26 316.29,202.97 316.82,205.75 317.35,208.57 317.87,211.42 318.40,214.29 318.93,217.16 319.45,220.01 319.98,222.85 320.51,225.65 321.04,228.43 321.56,231.16 322.09,233.86 322.62,236.51 323.14,239.13 323.67,241.71 324.20,244.25 324.72,246.75 325.25,249.22 325.78,251.66 326.30,254.07 326.83,256.46 327.36,258.81 327.88,261.15 328.41,263.45 328.94,265.73 329.46,267.98 329.99,270.20 330.52,272.38 331.04,274.53 331.57,276.63 332.10,278.69 332.62,280.69 333.15,282.64 333.68,284.53 334.20,286.35 334.73,288.10 335.26,289.77 335.78,291.36 336.31,292.87 336.84,294.30 337.36,295.64 337.89,296.88 338.42,298.04 338.94,299.12 339.47,300.10 340.00,301.00 340.52,301.82 341.05,302.56 341.58,303.22 342.11,303.81 342.63,304.33 343.16,304.79 343.69,305.18 344.21,305.51 344.74,305.79 345.27,306.02 345.79,306.20 346.32,306.33 346.85,306.41 347.37,306.45 347.90,306.45 348.43,306.40 348.95,306.30 349.48,306.16 350.01,305.97 350.53,305.73 351.06,305.44 351.59,305.09 352.11,304.69 352.64,304.22 353.17,303.68 353.69,303.07 354.22,302.39 354.75,301.64 355.27,300.80 355.80,299.88 356.33,298.88 356.85,297.78 357.38,296.60 357.91,295.33 358.43,293.98 358.96,292.53 359.49,291.00 360.01,289.39 360.54,287.70 361.07,285.93 361.59,284.10 362.12,282.20 362.65,280.23 363.18,278.22 363.70,276.15 364.23,274.03 364.76,271.88 365.28,269.68 365.81,267.46 366.34,265.20 366.86,262.92 367.39,260.61 367.92,258.27 368.44,255.91 368.97,253.52 369.50,251.10 370.02,248.65 370.55,246.17 371.08,243.66 371.60,241.11 372.13,238.53 372.66,235.90 373.18,233.24 373.71,230.53 374.24,227.79 374.76,225.01 375.29,222.19 375.82,219.35 376.34,216.49 376.87,213.63 377.40,210.76 377.92,207.91 378.45,205.10 378.98,202.34 379.50,199.65 380.03,197.05 380.56,194.58 381.08,192.24 381.61,190.07 382.14,188.09 382.66,186.33 383.19,184.80 383.72,183.52 384.25,182.52 384.77,181.80 385.30,181.37 385.83,181.24 386.35,181.42 386.88,181.90 387.41,182.67 387.93,183.72 388.46,185.04 388.99,186.61 389.51,188.41 390.04,190.43 390.57,192.62 391.09,194.98 391.62,197.48 392.15,200.09 392.67,202.80 393.20,205.57 393.73,208.39 394.25,211.24 394.78,214.11 395.31,216.98 395.83,219.83 396.36,222.67 396.89,225.48 397.41,228.25 397.94,230.99 398.47,233.69 398.99,236.35 399.52,238.96 400.05,241.54 400.57,244.09 401.10,246.59 401.63,249.06 402.15,251.51 402.68,253.92 403.21,256.31 403.73,258.66 404.26,261.00 404.79,263.30 405.31,265.58 405.84,267.84 406.37,270.06 406.90,272.24 407.42,274.39 407.95,276.50 408.48,278.56 409.00,280.57 409.53,282.52 410.06,284.41 410.58,286.24 411.11,287.99 411.64,289.67 412.16,291.27 412.69,292.78 413.22,294.21 413.74,295.55 414.27,296.81 414.80,297.97 415.32,299.05 415.85,300.04 416.38,300.95 416.90,301.77 417.43,302.51 417.96,303.18 418.48,303.77 419.01,304.30 419.54,304.76 420.06,305.15 420.59,305.49 421.12,305.78 421.64,306.01 422.17,306.19 422.70,306.32 423.22,306.41 423.75,306.45 424.28,306.45 424.80,306.40 425.33,306.31 425.86,306.17 426.38,305.99 426.91,305.75 427.44,305.46 427.97,305.12 428.49,304.71 429.02,304.25 429.55,303.72 430.07,303.11 430.60,302.44 431.13,301.69 431.65,300.86 432.18,299.94 432.71,298.94 433.23,297.86 433.76,296.68 434.29,295.42 434.81,294.07 435.34,292.63 435.87,291.10 436.39,289.50 436.92,287.81 437.45,286.05 437.97,284.22 438.50,282.32 439.03,280.36 439.55,278.35 440.08,276.28 440.61,274.17 441.13,272.02 441.66,269.83 442.19,267.60 442.71,265.35 443.24,263.07 443.77,260.76 444.29,258.42 444.82,256.06 445.35,253.67 445.87,251.25 446.40,248.81 446.93,246.33 447.46,243.82 447.98,241.28 448.51,238.69 449.04,236.07 449.56,233.41 450.09,230.71 450.62,227.96 451.14,225.18 451.67,222.37 452.20,219.54 452.72,216.68 453.25,213.81 453.78,210.94 454.30,208.09 454.83,205.28 455.36,202.51 455.88,199.82 456.41,197.22 456.94,194.73 457.46,192.39 457.99,190.21 458.52,188.22 459.04,186.44 459.57,184.89 460.10,183.60 460.62,182.57 461.15,181.83 461.68,181.39 462.20,181.24 462.73,181.40 463.26,181.86 463.78,182.61 464.31,183.64 464.84,184.95 465.36,186.50 465.89,188.29 466.42,190.29 466.94,192.48 467.47,194.83 468.00,197.32 468.52,199.92 469.05,202.62 469.58,205.39 470.11,208.21 470.63,211.06 471.16,213.92 471.69,216.79 472.21,219.65 472.74,222.49 473.27,225.30 473.79,228.07 474.32,230.81 474.85,233.52 475.37,236.18 475.90,238.80 476.43,241.38 476.95,243.92 477.48,246.43 478.01,248.91 478.53,251.35 479.06,253.77 479.59,256.15 480.11,258.51 480.64,260.85 481.17,263.16 481.69,265.44 482.22,267.69 482.75,269.91 483.27,272.10 483.80,274.25 484.33,276.36 484.85,278.43 485.38,280.44 485.91,282.40 486.43,284.29 486.96,286.12 487.49,287.88 488.01,289.56 488.54,291.17 489.07,292.69 489.60,294.12 490.12,295.47 490.65,296.73 491.18,297.90 491.70,298.98 492.23,299.98 492.76,300.89 493.28,301.72 493.81,302.47 494.34,303.14 494.86,303.74 495.39,304.27 495.92,304.73 496.44,305.13 496.97,305.47 497.50,305.76 498.02,305.99 498.55,306.18 499.08,306.31 499.60,306.40 500.13,306.45 500.66,306.45 501.18,306.41 501.71,306.32 502.24,306.18 502.76,306.00 503.29,305.77 503.82,305.48 504.34,305.14 504.87,304.74 505.40,304.28 505.92,303.75 506.45,303.16 506.98,302.49 507.50,301.74 508.03,300.91 508.56,300.00 509.08,299.01 509.61,297.93 510.14,296.76 510.66,295.50 511.19,294.15 511.72,292.72 512.25,291.20 512.77,289.60 513.30,287.92 513.83,286.16 514.35,284.34 514.88,282.44 515.41,280.49 515.93,278.48 516.46,276.41 516.99,274.31 517.51,272.16 518.04,269.97 518.57,267.75 519.09,265.49 519.62,263.21 520.15,260.90 520.67,258.57 521.20,256.21" fill="none" stroke="#3ca0f5" stroke-width="1.00"/>
<path d="M37.80,306.46 38.33,306.43 38.85,306.37 39.38,306.25 39.91,306.09 40.43,305.89 40.96,305.63 41.49,305.31 42.01,304.94 42.54,304.51 43.07,304.02 43.59,303.46 44.12,302.82 44.65,302.11 45.17,301.33 45.70,300.46 46.23,299.51 46.75,298.47 47.28,297.34 47.81,296.13 48.33,294.82 48.86,293.43 49.39,291.95 49.92,290.39 50.44,288.75 50.97,287.03 51.50,285.24 52.02,283.38 52.55,281.45 53.08,279.46 53.60,277.43 54.13,275.34 54.66,273.21 55.18,271.04 55.71,268.83 56.24,266.60 56.76,264.33 57.29,262.03 57.82,259.71 58.34,257.37 58.87,254.99 59.40,252.59 59.92,250.16 60.45,247.70 60.98,245.21 61.50,242.69 62.03,240.12 62.56,237.52 63.08,234.88 63.61,232.20 64.14,229.48 64.66,226.72 65.19,223.93 65.72,221.10 66.24,218.26 66.77,215.39 67.30,212.52 67.82,209.66 68.35,206.83 68.88,204.03 69.41,201.30 69.93,198.64 70.46,196.09 70.99,193.66 71.51,191.39 72.04,189.29 72.57,187.39 73.09,185.71 73.62,184.28 74.15,183.10 74.67,182.21 75.20,181.60 75.73,181.29 76.25,181.28 76.78,181.57 77.31,182.16 77.83,183.04 78.36,184.19 78.89,185.61 79.41,187.28 79.94,189.16 80.47,191.25 80.99,193.51 81.52,195.93 82.05,198.47 82.57,201.12 83.10,203.85 83.63,206.65 84.15,209.48 84.68,212.34 85.21,215.21 85.73,218.07 86.26,220.92 86.79,223.75 87.31,226.55 87.84,229.31 88.37,232.03 88.89,234.71 89.42,237.36 89.95,239.96 90.47,242.52 91.00,245.05 91.53,247.55 92.06,250.01 92.58,252.44 93.11,254.84 93.64,257.21 94.16,259.56 94.69,261.89 95.22,264.18 95.74,266.45 96.27,268.69 96.80,270.90 97.32,273.07 97.85,275.20 98.38,277.29 98.90,279.34 99.43,281.32 99.96,283.25 100.48,285.12 101.01,286.92 101.54,288.64 102.06,290.29 102.59,291.86 103.12,293.34 103.64,294.74 104.17,296.04 104.70,297.27 105.22,298.40 105.75,299.44 106.28,300.40 106.80,301.27 107.33,302.06 107.86,302.78 108.38,303.42 108.91,303.98 109.44,304.48 109.96,304.92 110.49,305.29 111.02,305.61 111.55,305.87 112.07,306.08 112.60,306.25 113.13,306.36 113.65,306.43 114.18,306.46 114.71,306.44 115.23,306.37 115.76,306.26 116.29,306.11 116.81,305.90 117.34,305.64 117.87,305.34 118.39,304.97 118.92,304.54 119.45,304.05 119.97,303.49 120.50,302.86 121.03,302.16 121.55,301.38 122.08,300.52 122.61,299.57 123.13,298.54 123.66,297.41 124.19,296.21 124.71,294.91 125.24,293.52 125.77,292.05 126.29,290.50 126.82,288.86 127.35,287.14 127.87,285.35 128.40,283.50 128.93,281.57 129.45,279.59 129.98,277.56 130.51,275.47 131.03,273.35 131.56,271.18 132.09,268.98 132.62,266.74 133.14,264.48 133.67,262.18 134.20,259.86 134.72,257.52 135.25,255.14 135.78,252.75 136.30,250.32 136.83,247.86 137.36,245.37 137.88,242.85 138.41,240.29 138.94,237.69 139.46,235.05 139.99,232.37 140.52,229.66 141.04,226.90 141.57,224.11 142.10,221.29 142.62,218.44 143.15,215.58 143.68,212.71 144.20,209.85 144.73,207.01 145.26,204.21 145.78,201.47 146.31,198.81 146.84,196.25 147.36,193.81 147.89,191.53 148.42,189.42 148.94,187.51 149.47,185.81 150.00,184.36 150.52,183.17 151.05,182.25 151.58,181.63 152.10,181.30 152.63,181.27 153.16,181.54 153.69,182.11 154.21,182.97 154.74,184.11 155.27,185.51 155.79,187.16 156.32,189.04 156.85,191.11 157.37,193.36 157.90,195.77 158.43,198.31 158.95,200.95 159.48,203.68 160.01,206.47 160.53,209.30 161.06,212.16 161.59,215.03 162.11,217.89 162.64,220.74 163.17,223.57 163.69,226.37 164.22,229.13 164.75,231.86 165.27,234.55 165.80,237.19 166.33,239.80 166.85,242.37 167.38,244.90 167.91,247.40 168.43,249.86 168.96,252.30 169.49,254.70 170.01,257.08 170.54,259.43 171.07,261.75 171.59,264.05 172.12,266.32 172.65,268.57 173.17,270.78 173.70,272.95 174.23,275.09 174.75,277.18 175.28,279.22 175.81,281.21 176.34,283.15 176.86,285.02 177.39,286.82 177.92,288.55 178.44,290.20 178.97,291.77 179.50,293.26 180.02,294.66 180.55,295.97 181.08,297.20 181.60,298.33 182.13,299.38 182.66,300.35 183.18,301.22 183.71,302.02 184.24,302.74 184.76,303.38 185.29,303.95 185.82,304.45 186.34,304.89 186.87,305.27 187.40,305.59 187.92,305.86 188.45,306.07 188.98,306.24 189.50,306.35 190.03,306.43 190.56,306.46 191.08,306.44 191.61,306.38 192.14,306.27 192.66,306.12 193.19,305.92 193.72,305.66 194.24,305.36 194.77,305.00 195.30,304.57 195.82,304.09 196.35,303.54 196.88,302.91 197.41,302.22 197.93,301.44 198.46,300.58 198.99,299.64 199.51,298.62 200.04,297.51 200.57,296.31 201.09,295.02 201.62,293.64 202.15,292.18 202.67,290.63 203.20,289.00 203.73,287.29 204.25,285.51 204.78,283.67 205.31,281.75 205.83,279.78 206.36,277.75 206.89,275.68 207.41,273.56 207.94,271.40 208.47,269.20 208.99,266.98 209.52,264.72 210.05,262.43 210.57,260.12 211.10,257.79 211.63,255.42 212.15,253.03 212.68,250.62 213.21,248.17 213.73,245.69 214.26,243.18 214.79,240.63 215.31,238.04 215.84,235.41 216.37,232.75 216.89,230.04 217.42,227.30 217.95,224.52 218.48,221.71 219.00,218.87 219.53,216.02 220.06,213.16 220.58,210.31 221.11,207.48 221.64,204.69 222.16,201.96 222.69,199.30 223.22,196.74 223.74,194.31 224.27,192.03 224.80,189.92 225.32,188.00 225.85,186.30 226.38,184.84 226.90,183.64 227.43,182.71 227.96,182.07 228.48,181.73 229.01,181.68 229.54,181.94 230.06,182.49 230.59,183.33 231.12,184.46 231.64,185.84 232.17,187.47 232.70,189.33 233.22,191.38 233.75,193.62 234.28,196.01 234.80,198.54 235.33,201.17 235.86,203.88 236.38,206.66 236.91,209.49 237.44,212.33 237.96,215.19 238.49,218.05 239.02,220.89 239.55,223.71 240.07,226.51 240.60,229.26 241.13,231.98 241.65,234.66 242.18,237.30 242.71,239.90 243.23,242.46 243.76,244.98 244.29,247.47 244.81,249.93 245.34,252.36 245.87,254.75 246.39,257.12 246.92,259.47 247.45,261.78 247.97,264.08 248.50,266.34" fill="none" stroke="#2f9f2f" stroke-width="1.20" stroke-dasharray="3.4,1.4"/>
<path d="M310.50,183.84 311.03,184.62 311.55,185.67 312.08,186.99 312.61,188.55 313.13,190.34 313.66,192.34 314.19,194.51 314.71,196.84 315.24,199.31 315.77,201.89 316.29,204.56 316.82,207.29 317.35,210.07 317.87,212.88 318.40,215.70 318.93,218.53 319.45,221.34 319.98,224.13 320.51,226.89 321.04,229.62 321.56,232.32 322.09,234.97 322.62,237.59 323.14,240.16 323.67,242.70 324.20,245.20 324.72,247.67 325.25,250.10 325.78,252.50 326.30,254.88 326.83,257.22 327.36,259.54 327.88,261.84 328.41,264.11 328.94,266.35 329.46,268.57 329.99,270.75 330.52,272.90 331.04,275.02 331.57,277.09 332.10,279.11 332.62,281.09 333.15,283.01 333.68,284.87 334.20,286.66 334.73,288.38 335.26,290.03 335.78,291.60 336.31,293.08 336.84,294.48 337.36,295.80 337.89,297.03 338.42,298.17 338.94,299.23 339.47,300.20 340.00,301.09 340.52,301.89 341.05,302.62 341.58,303.27 342.11,303.85 342.63,304.36 343.16,304.81 343.69,305.20 344.21,305.53 344.74,305.80 345.27,306.03 345.79,306.20 346.32,306.33 346.85,306.41 347.37,306.45 347.90,306.45 348.43,306.40 348.95,306.31 349.48,306.17 350.01,305.98 350.53,305.74 351.06,305.46 351.59,305.11 352.11,304.71 352.64,304.25 353.17,303.72 353.69,303.13 354.22,302.46 354.75,301.71 355.27,300.89 355.80,299.98 356.33,298.99 356.85,297.92 357.38,296.75 357.91,295.50 358.43,294.17 358.96,292.74 359.49,291.24 360.01,289.65 360.54,287.99 361.07,286.25 361.59,284.44 362.12,282.57 362.65,280.64 363.18,278.65 363.70,276.61 364.23,274.53 364.76,272.41 365.28,270.25 365.81,268.06 366.34,265.83 366.86,263.59 367.39,261.31 367.92,259.01 368.44,256.68 368.97,254.33 369.50,251.95 370.02,249.54 370.55,247.10 371.08,244.62 371.60,242.11 372.13,239.57 372.66,236.98 373.18,234.36 373.71,231.69 374.24,228.99 374.76,226.25 375.29,223.48 375.82,220.69 376.34,217.87 376.87,215.05 377.40,212.23 377.92,209.42 378.45,206.65 378.98,203.93 379.50,201.28 380.03,198.73 380.56,196.29 381.08,193.99 381.61,191.86 382.14,189.91 382.66,188.17 383.19,186.66 383.72,185.40 384.25,184.41 384.77,183.71 385.30,183.29 385.83,183.16 386.35,183.34 386.88,183.80 387.41,184.56 387.93,185.60 388.46,186.90 388.99,188.45 389.51,190.22 390.04,192.20 390.57,194.37 391.09,196.69 391.62,199.15 392.15,201.72 392.67,204.38 393.20,207.11 393.73,209.89 394.25,212.70 394.78,215.52 395.31,218.35 395.83,221.16 396.36,223.95 396.89,226.72 397.41,229.45 397.94,232.14 398.47,234.80 398.99,237.42 399.52,240.00 400.05,242.54 400.57,245.04 401.10,247.51 401.63,249.94 402.15,252.35 402.68,254.72 403.21,257.07 403.73,259.40 404.26,261.69 404.79,263.97 405.31,266.21 405.84,268.43 406.37,270.61 406.90,272.77 407.42,274.88 407.95,276.96 408.48,278.99 409.00,280.96 409.53,282.89 410.06,284.75 410.58,286.55 411.11,288.27 411.64,289.92 412.16,291.50 412.69,292.99 413.22,294.40 413.74,295.72 414.27,296.95 414.80,298.10 415.32,299.16 415.85,300.14 416.38,301.03 416.90,301.84 417.43,302.57 417.96,303.23 418.48,303.82 419.01,304.33 419.54,304.78 420.06,305.17 420.59,305.51 421.12,305.79 421.64,306.01 422.17,306.19 422.70,306.32 423.22,306.41 423.75,306.45 424.28,306.45 424.80,306.40 425.33,306.31 425.86,306.18 426.38,305.99 426.91,305.76 427.44,305.48 427.97,305.14 428.49,304.74 429.02,304.28 429.55,303.76 430.07,303.17 430.60,302.50 431.13,301.76 431.65,300.94 432.18,300.04 432.71,299.06 433.23,297.99 433.76,296.83 434.29,295.59 434.81,294.26 435.34,292.84 435.87,291.34 436.39,289.76 436.92,288.10 437.45,286.36 437.97,284.56 438.50,282.69 439.03,280.76 439.55,278.78 440.08,276.74 440.61,274.66 441.13,272.54 441.66,270.39 442.19,268.20 442.71,265.98 443.24,263.73 443.77,261.46 444.29,259.16 444.82,256.83 445.35,254.48 445.87,252.10 446.40,249.69 446.93,247.25 447.46,244.78 447.98,242.27 448.51,239.73 449.04,237.15 449.56,234.53 450.09,231.87 450.62,229.17 451.14,226.43 451.67,223.66 452.20,220.87 452.72,218.05 453.25,215.23 453.78,212.41 454.30,209.60 454.83,206.83 455.36,204.10 455.88,201.45 456.41,198.89 456.94,196.44 457.46,194.13 457.99,191.99 458.52,190.03 459.04,188.27 459.57,186.75 460.10,185.48 460.62,184.47 461.15,183.74 461.68,183.30 462.20,183.16 462.73,183.32 463.26,183.77 463.78,184.50 464.31,185.52 464.84,186.81 465.36,188.34 465.89,190.10 466.42,192.07 466.94,194.22 467.47,196.54 468.00,198.99 468.52,201.56 469.05,204.21 469.58,206.94 470.11,209.71 470.63,212.52 471.16,215.34 471.69,218.16 472.21,220.98 472.74,223.77 473.27,226.54 473.79,229.27 474.32,231.97 474.85,234.63 475.37,237.25 475.90,239.83 476.43,242.38 476.95,244.88 477.48,247.35 478.01,249.79 478.53,252.20 479.06,254.57 479.59,256.92 480.11,259.25 480.64,261.55 481.17,263.82 481.69,266.07 482.22,268.29 482.75,270.47 483.27,272.63 483.80,274.75 484.33,276.82 484.85,278.86 485.38,280.84 485.91,282.77 486.43,284.63 486.96,286.43 487.49,288.16 488.01,289.82 488.54,291.40 489.07,292.90 489.60,294.31 490.12,295.64 490.65,296.88 491.18,298.03 491.70,299.10 492.23,300.08 492.76,300.98 493.28,301.79 493.81,302.53 494.34,303.19 494.86,303.78 495.39,304.30 495.92,304.76 496.44,305.15 496.97,305.49 497.50,305.77 498.02,306.00 498.55,306.18 499.08,306.32 499.60,306.41 500.13,306.45 500.66,306.45 501.18,306.41 501.71,306.32 502.24,306.19 502.76,306.01 503.29,305.78 503.82,305.50 504.34,305.16 504.87,304.77 505.40,304.31 505.92,303.79 506.45,303.21 506.98,302.55 507.50,301.81 508.03,301.00 508.56,300.10 509.08,299.12 509.61,298.06 510.14,296.91 510.66,295.67 511.19,294.34 511.72,292.93 512.25,291.44 512.77,289.86 513.30,288.20 513.83,286.48 514.35,284.68 514.88,282.81 515.41,280.89 515.93,278.91 516.46,276.87 516.99,274.80 517.51,272.68 518.04,270.53 518.57,268.34 519.09,266.12 519.62,263.87 520.15,261.60 520.67,259.30 521.20,256.98" fill="none" stroke="#2f9f2f" stroke-width="1.20" stroke-dasharray="3.4,1.4"/>
</g>
<g clip-path="url(#c2)">
<path d="M34.85,459.76a2.95,2.95 0 1,0 5.90,0a2.95,2.95 0 1,0 -5.90,0M36.20,459.61a2.95,2.95 0 1,0 5.90,0a2.95,2.95 0 1,0 -5.90,0M37.55,459.16a2.95,2.95 0 1,0 5.90,0a2.95,2.95 0 1,0 -5.90,0M38.90,458.37a2.95,2.95 0 1,0 5.90,0a2.95,2.95 0 1,0 -5.90,0M40.24,457.19a2.95,2.95 0 1,0 5.90,0a2.95,2.95 0 1,0 -5.90,0M41.59,455.56a2.95,2.95 0 1,0 5.90,0a2.95,2.95 0 1,0 -5.90,0M42.94,453.42a2.95,2.95 0 1,0 5.90,0a2.95,2.95 0 1,0 -5.90,0M44.29,450.73a2.95,2.95 0 1,0 5.90,0a2.95,2.95 0 1,0 -5.90,0M45.64,447.47a2.95,2.95 0 1,0 5.90,0a2.95,2.95 0 1,0 -5.90,0M46.99,443.63a2.95,2.95 0 1,0 5.90,0a2.95,2.95 0 1,0 -5.90,0M48.33,439.26a2.95,2.95 0 1,0 5.90,0a2.95,2.95 0 1,0 -5.90,0M49.68,434.44a2.95,2.95 0 1,0 5.90,0a2.95,2.95 0 1,0 -5.90,0M51.03,429.23a2.95,2.95 0 1,0 5.90,0a2.95,2.95 0 1,0 -5.90,0M52.38,423.73a2.95,2.95 0 1,0 5.90,0a2.95,2.95 0 1,0 -5.90,0M53.73,417.99a2.95,2.95 0 1,0 5.90,0a2.95,2.95 0 1,0 -5.90,0M55.08,412.08a2.95,2.95 0 1,0 5.90,0a2.95,2.95 0 1,0 -5.90,0M56.43,405.99a2.95,2.95 0 1,0 5.90,0a2.95,2.95 0 1,0 -5.90,0M57.77,399.71a2.95,2.95 0 1,0 5.90,0a2.95,2.95 0 1,0 -5.90,0M59.12,393.22a2.95,2.95 0 1,0 5.90,0a2.95,2.95 0 1,0 -5.90,0M60.47,386.47a2.95,2.95 0 1,0 5.90,0a2.95,2.95 0 1,0 -5.90,0M61.82,379.47a2.95,2.95 0 1,0 5.90,0a2.95,2.95 0 1,0 -5.90,0M63.17,372.24a2.95,2.95 0 1,0 5.90,0a2.95,2.95 0 1,0 -5.90,0M64.52,364.91a2.95,2.95 0 1,0 5.90,0a2.95,2.95 0 1,0 -5.90,0M65.87,357.66a2.95,2.95 0 1,0 5.90,0a2.95,2.95 0 1,0 -5.90,0M67.21,350.80a2.95,2.95 0 1,0 5.90,0a2.95,2.95 0 1,0 -5.90,0M68.56,344.69a2.95,2.95 0 1,0 5.90,0a2.95,2.95 0 1,0 -5.90,0M69.91,339.72a2.95,2.95 0 1,0 5.90,0a2.95,2.95 0 1,0 -5.90,0M71.26,336.28a2.95,2.95 0 1,0 5.90,0a2.95,2.95 0 1,0 -5.90,0M72.61,334.65a2.95,2.95 0 1,0 5.90,0a2.95,2.95 0 1,0 -5.90,0M73.96,334.98a2.95,2.95 0 1,0 5.90,0a2.95,2.95 0 1,0 -5.90,0M75.30,337.24a2.95,2.95 0 1,0 5.90,0a2.95,2.95 0 1,0 -5.90,0M76.65,341.23a2.95,2.95 0 1,0 5.90,0a2.95,2.95 0 1,0 -5.90,0M78.00,346.63a2.95,2.95 0 1,0 5.90,0a2.95,2.95 0 1,0 -5.90,0M79.35,353.03a2.95,2.95 0 1,0 5.90,0a2.95,2.95 0 1,0 -5.90,0M80.70,360.06a2.95,2.95 0 1,0 5.90,0a2.95,2.95 0 1,0 -5.90,0M82.05,367.36a2.95,2.95 0 1,0 5.90,0a2.95,2.95 0 1,0 -5.90,0M83.40,374.68a2.95,2.95 0 1,0 5.90,0a2.95,2.95 0 1,0 -5.90,0M84.74,381.84a2.95,2.95 0 1,0 5.90,0a2.95,2.95 0 1,0 -5.90,0M86.09,388.76a2.95,2.95 0 1,0 5.90,0a2.95,2.95 0 1,0 -5.90,0M87.44,395.42a2.95,2.95 0 1,0 5.90,0a2.95,2.95 0 1,0 -5.90,0M88.79,401.83a2.95,2.95 0 1,0 5.90,0a2.95,2.95 0 1,0 -5.90,0M90.14,408.04a2.95,2.95 0 1,0 5.90,0a2.95,2.95 0 1,0 -5.90,0M91.49,414.07a2.95,2.95 0 1,0 5.90,0a2.95,2.95 0 1,0 -5.90,0M92.83,419.93a2.95,2.95 0 1,0 5.90,0a2.95,2.95 0 1,0 -5.90,0M94.18,425.59a2.95,2.95 0 1,0 5.90,0a2.95,2.95 0 1,0 -5.90,0M95.53,431.01a2.95,2.95 0 1,0 5.90,0a2.95,2.95 0 1,0 -5.90,0M96.88,436.10a2.95,2.95 0 1,0 5.90,0a2.95,2.95 0 1,0 -5.90,0M98.23,440.78a2.95,2.95 0 1,0 5.90,0a2.95,2.95 0 1,0 -5.90,0M99.58,444.97a2.95,2.95 0 1,0 5.90,0a2.95,2.95 0 1,0 -5.90,0M100.93,448.62a2.95,2.95 0 1,0 5.90,0a2.95,2.95 0 1,0 -5.90,0M102.27,451.70a2.95,2.95 0 1,0 5.90,0a2.95,2.95 0 1,0 -5.90,0M103.62,454.20a2.95,2.95 0 1,0 5.90,0a2.95,2.95 0 1,0 -5.90,0M104.97,456.16a2.95,2.95 0 1,0 5.90,0a2.95,2.95 0 1,0 -5.90,0M106.32,457.63a2.95,2.95 0 1,0 5.90,0a2.95,2.95 0 1,0 -5.90,0M107.67,458.67a2.95,2.95 0 1,0 5.90,0a2.95,2.95 0 1,0 -5.90,0M109.02,459.34a2.95,2.95 0 1,0 5.90,0a2.95,2.95 0 1,0 -5.90,0M110.36,459.69a2.95,2.95 0 1,0 5.90,0a2.95,2.95 0 1,0 -5.90,0M111.71,459.74a2.95,2.95 0 1,0 5.90,0a2.95,2.95 0 1,0 -5.90,0M113.06,459.49a2.95,2.95 0 1,0 5.90,0a2.95,2.95 0 1,0 -5.90,0M114.41,458.93a2.95,2.95 0 1,0 5.90,0a2.95,2.95 0 1,0 -5.90,0M115.76,458.02a2.95,2.95 0 1,0 5.90,0a2.95,2.95 0 1,0 -5.90,0M117.11,456.70a2.95,2.95 0 1,0 5.90,0a2.95,2.95 0 1,0 -5.90,0M118.46,454.91a2.95,2.95 0 1,0 5.90,0a2.95,2.95 0 1,0 -5.90,0M119.80,452.59a2.95,2.95 0 1,0 5.90,0a2.95,2.95 0 1,0 -5.90,0M121.15,449.71a2.95,2.95 0 1,0 5.90,0a2.95,2.95 0 1,0 -5.90,0M122.50,446.24a2.95,2.95 0 1,0 5.90,0a2.95,2.95 0 1,0 -5.90,0M123.85,442.23a2.95,2.95 0 1,0 5.90,0a2.95,2.95 0 1,0 -5.90,0M125.20,437.70a2.95,2.95 0 1,0 5.90,0a2.95,2.95 0 1,0 -5.90,0M126.55,432.73a2.95,2.95 0 1,0 5.90,0a2.95,2.95 0 1,0 -5.90,0M127.90,427.42a2.95,2.95 0 1,0 5.90,0a2.95,2.95 0 1,0 -5.90,0M129.24,421.83a2.95,2.95 0 1,0 5.90,0a2.95,2.95 0 1,0 -5.90,0M130.59,416.03a2.95,2.95 0 1,0 5.90,0a2.95,2.95 0 1,0 -5.90,0M131.94,410.06a2.95,2.95 0 1,0 5.90,0a2.95,2.95 0 1,0 -5.90,0M133.29,403.91a2.95,2.95 0 1,0 5.90,0a2.95,2.95 0 1,0 -5.90,0M134.64,397.57a2.95,2.95 0 1,0 5.90,0a2.95,2.95 0 1,0 -5.90,0M135.99,390.99a2.95,2.95 0 1,0 5.90,0a2.95,2.95 0 1,0 -5.90,0M137.33,384.16a2.95,2.95 0 1,0 5.90,0a2.95,2.95 0 1,0 -5.90,0M138.68,377.07a2.95,2.95 0 1,0 5.90,0a2.95,2.95 0 1,0 -5.90,0M140.03,369.79a2.95,2.95 0 1,0 5.90,0a2.95,2.95 0 1,0 -5.90,0M141.38,362.46a2.95,2.95 0 1,0 5.90,0a2.95,2.95 0 1,0 -5.90,0M142.73,355.31a2.95,2.95 0 1,0 5.90,0a2.95,2.95 0 1,0 -5.90,0M144.08,348.66a2.95,2.95 0 1,0 5.90,0a2.95,2.95 0 1,0 -5.90,0M145.43,342.88a2.95,2.95 0 1,0 5.90,0a2.95,2.95 0 1,0 -5.90,0M146.77,338.38a2.95,2.95 0 1,0 5.90,0a2.95,2.95 0 1,0 -5.90,0M148.12,335.52a2.95,2.95 0 1,0 5.90,0a2.95,2.95 0 1,0 -5.90,0M149.47,334.54a2.95,2.95 0 1,0 5.90,0a2.95,2.95 0 1,0 -5.90,0M150.82,335.53a2.95,2.95 0 1,0 5.90,0a2.95,2.95 0 1,0 -5.90,0M152.17,338.40a2.95,2.95 0 1,0 5.90,0a2.95,2.95 0 1,0 -5.90,0M153.52,342.90a2.95,2.95 0 1,0 5.90,0a2.95,2.95 0 1,0 -5.90,0M154.86,348.68a2.95,2.95 0 1,0 5.90,0a2.95,2.95 0 1,0 -5.90,0M156.21,355.33a2.95,2.95 0 1,0 5.90,0a2.95,2.95 0 1,0 -5.90,0M157.56,362.49a2.95,2.95 0 1,0 5.90,0a2.95,2.95 0 1,0 -5.90,0M158.91,369.82a2.95,2.95 0 1,0 5.90,0a2.95,2.95 0 1,0 -5.90,0M160.26,377.09a2.95,2.95 0 1,0 5.90,0a2.95,2.95 0 1,0 -5.90,0M161.61,384.18a2.95,2.95 0 1,0 5.90,0a2.95,2.95 0 1,0 -5.90,0M162.96,391.01a2.95,2.95 0 1,0 5.90,0a2.95,2.95 0 1,0 -5.90,0M164.30,397.59a2.95,2.95 0 1,0 5.90,0a2.95,2.95 0 1,0 -5.90,0M165.65,403.93a2.95,2.95 0 1,0 5.90,0a2.95,2.95 0 1,0 -5.90,0M167.00,410.08a2.95,2.95 0 1,0 5.90,0a2.95,2.95 0 1,0 -5.90,0M168.35,416.05a2.95,2.95 0 1,0 5.90,0a2.95,2.95 0 1,0 -5.90,0M169.70,421.85a2.95,2.95 0 1,0 5.90,0a2.95,2.95 0 1,0 -5.90,0M171.05,427.43a2.95,2.95 0 1,0 5.90,0a2.95,2.95 0 1,0 -5.90,0M172.39,432.75a2.95,2.95 0 1,0 5.90,0a2.95,2.95 0 1,0 -5.90,0M173.74,437.71a2.95,2.95 0 1,0 5.90,0a2.95,2.95 0 1,0 -5.90,0M175.09,442.24a2.95,2.95 0 1,0 5.90,0a2.95,2.95 0 1,0 -5.90,0M176.44,446.26a2.95,2.95 0 1,0 5.90,0a2.95,2.95 0 1,0 -5.90,0M177.79,449.72a2.95,2.95 0 1,0 5.90,0a2.95,2.95 0 1,0 -5.90,0M179.14,452.60a2.95,2.95 0 1,0 5.90,0a2.95,2.95 0 1,0 -5.90,0M180.49,454.91a2.95,2.95 0 1,0 5.90,0a2.95,2.95 0 1,0 -5.90,0M181.83,456.70a2.95,2.95 0 1,0 5.90,0a2.95,2.95 0 1,0 -5.90,0M183.18,458.02a2.95,2.95 0 1,0 5.90,0a2.95,2.95 0 1,0 -5.90,0M184.53,458.94a2.95,2.95 0 1,0 5.90,0a2.95,2.95 0 1,0 -5.90,0M185.88,459.49a2.95,2.95 0 1,0 5.90,0a2.95,2.95 0 1,0 -5.90,0M187.23,459.74a2.95,2.95 0 1,0 5.90,0a2.95,2.95 0 1,0 -5.90,0M188.58,459.69a2.95,2.95 0 1,0 5.90,0a2.95,2.95 0 1,0 -5.90,0M189.93,459.34a2.95,2.95 0 1,0 5.90,0a2.95,2.95 0 1,0 -5.90,0M191.27,458.67a2.95,2.95 0 1,0 5.90,0a2.95,2.95 0 1,0 -5.90,0M192.62,457.63a2.95,2.95 0 1,0 5.90,0a2.95,2.95 0 1,0 -5.90,0M193.97,456.15a2.95,2.95 0 1,0 5.90,0a2.95,2.95 0 1,0 -5.90,0M195.32,454.19a2.95,2.95 0 1,0 5.90,0a2.95,2.95 0 1,0 -5.90,0M196.67,451.69a2.95,2.95 0 1,0 5.90,0a2.95,2.95 0 1,0 -5.90,0M198.02,448.61a2.95,2.95 0 1,0 5.90,0a2.95,2.95 0 1,0 -5.90,0M199.36,444.96a2.95,2.95 0 1,0 5.90,0a2.95,2.95 0 1,0 -5.90,0M200.71,440.76a2.95,2.95 0 1,0 5.90,0a2.95,2.95 0 1,0 -5.90,0M202.06,436.08a2.95,2.95 0 1,0 5.90,0a2.95,2.95 0 1,0 -5.90,0M203.41,430.99a2.95,2.95 0 1,0 5.90,0a2.95,2.95 0 1,0 -5.90,0M204.76,425.58a2.95,2.95 0 1,0 5.90,0a2.95,2.95 0 1,0 -5.90,0M206.11,419.91a2.95,2.95 0 1,0 5.90,0a2.95,2.95 0 1,0 -5.90,0M207.46,414.06a2.95,2.95 0 1,0 5.90,0a2.95,2.95 0 1,0 -5.90,0M208.80,408.02a2.95,2.95 0 1,0 5.90,0a2.95,2.95 0 1,0 -5.90,0M210.15,401.81a2.95,2.95 0 1,0 5.90,0a2.95,2.95 0 1,0 -5.90,0M211.50,395.40a2.95,2.95 0 1,0 5.90,0a2.95,2.95 0 1,0 -5.90,0M212.85,388.74a2.95,2.95 0 1,0 5.90,0a2.95,2.95 0 1,0 -5.90,0M214.20,381.81a2.95,2.95 0 1,0 5.90,0a2.95,2.95 0 1,0 -5.90,0M215.55,374.65a2.95,2.95 0 1,0 5.90,0a2.95,2.95 0 1,0 -5.90,0M216.89,367.34a2.95,2.95 0 1,0 5.90,0a2.95,2.95 0 1,0 -5.90,0M218.24,360.04a2.95,2.95 0 1,0 5.90,0a2.95,2.95 0 1,0 -5.90,0M219.59,353.01a2.95,2.95 0 1,0 5.90,0a2.95,2.95 0 1,0 -5.90,0M220.94,346.61a2.95,2.95 0 1,0 5.90,0a2.95,2.95 0 1,0 -5.90,0M222.29,341.22a2.95,2.95 0 1,0 5.90,0a2.95,2.95 0 1,0 -5.90,0M223.64,337.23a2.95,2.95 0 1,0 5.90,0a2.95,2.95 0 1,0 -5.90,0M224.99,334.98a2.95,2.95 0 1,0 5.90,0a2.95,2.95 0 1,0 -5.90,0M226.33,334.65a2.95,2.95 0 1,0 5.90,0a2.95,2.95 0 1,0 -5.90,0M227.68,336.29a2.95,2.95 0 1,0 5.90,0a2.95,2.95 0 1,0 -5.90,0M229.03,339.74a2.95,2.95 0 1,0 5.90,0a2.95,2.95 0 1,0 -5.90,0M230.38,344.71a2.95,2.95 0 1,0 5.90,0a2.95,2.95 0 1,0 -5.90,0M231.73,350.82a2.95,2.95 0 1,0 5.90,0a2.95,2.95 0 1,0 -5.90,0M233.08,357.69a2.95,2.95 0 1,0 5.90,0a2.95,2.95 0 1,0 -5.90,0M234.43,364.93a2.95,2.95 0 1,0 5.90,0a2.95,2.95 0 1,0 -5.90,0M235.77,372.26a2.95,2.95 0 1,0 5.90,0a2.95,2.95 0 1,0 -5.90,0M237.12,379.49a2.95,2.95 0 1,0 5.90,0a2.95,2.95 0 1,0 -5.90,0M238.47,386.49a2.95,2.95 0 1,0 5.90,0a2.95,2.95 0 1,0 -5.90,0M239.82,393.24a2.95,2.95 0 1,0 5.90,0a2.95,2.95 0 1,0 -5.90,0M241.17,399.73a2.95,2.95 0 1,0 5.90,0a2.95,2.95 0 1,0 -5.90,0M242.52,406.01a2.95,2.95 0 1,0 5.90,0a2.95,2.95 0 1,0 -5.90,0M243.86,412.10a2.95,2.95 0 1,0 5.90,0a2.95,2.95 0 1,0 -5.90,0M245.21,418.01a2.95,2.95 0 1,0 5.90,0a2.95,2.95 0 1,0 -5.90,0" fill="none" stroke="#ff4a4a" stroke-width="0.85" opacity="0.8"/>
<path d="M308.22,336.30a2.95,2.95 0 1,0 5.90,0a2.95,2.95 0 1,0 -5.90,0M309.57,339.75a2.95,2.95 0 1,0 5.90,0a2.95,2.95 0 1,0 -5.90,0M310.92,344.72a2.95,2.95 0 1,0 5.90,0a2.95,2.95 0 1,0 -5.90,0M312.27,350.84a2.95,2.95 0 1,0 5.90,0a2.95,2.95 0 1,0 -5.90,0M313.62,357.71a2.95,2.95 0 1,0 5.90,0a2.95,2.95 0 1,0 -5.90,0M314.97,364.95a2.95,2.95 0 1,0 5.90,0a2.95,2.95 0 1,0 -5.90,0M316.32,372.29a2.95,2.95 0 1,0 5.90,0a2.95,2.95 0 1,0 -5.90,0M317.66,379.51a2.95,2.95 0 1,0 5.90,0a2.95,2.95 0 1,0 -5.90,0M319.01,386.51a2.95,2.95 0 1,0 5.90,0a2.95,2.95 0 1,0 -5.90,0M320.36,393.26a2.95,2.95 0 1,0 5.90,0a2.95,2.95 0 1,0 -5.90,0M321.71,399.75a2.95,2.95 0 1,0 5.90,0a2.95,2.95 0 1,0 -5.90,0M323.06,406.03a2.95,2.95 0 1,0 5.90,0a2.95,2.95 0 1,0 -5.90,0M324.41,412.11a2.95,2.95 0 1,0 5.90,0a2.95,2.95 0 1,0 -5.90,0M325.75,418.03a2.95,2.95 0 1,0 5.90,0a2.95,2.95 0 1,0 -5.90,0M327.10,423.76a2.95,2.95 0 1,0 5.90,0a2.95,2.95 0 1,0 -5.90,0M328.45,429.26a2.95,2.95 0 1,0 5.90,0a2.95,2.95 0 1,0 -5.90,0M329.80,434.47a2.95,2.95 0 1,0 5.90,0a2.95,2.95 0 1,0 -5.90,0M331.15,439.29a2.95,2.95 0 1,0 5.90,0a2.95,2.95 0 1,0 -5.90,0M332.50,443.65a2.95,2.95 0 1,0 5.90,0a2.95,2.95 0 1,0 -5.90,0M333.85,447.49a2.95,2.95 0 1,0 5.90,0a2.95,2.95 0 1,0 -5.90,0M335.19,450.75a2.95,2.95 0 1,0 5.90,0a2.95,2.95 0 1,0 -5.90,0M336.54,453.44a2.95,2.95 0 1,0 5.90,0a2.95,2.95 0 1,0 -5.90,0M337.89,455.57a2.95,2.95 0 1,0 5.90,0a2.95,2.95 0 1,0 -5.90,0M339.24,457.20a2.95,2.95 0 1,0 5.90,0a2.95,2.95 0 1,0 -5.90,0M340.59,458.37a2.95,2.95 0 1,0 5.90,0a2.95,2.95 0 1,0 -5.90,0M341.94,459.16a2.95,2.95 0 1,0 5.90,0a2.95,2.95 0 1,0 -5.90,0M343.28,459.61a2.95,2.95 0 1,0 5.90,0a2.95,2.95 0 1,0 -5.90,0M344.63,459.76a2.95,2.95 0 1,0 5.90,0a2.95,2.95 0 1,0 -5.90,0M345.98,459.61a2.95,2.95 0 1,0 5.90,0a2.95,2.95 0 1,0 -5.90,0M347.33,459.15a2.95,2.95 0 1,0 5.90,0a2.95,2.95 0 1,0 -5.90,0M348.68,458.36a2.95,2.95 0 1,0 5.90,0a2.95,2.95 0 1,0 -5.90,0M350.03,457.18a2.95,2.95 0 1,0 5.90,0a2.95,2.95 0 1,0 -5.90,0M351.38,455.55a2.95,2.95 0 1,0 5.90,0a2.95,2.95 0 1,0 -5.90,0M352.72,453.41a2.95,2.95 0 1,0 5.90,0a2.95,2.95 0 1,0 -5.90,0M354.07,450.71a2.95,2.95 0 1,0 5.90,0a2.95,2.95 0 1,0 -5.90,0M355.42,447.44a2.95,2.95 0 1,0 5.90,0a2.95,2.95 0 1,0 -5.90,0M356.77,443.60a2.95,2.95 0 1,0 5.90,0a2.95,2.95 0 1,0 -5.90,0M358.12,439.23a2.95,2.95 0 1,0 5.90,0a2.95,2.95 0 1,0 -5.90,0M359.47,434.40a2.95,2.95 0 1,0 5.90,0a2.95,2.95 0 1,0 -5.90,0M360.81,429.20a2.95,2.95 0 1,0 5.90,0a2.95,2.95 0 1,0 -5.90,0M362.16,423.69a2.95,2.95 0 1,0 5.90,0a2.95,2.95 0 1,0 -5.90,0M363.51,417.96a2.95,2.95 0 1,0 5.90,0a2.95,2.95 0 1,0 -5.90,0M364.86,412.04a2.95,2.95 0 1,0 5.90,0a2.95,2.95 0 1,0 -5.90,0M366.21,405.95a2.95,2.95 0 1,0 5.90,0a2.95,2.95 0 1,0 -5.90,0M367.56,399.67a2.95,2.95 0 1,0 5.90,0a2.95,2.95 0 1,0 -5.90,0M368.91,393.18a2.95,2.95 0 1,0 5.90,0a2.95,2.95 0 1,0 -5.90,0M370.25,386.43a2.95,2.95 0 1,0 5.90,0a2.95,2.95 0 1,0 -5.90,0M371.60,379.42a2.95,2.95 0 1,0 5.90,0a2.95,2.95 0 1,0 -5.90,0M372.95,372.20a2.95,2.95 0 1,0 5.90,0a2.95,2.95 0 1,0 -5.90,0M374.30,364.86a2.95,2.95 0 1,0 5.90,0a2.95,2.95 0 1,0 -5.90,0M375.65,357.62a2.95,2.95 0 1,0 5.90,0a2.95,2.95 0 1,0 -5.90,0M377.00,350.76a2.95,2.95 0 1,0 5.90,0a2.95,2.95 0 1,0 -5.90,0M378.35,344.65a2.95,2.95 0 1,0 5.90,0a2.95,2.95 0 1,0 -5.90,0M379.69,339.70a2.95,2.95 0 1,0 5.90,0a2.95,2.95 0 1,0 -5.90,0M381.04,336.26a2.95,2.95 0 1,0 5.90,0a2.95,2.95 0 1,0 -5.90,0M382.39,334.65a2.95,2.95 0 1,0 5.90,0a2.95,2.95 0 1,0 -5.90,0M383.74,334.99a2.95,2.95 0 1,0 5.90,0a2.95,2.95 0 1,0 -5.90,0M385.09,337.26a2.95,2.95 0 1,0 5.90,0a2.95,2.95 0 1,0 -5.90,0M386.44,341.26a2.95,2.95 0 1,0 5.90,0a2.95,2.95 0 1,0 -5.90,0M387.78,346.66a2.95,2.95 0 1,0 5.90,0a2.95,2.95 0 1,0 -5.90,0M389.13,353.08a2.95,2.95 0 1,0 5.90,0a2.95,2.95 0 1,0 -5.90,0M390.48,360.11a2.95,2.95 0 1,0 5.90,0a2.95,2.95 0 1,0 -5.90,0M391.83,367.41a2.95,2.95 0 1,0 5.90,0a2.95,2.95 0 1,0 -5.90,0M393.18,374.72a2.95,2.95 0 1,0 5.90,0a2.95,2.95 0 1,0 -5.90,0M394.53,381.88a2.95,2.95 0 1,0 5.90,0a2.95,2.95 0 1,0 -5.90,0M395.88,388.80a2.95,2.95 0 1,0 5.90,0a2.95,2.95 0 1,0 -5.90,0M397.22,395.46a2.95,2.95 0 1,0 5.90,0a2.95,2.95 0 1,0 -5.90,0M398.57,401.87a2.95,2.95 0 1,0 5.90,0a2.95,2.95 0 1,0 -5.90,0M399.92,408.08a2.95,2.95 0 1,0 5.90,0a2.95,2.95 0 1,0 -5.90,0M401.27,414.11a2.95,2.95 0 1,0 5.90,0a2.95,2.95 0 1,0 -5.90,0M402.62,419.97a2.95,2.95 0 1,0 5.90,0a2.95,2.95 0 1,0 -5.90,0M403.97,425.63a2.95,2.95 0 1,0 5.90,0a2.95,2.95 0 1,0 -5.90,0M405.31,431.04a2.95,2.95 0 1,0 5.90,0a2.95,2.95 0 1,0 -5.90,0M406.66,436.13a2.95,2.95 0 1,0 5.90,0a2.95,2.95 0 1,0 -5.90,0M408.01,440.81a2.95,2.95 0 1,0 5.90,0a2.95,2.95 0 1,0 -5.90,0M409.36,445.00a2.95,2.95 0 1,0 5.90,0a2.95,2.95 0 1,0 -5.90,0M410.71,448.64a2.95,2.95 0 1,0 5.90,0a2.95,2.95 0 1,0 -5.90,0M412.06,451.71a2.95,2.95 0 1,0 5.90,0a2.95,2.95 0 1,0 -5.90,0M413.41,454.21a2.95,2.95 0 1,0 5.90,0a2.95,2.95 0 1,0 -5.90,0M414.75,456.17a2.95,2.95 0 1,0 5.90,0a2.95,2.95 0 1,0 -5.90,0M416.10,457.64a2.95,2.95 0 1,0 5.90,0a2.95,2.95 0 1,0 -5.90,0M417.45,458.68a2.95,2.95 0 1,0 5.90,0a2.95,2.95 0 1,0 -5.90,0M418.80,459.35a2.95,2.95 0 1,0 5.90,0a2.95,2.95 0 1,0 -5.90,0M420.15,459.69a2.95,2.95 0 1,0 5.90,0a2.95,2.95 0 1,0 -5.90,0M421.50,459.74a2.95,2.95 0 1,0 5.90,0a2.95,2.95 0 1,0 -5.90,0M422.85,459.49a2.95,2.95 0 1,0 5.90,0a2.95,2.95 0 1,0 -5.90,0M424.19,458.93a2.95,2.95 0 1,0 5.90,0a2.95,2.95 0 1,0 -5.90,0M425.54,458.01a2.95,2.95 0 1,0 5.90,0a2.95,2.95 0 1,0 -5.90,0M426.89,456.69a2.95,2.95 0 1,0 5.90,0a2.95,2.95 0 1,0 -5.90,0M428.24,454.89a2.95,2.95 0 1,0 5.90,0a2.95,2.95 0 1,0 -5.90,0M429.59,452.57a2.95,2.95 0 1,0 5.90,0a2.95,2.95 0 1,0 -5.90,0M430.94,449.69a2.95,2.95 0 1,0 5.90,0a2.95,2.95 0 1,0 -5.90,0M432.28,446.22a2.95,2.95 0 1,0 5.90,0a2.95,2.95 0 1,0 -5.90,0M433.63,442.20a2.95,2.95 0 1,0 5.90,0a2.95,2.95 0 1,0 -5.90,0M434.98,437.67a2.95,2.95 0 1,0 5.90,0a2.95,2.95 0 1,0 -5.90,0M436.33,432.70a2.95,2.95 0 1,0 5.90,0a2.95,2.95 0 1,0 -5.90,0M437.68,427.38a2.95,2.95 0 1,0 5.90,0a2.95,2.95 0 1,0 -5.90,0M439.03,421.80a2.95,2.95 0 1,0 5.90,0a2.95,2.95 0 1,0 -5.90,0M440.38,416.00a2.95,2.95 0 1,0 5.90,0a2.95,2.95 0 1,0 -5.90,0M441.72,410.02a2.95,2.95 0 1,0 5.90,0a2.95,2.95 0 1,0 -5.90,0M443.07,403.87a2.95,2.95 0 1,0 5.90,0a2.95,2.95 0 1,0 -5.90,0M444.42,397.53a2.95,2.95 0 1,0 5.90,0a2.95,2.95 0 1,0 -5.90,0M445.77,390.95a2.95,2.95 0 1,0 5.90,0a2.95,2.95 0 1,0 -5.90,0M447.12,384.11a2.95,2.95 0 1,0 5.90,0a2.95,2.95 0 1,0 -5.90,0M448.47,377.03a2.95,2.95 0 1,0 5.90,0a2.95,2.95 0 1,0 -5.90,0M449.81,369.75a2.95,2.95 0 1,0 5.90,0a2.95,2.95 0 1,0 -5.90,0M451.16,362.42a2.95,2.95 0 1,0 5.90,0a2.95,2.95 0 1,0 -5.90,0M452.51,355.27a2.95,2.95 0 1,0 5.90,0a2.95,2.95 0 1,0 -5.90,0M453.86,348.62a2.95,2.95 0 1,0 5.90,0a2.95,2.95 0 1,0 -5.90,0M455.21,342.85a2.95,2.95 0 1,0 5.90,0a2.95,2.95 0 1,0 -5.90,0M456.56,338.36a2.95,2.95 0 1,0 5.90,0a2.95,2.95 0 1,0 -5.90,0M457.91,335.51a2.95,2.95 0 1,0 5.90,0a2.95,2.95 0 1,0 -5.90,0M459.25,334.54a2.95,2.95 0 1,0 5.90,0a2.95,2.95 0 1,0 -5.90,0M460.60,335.54a2.95,2.95 0 1,0 5.90,0a2.95,2.95 0 1,0 -5.90,0M461.95,338.42a2.95,2.95 0 1,0 5.90,0a2.95,2.95 0 1,0 -5.90,0M463.30,342.93a2.95,2.95 0 1,0 5.90,0a2.95,2.95 0 1,0 -5.90,0M464.65,348.71a2.95,2.95 0 1,0 5.90,0a2.95,2.95 0 1,0 -5.90,0M466.00,355.38a2.95,2.95 0 1,0 5.90,0a2.95,2.95 0 1,0 -5.90,0M467.34,362.53a2.95,2.95 0 1,0 5.90,0a2.95,2.95 0 1,0 -5.90,0M468.69,369.86a2.95,2.95 0 1,0 5.90,0a2.95,2.95 0 1,0 -5.90,0M470.04,377.14a2.95,2.95 0 1,0 5.90,0a2.95,2.95 0 1,0 -5.90,0M471.39,384.22a2.95,2.95 0 1,0 5.90,0a2.95,2.95 0 1,0 -5.90,0M472.74,391.05a2.95,2.95 0 1,0 5.90,0a2.95,2.95 0 1,0 -5.90,0M474.09,397.63a2.95,2.95 0 1,0 5.90,0a2.95,2.95 0 1,0 -5.90,0M475.44,403.97a2.95,2.95 0 1,0 5.90,0a2.95,2.95 0 1,0 -5.90,0M476.78,410.12a2.95,2.95 0 1,0 5.90,0a2.95,2.95 0 1,0 -5.90,0M478.13,416.09a2.95,2.95 0 1,0 5.90,0a2.95,2.95 0 1,0 -5.90,0M479.48,421.89a2.95,2.95 0 1,0 5.90,0a2.95,2.95 0 1,0 -5.90,0M480.83,427.47a2.95,2.95 0 1,0 5.90,0a2.95,2.95 0 1,0 -5.90,0M482.18,432.78a2.95,2.95 0 1,0 5.90,0a2.95,2.95 0 1,0 -5.90,0M483.53,437.74a2.95,2.95 0 1,0 5.90,0a2.95,2.95 0 1,0 -5.90,0M484.88,442.27a2.95,2.95 0 1,0 5.90,0a2.95,2.95 0 1,0 -5.90,0M486.22,446.28a2.95,2.95 0 1,0 5.90,0a2.95,2.95 0 1,0 -5.90,0M487.57,449.74a2.95,2.95 0 1,0 5.90,0a2.95,2.95 0 1,0 -5.90,0M488.92,452.61a2.95,2.95 0 1,0 5.90,0a2.95,2.95 0 1,0 -5.90,0M490.27,454.92a2.95,2.95 0 1,0 5.90,0a2.95,2.95 0 1,0 -5.90,0M491.62,456.71a2.95,2.95 0 1,0 5.90,0a2.95,2.95 0 1,0 -5.90,0M492.97,458.03a2.95,2.95 0 1,0 5.90,0a2.95,2.95 0 1,0 -5.90,0M494.31,458.94a2.95,2.95 0 1,0 5.90,0a2.95,2.95 0 1,0 -5.90,0M495.66,459.50a2.95,2.95 0 1,0 5.90,0a2.95,2.95 0 1,0 -5.90,0M497.01,459.74a2.95,2.95 0 1,0 5.90,0a2.95,2.95 0 1,0 -5.90,0M498.36,459.69a2.95,2.95 0 1,0 5.90,0a2.95,2.95 0 1,0 -5.90,0M499.71,459.34a2.95,2.95 0 1,0 5.90,0a2.95,2.95 0 1,0 -5.90,0M501.06,458.66a2.95,2.95 0 1,0 5.90,0a2.95,2.95 0 1,0 -5.90,0M502.41,457.62a2.95,2.95 0 1,0 5.90,0a2.95,2.95 0 1,0 -5.90,0M503.75,456.14a2.95,2.95 0 1,0 5.90,0a2.95,2.95 0 1,0 -5.90,0M505.10,454.18a2.95,2.95 0 1,0 5.90,0a2.95,2.95 0 1,0 -5.90,0M506.45,451.67a2.95,2.95 0 1,0 5.90,0a2.95,2.95 0 1,0 -5.90,0M507.80,448.59a2.95,2.95 0 1,0 5.90,0a2.95,2.95 0 1,0 -5.90,0M509.15,444.94a2.95,2.95 0 1,0 5.90,0a2.95,2.95 0 1,0 -5.90,0M510.50,440.74a2.95,2.95 0 1,0 5.90,0a2.95,2.95 0 1,0 -5.90,0M511.84,436.05a2.95,2.95 0 1,0 5.90,0a2.95,2.95 0 1,0 -5.90,0M513.19,430.96a2.95,2.95 0 1,0 5.90,0a2.95,2.95 0 1,0 -5.90,0M514.54,425.54a2.95,2.95 0 1,0 5.90,0a2.95,2.95 0 1,0 -5.90,0M515.89,419.88a2.95,2.95 0 1,0 5.90,0a2.95,2.95 0 1,0 -5.90,0M517.24,414.02a2.95,2.95 0 1,0 5.90,0a2.95,2.95 0 1,0 -5.90,0M518.59,407.99a2.95,2.95 0 1,0 5.90,0a2.95,2.95 0 1,0 -5.90,0M519.94,401.77a2.95,2.95 0 1,0 5.90,0a2.95,2.95 0 1,0 -5.90,0M521.28,395.35a2.95,2.95 0 1,0 5.90,0a2.95,2.95 0 1,0 -5.90,0" fill="none" stroke="#ff4a4a" stroke-width="0.85" opacity="0.8"/>
<path d="M37.80,459.91 38.33,459.89 38.85,459.81 39.38,459.69 39.91,459.52 40.43,459.29 40.96,459.01 41.49,458.68 42.01,458.28 42.54,457.82 43.07,457.29 43.59,456.68 44.12,456.01 44.65,455.25 45.17,454.41 45.70,453.48 46.23,452.46 46.75,451.36 47.28,450.15 47.81,448.85 48.33,447.46 48.86,445.97 49.39,444.39 49.92,442.71 50.44,440.94 50.97,439.09 51.50,437.15 52.02,435.14 52.55,433.05 53.08,430.89 53.60,428.66 54.13,426.38 54.66,424.05 55.18,421.67 55.71,419.24 56.24,416.78 56.76,414.28 57.29,411.75 57.82,409.19 58.34,406.60 58.87,403.98 59.40,401.33 59.92,398.66 60.45,395.95 60.98,393.21 61.50,390.44 62.03,387.63 62.56,384.79 63.08,381.90 63.61,378.97 64.14,376.00 64.66,372.99 65.19,369.93 65.72,366.83 66.24,363.70 66.77,360.53 67.30,357.33 67.82,354.13 68.35,350.91 68.88,347.71 69.41,344.53 69.93,341.40 70.46,338.32 70.99,335.34 71.51,332.46 72.04,329.71 72.57,327.12 73.09,324.72 73.62,322.52 74.15,320.55 74.67,318.84 75.20,317.41 75.73,316.26 76.25,315.43 76.78,314.91 77.31,314.72 77.83,314.85 78.36,315.31 78.89,316.09 79.41,317.17 79.94,318.56 80.47,320.22 80.99,322.14 81.52,324.30 82.05,326.66 82.57,329.22 83.10,331.94 83.63,334.80 84.15,337.77 84.68,340.83 85.21,343.95 85.73,347.12 86.26,350.32 86.79,353.54 87.31,356.75 87.84,359.94 88.37,363.11 88.89,366.26 89.42,369.36 89.95,372.43 90.47,375.45 91.00,378.43 91.53,381.37 92.06,384.26 92.58,387.11 93.11,389.93 93.64,392.70 94.16,395.45 94.69,398.16 95.22,400.84 95.74,403.49 96.27,406.12 96.80,408.71 97.32,411.28 97.85,413.82 98.38,416.32 98.90,418.79 99.43,421.23 99.96,423.62 100.48,425.96 101.01,428.25 101.54,430.48 102.06,432.65 102.59,434.76 103.12,436.79 103.64,438.74 104.17,440.61 104.70,442.39 105.22,444.09 105.75,445.69 106.28,447.19 106.80,448.61 107.33,449.92 107.86,451.14 108.38,452.27 108.91,453.30 109.44,454.24 109.96,455.10 110.49,455.87 111.02,456.56 111.55,457.18 112.07,457.72 112.60,458.20 113.13,458.61 113.65,458.96 114.18,459.25 114.71,459.48 115.23,459.66 115.76,459.79 116.29,459.88 116.81,459.91 117.34,459.89 117.87,459.83 118.39,459.72 118.92,459.55 119.45,459.34 119.97,459.07 120.50,458.74 121.03,458.36 121.55,457.91 122.08,457.39 122.61,456.80 123.13,456.14 123.66,455.39 124.19,454.57 124.71,453.66 125.24,452.66 125.77,451.57 126.29,450.38 126.82,449.10 127.35,447.72 127.87,446.25 128.40,444.69 128.93,443.03 129.45,441.28 129.98,439.44 130.51,437.51 131.03,435.51 131.56,433.44 132.09,431.29 132.62,429.08 133.14,426.81 133.67,424.48 134.20,422.11 134.72,419.69 135.25,417.24 135.78,414.74 136.30,412.22 136.83,409.66 137.36,407.08 137.88,404.46 138.41,401.82 138.94,399.15 139.46,396.45 139.99,393.72 140.52,390.95 141.04,388.15 141.57,385.31 142.10,382.44 142.62,379.52 143.15,376.55 143.68,373.54 144.20,370.49 144.73,367.40 145.26,364.27 145.78,361.11 146.31,357.92 146.84,354.72 147.36,351.50 147.89,348.30 148.42,345.11 148.94,341.97 149.47,338.88 150.00,335.88 150.52,332.98 151.05,330.21 151.58,327.59 152.10,325.14 152.63,322.91 153.16,320.90 153.69,319.14 154.21,317.65 154.74,316.45 155.27,315.56 155.79,314.98 156.32,314.73 156.85,314.80 157.37,315.20 157.90,315.92 158.43,316.95 158.95,318.28 159.48,319.89 160.01,321.77 160.53,323.88 161.06,326.21 161.59,328.74 162.11,331.43 162.64,334.26 163.17,337.21 163.69,340.26 164.22,343.37 164.75,346.54 165.27,349.73 165.80,352.94 166.33,356.16 166.85,359.35 167.38,362.53 167.91,365.68 168.43,368.79 168.96,371.87 169.49,374.90 170.01,377.88 170.54,380.83 171.07,383.73 171.59,386.59 172.12,389.41 172.65,392.20 173.17,394.95 173.70,397.66 174.23,400.35 174.75,403.01 175.28,405.64 175.81,408.24 176.34,410.81 176.86,413.35 177.39,415.87 177.92,418.34 178.44,420.78 178.97,423.18 179.50,425.53 180.02,427.83 180.55,430.08 181.08,432.26 181.60,434.38 182.13,436.42 182.66,438.39 183.18,440.27 183.71,442.07 184.24,443.78 184.76,445.40 185.29,446.92 185.82,448.35 186.34,449.69 186.87,450.92 187.40,452.07 187.92,453.12 188.45,454.08 188.98,454.95 189.50,455.74 190.03,456.44 190.56,457.07 191.08,457.63 191.61,458.12 192.14,458.54 192.66,458.90 193.19,459.20 193.72,459.44 194.24,459.63 194.77,459.77 195.30,459.86 195.82,459.91 196.35,459.90 196.88,459.84 197.41,459.74 197.93,459.59 198.46,459.38 198.99,459.12 199.51,458.81 200.04,458.43 200.57,457.99 201.09,457.49 201.62,456.91 202.15,456.26 202.67,455.54 203.20,454.73 203.73,453.83 204.25,452.85 204.78,451.77 205.31,450.61 205.83,449.34 206.36,447.98 206.89,446.53 207.41,444.98 207.94,443.34 208.47,441.60 208.99,439.78 209.52,437.87 210.05,435.89 210.57,433.82 211.10,431.69 211.63,429.49 212.15,427.23 212.68,424.91 213.21,422.55 213.73,420.14 214.26,417.69 214.79,415.21 215.31,412.69 215.84,410.14 216.37,407.55 216.89,404.95 217.42,402.31 217.95,399.64 218.48,396.95 219.00,394.22 219.53,391.46 220.06,388.67 220.58,385.84 221.11,382.97 221.64,380.06 222.16,377.10 222.69,374.10 223.22,371.06 223.74,367.98 224.27,364.85 224.80,361.70 225.32,358.51 225.85,355.31 226.38,352.10 226.90,348.89 227.43,345.70 227.96,342.54 228.48,339.45 229.01,336.43 229.54,333.50 230.06,330.70 230.59,328.05 231.12,325.58 231.64,323.30 232.17,321.25 232.70,319.44 233.22,317.90 233.75,316.65 234.28,315.70 234.80,315.06 235.33,314.75 235.86,314.76 236.38,315.10 236.91,315.76 237.44,316.74 237.96,318.02 238.49,319.58 239.02,321.40 239.55,323.48 240.07,325.77 240.60,328.26 241.13,330.92 241.65,333.73 242.18,336.66 242.71,339.69 243.23,342.80 243.76,345.95 244.29,349.14 244.81,352.35 245.34,355.57 245.87,358.77 246.39,361.95 246.92,365.10 247.45,368.22 247.97,371.30 248.50,374.34" fill="none" stroke="#7a7a7a" stroke-width="0.80"/>
<path d="M310.50,378.74 311.03,375.76 311.55,372.74 312.08,369.68 312.61,366.58 313.13,363.44 313.66,360.27 314.19,357.08 314.71,353.87 315.24,350.66 315.77,347.46 316.29,344.28 316.82,341.15 317.35,338.08 317.87,335.10 318.40,332.23 318.93,329.50 319.45,326.92 319.98,324.53 320.51,322.35 321.04,320.41 321.56,318.72 322.09,317.30 322.62,316.19 323.14,315.38 323.67,314.88 324.20,314.72 324.72,314.88 325.25,315.36 325.78,316.16 326.30,317.27 326.83,318.68 327.36,320.36 327.88,322.30 328.41,324.48 328.94,326.86 329.46,329.43 329.99,332.17 330.52,335.03 331.04,338.01 331.57,341.07 332.10,344.20 332.62,347.38 333.15,350.58 333.68,353.79 334.20,357.00 334.73,360.20 335.26,363.37 335.78,366.51 336.31,369.61 336.84,372.67 337.36,375.69 337.89,378.67 338.42,381.60 338.94,384.49 339.47,387.34 340.00,390.15 340.52,392.93 341.05,395.67 341.58,398.38 342.11,401.06 342.63,403.71 343.16,406.33 343.69,408.92 344.21,411.49 344.74,414.02 345.27,416.52 345.79,418.99 346.32,421.42 346.85,423.80 347.37,426.14 347.90,428.43 348.43,430.66 348.95,432.82 349.48,434.92 350.01,436.95 350.53,438.89 351.06,440.75 351.59,442.53 352.11,444.22 352.64,445.81 353.17,447.31 353.69,448.71 354.22,450.02 354.75,451.23 355.27,452.35 355.80,453.38 356.33,454.32 356.85,455.16 357.38,455.93 357.91,456.62 358.43,457.23 358.96,457.76 359.49,458.23 360.01,458.64 360.54,458.98 361.07,459.27 361.59,459.50 362.12,459.68 362.65,459.80 363.18,459.88 363.70,459.91 364.23,459.89 364.76,459.82 365.28,459.71 365.81,459.54 366.34,459.32 366.86,459.05 367.39,458.71 367.92,458.32 368.44,457.87 368.97,457.34 369.50,456.75 370.02,456.08 370.55,455.33 371.08,454.50 371.60,453.58 372.13,452.57 372.66,451.47 373.18,450.28 373.71,448.99 374.24,447.61 374.76,446.13 375.29,444.56 375.82,442.89 376.34,441.13 376.87,439.29 377.40,437.36 377.92,435.35 378.45,433.27 378.98,431.11 379.50,428.90 380.03,426.62 380.56,424.30 381.08,421.92 381.61,419.50 382.14,417.04 382.66,414.54 383.19,412.02 383.72,409.46 384.25,406.87 384.77,404.25 385.30,401.61 385.83,398.94 386.35,396.23 386.88,393.50 387.41,390.73 387.93,387.93 388.46,385.09 388.99,382.20 389.51,379.28 390.04,376.31 390.57,373.30 391.09,370.25 391.62,367.15 392.15,364.02 392.67,360.86 393.20,357.67 393.73,354.46 394.25,351.25 394.78,348.04 395.31,344.86 395.83,341.72 396.36,338.64 396.89,335.64 397.41,332.75 397.94,329.99 398.47,327.38 398.99,324.96 399.52,322.74 400.05,320.75 400.57,319.01 401.10,317.54 401.63,316.37 402.15,315.50 402.68,314.95 403.21,314.72 403.73,314.82 404.26,315.25 404.79,315.99 405.31,317.05 405.84,318.40 406.37,320.03 406.90,321.93 407.42,324.06 407.95,326.41 408.48,328.95 409.00,331.65 409.53,334.50 410.06,337.45 410.58,340.50 411.11,343.62 411.64,346.79 412.16,349.99 412.69,353.20 413.22,356.41 413.74,359.61 414.27,362.79 414.80,365.93 415.32,369.04 415.85,372.11 416.38,375.14 416.90,378.12 417.43,381.06 417.96,383.96 418.48,386.82 419.01,389.64 419.54,392.42 420.06,395.16 420.59,397.88 421.12,400.56 421.64,403.22 422.17,405.85 422.70,408.45 423.22,411.02 423.75,413.56 424.28,416.07 424.80,418.54 425.33,420.98 425.86,423.37 426.38,425.72 426.91,428.01 427.44,430.25 427.97,432.43 428.49,434.54 429.02,436.58 429.55,438.54 430.07,440.42 430.60,442.21 431.13,443.91 431.65,445.53 432.18,447.04 432.71,448.46 433.23,449.79 433.76,451.02 434.29,452.15 434.81,453.20 435.34,454.15 435.87,455.02 436.39,455.80 436.92,456.50 437.45,457.12 437.97,457.67 438.50,458.15 439.03,458.57 439.55,458.92 440.08,459.22 440.61,459.46 441.13,459.65 441.66,459.78 442.19,459.87 442.71,459.91 443.24,459.90 443.77,459.84 444.29,459.73 444.82,459.57 445.35,459.36 445.87,459.10 446.40,458.78 446.93,458.40 447.46,457.96 447.98,457.45 448.51,456.86 449.04,456.21 449.56,455.48 450.09,454.66 450.62,453.76 451.14,452.77 451.67,451.68 452.20,450.51 452.72,449.24 453.25,447.87 453.78,446.41 454.30,444.85 454.83,443.20 455.36,441.46 455.88,439.63 456.41,437.72 456.94,435.72 457.46,433.66 457.99,431.52 458.52,429.31 459.04,427.05 459.57,424.73 460.10,422.36 460.62,419.95 461.15,417.49 461.68,415.01 462.20,412.48 462.73,409.93 463.26,407.35 463.78,404.74 464.31,402.10 464.84,399.43 465.36,396.73 465.89,394.00 466.42,391.24 466.94,388.45 467.47,385.61 468.00,382.74 468.52,379.82 469.05,376.86 469.58,373.86 470.11,370.81 470.63,367.73 471.16,364.60 471.69,361.44 472.21,358.26 472.74,355.05 473.27,351.84 473.79,348.63 474.32,345.44 474.85,342.29 475.37,339.20 475.90,336.19 476.43,333.27 476.95,330.49 477.48,327.85 478.01,325.39 478.53,323.13 479.06,321.09 479.59,319.31 480.11,317.79 480.64,316.56 481.17,315.64 481.69,315.03 482.22,314.74 482.75,314.78 483.27,315.14 483.80,315.83 484.33,316.83 484.85,318.13 485.38,319.71 485.91,321.56 486.43,323.65 486.96,325.96 487.49,328.47 488.01,331.14 488.54,333.96 489.07,336.90 489.60,339.94 490.12,343.05 490.65,346.21 491.18,349.40 491.70,352.61 492.23,355.82 492.76,359.02 493.28,362.20 493.81,365.36 494.34,368.47 494.86,371.55 495.39,374.58 495.92,377.58 496.44,380.52 496.97,383.43 497.50,386.30 498.02,389.12 498.55,391.91 499.08,394.66 499.60,397.38 500.13,400.07 500.66,402.73 501.18,405.37 501.71,407.97 502.24,410.55 502.76,413.09 503.29,415.61 503.82,418.09 504.34,420.53 504.87,422.93 505.40,425.29 505.92,427.59 506.45,429.85 506.98,432.04 507.50,434.16 508.03,436.21 508.56,438.19 509.08,440.08 509.61,441.89 510.14,443.61 510.66,445.24 511.19,446.77 511.72,448.21 512.25,449.55 512.77,450.80 513.30,451.95 513.83,453.01 514.35,453.98 514.88,454.86 515.41,455.66 515.93,456.37 516.46,457.01 516.99,457.57 517.51,458.07 518.04,458.50 518.57,458.86 519.09,459.17 519.62,459.42 520.15,459.62 520.67,459.76 521.20,459.86" fill="none" stroke="#7a7a7a" stroke-width="0.80"/>
<path d="M37.80,459.75 38.33,459.75 38.85,459.69 39.38,459.59 39.91,459.45 40.43,459.26 40.96,459.01 41.49,458.72 42.01,458.36 42.54,457.95 43.07,457.48 43.59,456.93 44.12,456.32 44.65,455.64 45.17,454.87 45.70,454.03 46.23,453.10 46.75,452.08 47.28,450.98 47.81,449.79 48.33,448.51 48.86,447.15 49.39,445.69 49.92,444.15 50.44,442.53 50.97,440.83 51.50,439.06 52.02,437.21 52.55,435.30 53.08,433.33 53.60,431.30 54.13,429.22 54.66,427.10 55.18,424.93 55.71,422.73 56.24,420.50 56.76,418.23 57.29,415.94 57.82,413.62 58.34,411.27 58.87,408.90 59.40,406.50 59.92,404.07 60.45,401.62 60.98,399.13 61.50,396.61 62.03,394.05 62.56,391.45 63.08,388.82 63.61,386.14 64.14,383.42 64.66,380.67 65.19,377.88 65.72,375.05 66.24,372.20 66.77,369.33 67.30,366.46 67.82,363.58 68.35,360.73 68.88,357.91 69.41,355.14 69.93,352.45 70.46,349.86 70.99,347.38 71.51,345.05 72.04,342.88 72.57,340.91 73.09,339.16 73.62,337.64 74.15,336.37 74.67,335.38 75.20,334.68 75.73,334.27 76.25,334.17 76.78,334.38 77.31,334.89 77.83,335.70 78.36,336.79 78.89,338.14 79.41,339.75 79.94,341.59 80.47,343.63 80.99,345.86 81.52,348.25 82.05,350.77 82.57,353.41 83.10,356.13 83.63,358.92 84.15,361.76 84.68,364.63 85.21,367.51 85.73,370.39 86.26,373.26 86.79,376.11 87.31,378.93 87.84,381.71 88.37,384.46 88.89,387.16 89.42,389.83 89.95,392.45 90.47,395.03 91.00,397.58 91.53,400.09 92.06,402.57 92.58,405.01 93.11,407.43 93.64,409.82 94.16,412.18 94.69,414.51 95.22,416.82 95.74,419.10 96.27,421.35 96.80,423.57 97.32,425.75 97.85,427.90 98.38,430.00 98.90,432.06 99.43,434.06 99.96,436.01 100.48,437.89 101.01,439.71 101.54,441.46 102.06,443.13 102.59,444.71 103.12,446.22 103.64,447.64 104.17,448.98 104.70,450.22 105.22,451.38 105.75,452.45 106.28,453.43 106.80,454.33 107.33,455.14 107.86,455.88 108.38,456.54 108.91,457.12 109.44,457.64 109.96,458.09 110.49,458.48 111.02,458.82 111.55,459.10 112.07,459.32 112.60,459.50 113.13,459.63 113.65,459.71 114.18,459.75 114.71,459.75 115.23,459.70 115.76,459.60 116.29,459.46 116.81,459.28 117.34,459.04 117.87,458.75 118.39,458.40 118.92,458.00 119.45,457.53 119.97,457.00 120.50,456.40 121.03,455.73 121.55,454.98 122.08,454.15 122.61,453.23 123.13,452.24 123.66,451.16 124.19,449.99 124.71,448.73 125.24,447.39 125.77,445.96 126.29,444.44 126.82,442.85 127.35,441.17 127.87,439.43 128.40,437.61 128.93,435.73 129.45,433.79 129.98,431.80 130.51,429.75 131.03,427.66 131.56,425.53 132.09,423.37 132.62,421.17 133.14,418.94 133.67,416.69 134.20,414.41 134.72,412.10 135.25,409.77 135.78,407.42 136.30,405.03 136.83,402.62 137.36,400.18 137.88,397.70 138.41,395.19 138.94,392.65 139.46,390.06 139.99,387.44 140.52,384.78 141.04,382.08 141.57,379.34 142.10,376.57 142.62,373.78 143.15,370.97 143.68,368.18 144.20,365.39 144.73,362.62 145.26,359.89 145.78,357.20 146.31,354.58 146.84,352.06 147.36,349.65 147.89,347.37 148.42,345.25 148.94,343.31 149.47,341.58 150.00,340.07 150.52,338.81 151.05,337.80 151.58,337.07 152.10,336.63 152.63,336.45 153.16,336.55 153.69,336.94 154.21,337.62 154.74,338.57 155.27,339.78 155.79,341.24 156.32,342.93 156.85,344.82 157.37,346.91 157.90,349.15 158.43,351.54 158.95,354.04 159.48,356.64 160.01,359.32 160.53,362.05 161.06,364.81 161.59,367.59 162.11,370.38 162.64,373.17 163.17,375.94 163.69,378.68 164.22,381.40 164.75,384.08 165.27,386.72 165.80,389.33 166.33,391.90 166.85,394.43 167.38,396.93 167.91,399.39 168.43,401.82 168.96,404.21 169.49,406.58 170.01,408.93 170.54,411.24 171.07,413.54 171.59,415.80 172.12,418.05 172.65,420.26 173.17,422.45 173.70,424.61 174.23,426.73 174.75,428.82 175.28,430.87 175.81,432.87 176.34,434.81 176.86,436.70 177.39,438.54 177.92,440.30 178.44,441.99 178.97,443.62 179.50,445.16 180.02,446.62 180.55,448.00 181.08,449.29 181.60,450.50 182.13,451.62 182.66,452.66 183.18,453.61 183.71,454.48 184.24,455.27 184.76,455.98 185.29,456.62 185.82,457.19 186.34,457.70 186.87,458.14 187.40,458.52 187.92,458.84 188.45,459.12 188.98,459.34 189.50,459.51 190.03,459.63 190.56,459.72 191.08,459.75 191.61,459.75 192.14,459.70 192.66,459.60 193.19,459.46 193.72,459.28 194.24,459.04 194.77,458.76 195.30,458.42 195.82,458.02 196.35,457.56 196.88,457.03 197.41,456.44 197.93,455.78 198.46,455.04 198.99,454.22 199.51,453.32 200.04,452.34 200.57,451.27 201.09,450.12 201.62,448.88 202.15,447.55 202.67,446.14 203.20,444.64 203.73,443.06 204.25,441.40 204.78,439.67 205.31,437.86 205.83,435.99 206.36,434.06 206.89,432.07 207.41,430.04 207.94,427.95 208.47,425.82 208.99,423.66 209.52,421.46 210.05,419.23 210.57,416.96 211.10,414.68 211.63,412.36 212.15,410.02 212.68,407.65 213.21,405.26 213.73,402.84 214.26,400.38 214.79,397.90 215.31,395.37 215.84,392.81 216.37,390.22 216.89,387.58 217.42,384.90 217.95,382.18 218.48,379.43 219.00,376.64 219.53,373.81 220.06,370.97 220.58,368.11 221.11,365.25 221.64,362.39 222.16,359.56 222.69,356.76 223.22,354.03 223.74,351.38 224.27,348.82 224.80,346.39 225.32,344.11 225.85,342.01 226.38,340.09 226.90,338.40 227.43,336.94 227.96,335.74 228.48,334.81 229.01,334.17 229.54,333.84 230.06,333.81 230.59,334.08 231.12,334.64 231.64,335.48 232.17,336.61 232.70,337.99 233.22,339.62 233.75,341.46 234.28,343.51 234.80,345.74 235.33,348.13 235.86,350.64 236.38,353.29 236.91,356.03 237.44,358.83 237.96,361.68 238.49,364.55 239.02,367.44 239.55,370.32 240.07,373.20 240.60,376.05 241.13,378.87 241.65,381.65 242.18,384.40 242.71,387.11 243.23,389.78 243.76,392.40 244.29,394.99 244.81,397.54 245.34,400.06 245.87,402.54 246.39,404.99 246.92,407.41 247.45,409.80 247.97,412.17 248.50,414.51" fill="none" stroke="#2f9f2f" stroke-width="1.20" stroke-dasharray="3.4,1.4"/>
<path d="M310.50,337.04 311.03,337.76 311.55,338.77 312.08,340.04 312.61,341.56 313.13,343.31 313.66,345.28 314.19,347.43 314.71,349.74 315.24,352.20 315.77,354.77 316.29,357.43 316.82,360.17 317.35,362.95 317.87,365.77 318.40,368.60 318.93,371.44 319.45,374.27 319.98,377.08 320.51,379.86 321.04,382.61 321.56,385.32 322.09,387.99 322.62,390.62 323.14,393.21 323.67,395.75 324.20,398.26 324.72,400.74 325.25,403.18 325.78,405.58 326.30,407.96 326.83,410.31 327.36,412.63 327.88,414.92 328.41,417.19 328.94,419.43 329.46,421.64 329.99,423.81 330.52,425.96 331.04,428.07 331.57,430.14 332.10,432.16 332.62,434.13 333.15,436.05 333.68,437.91 334.20,439.70 334.73,441.43 335.26,443.08 335.78,444.65 336.31,446.14 336.84,447.55 337.36,448.88 337.89,450.12 338.42,451.27 338.94,452.34 339.47,453.32 340.00,454.22 340.52,455.03 341.05,455.77 341.58,456.44 342.11,457.03 342.63,457.55 343.16,458.01 343.69,458.41 344.21,458.75 344.74,459.04 345.27,459.27 345.79,459.46 346.32,459.60 346.85,459.69 347.37,459.75 347.90,459.75 348.43,459.72 348.95,459.64 349.48,459.52 350.01,459.35 350.53,459.14 351.06,458.88 351.59,458.56 352.11,458.19 352.64,457.76 353.17,457.27 353.69,456.71 354.22,456.08 354.75,455.38 355.27,454.61 355.80,453.76 356.33,452.82 356.85,451.81 357.38,450.71 357.91,449.53 358.43,448.26 358.96,446.91 359.49,445.48 360.01,443.97 360.54,442.39 361.07,440.73 361.59,439.01 362.12,437.22 362.65,435.38 363.18,433.48 363.70,431.54 364.23,429.55 364.76,427.52 365.28,425.45 365.81,423.36 366.34,421.24 366.86,419.09 367.39,416.91 367.92,414.72 368.44,412.50 368.97,410.25 369.50,407.98 370.02,405.69 370.55,403.37 371.08,401.02 371.60,398.63 372.13,396.22 372.66,393.77 373.18,391.28 373.71,388.75 374.24,386.19 374.76,383.60 375.29,380.98 375.82,378.33 376.34,375.66 376.87,372.98 377.40,370.30 377.92,367.64 378.45,365.01 378.98,362.42 379.50,359.89 380.03,357.45 380.56,355.11 381.08,352.90 381.61,350.84 382.14,348.96 382.66,347.27 383.19,345.79 383.72,344.56 384.25,343.57 384.77,342.84 385.30,342.39 385.83,342.22 386.35,342.27 386.88,342.59 387.41,343.20 387.93,344.08 388.46,345.21 388.99,346.59 389.51,348.19 390.04,349.99 390.57,351.98 391.09,354.13 391.62,356.41 392.15,358.81 392.67,361.31 393.20,363.88 393.73,366.50 394.25,369.16 394.78,371.83 395.31,374.52 395.83,377.19 396.36,379.86 396.89,382.50 397.41,385.11 397.94,387.68 398.47,390.23 398.99,392.73 399.52,395.20 400.05,397.64 400.57,400.03 401.10,402.40 401.63,404.73 402.15,407.04 402.68,409.32 403.21,411.57 403.73,413.80 404.26,416.01 404.79,418.19 405.31,420.35 405.84,422.48 406.37,424.59 406.90,426.66 407.42,428.70 407.95,430.71 408.48,432.67 409.00,434.58 409.53,436.45 410.06,438.26 410.58,440.01 411.11,441.69 411.64,443.30 412.16,444.84 412.69,446.30 413.22,447.69 413.74,448.99 414.27,450.20 414.80,451.34 415.32,452.39 415.85,453.36 416.38,454.24 416.90,455.05 417.43,455.78 417.96,456.44 418.48,457.03 419.01,457.55 419.54,458.00 420.06,458.40 420.59,458.74 421.12,459.03 421.64,459.26 422.17,459.45 422.70,459.59 423.22,459.69 423.75,459.74 424.28,459.75 424.80,459.72 425.33,459.65 425.86,459.53 426.38,459.37 426.91,459.16 427.44,458.90 427.97,458.58 428.49,458.22 429.02,457.79 429.55,457.30 430.07,456.75 430.60,456.12 431.13,455.42 431.65,454.65 432.18,453.80 432.71,452.86 433.23,451.85 433.76,450.74 434.29,449.55 434.81,448.28 435.34,446.92 435.87,445.48 436.39,443.96 436.92,442.36 437.45,440.68 437.97,438.94 438.50,437.13 439.03,435.26 439.55,433.33 440.08,431.35 440.61,429.32 441.13,427.25 441.66,425.15 442.19,423.01 442.71,420.83 443.24,418.63 443.77,416.40 444.29,414.15 444.82,411.87 445.35,409.56 445.87,407.22 446.40,404.86 446.93,402.46 447.46,400.04 447.98,397.57 448.51,395.07 449.04,392.54 449.56,389.96 450.09,387.34 450.62,384.68 451.14,381.99 451.67,379.26 452.20,376.50 452.72,373.71 453.25,370.92 453.78,368.12 454.30,365.33 454.83,362.57 455.36,359.84 455.88,357.18 456.41,354.60 456.94,352.13 457.46,349.78 457.99,347.59 458.52,345.56 459.04,343.74 459.57,342.14 460.10,340.77 460.62,339.66 461.15,338.83 461.68,338.27 462.20,338.01 462.73,338.07 463.26,338.42 463.78,339.06 464.31,339.98 464.84,341.16 465.36,342.60 465.89,344.27 466.42,346.15 466.94,348.22 467.47,350.46 468.00,352.84 468.52,355.34 469.05,357.94 469.58,360.61 470.11,363.34 470.63,366.10 471.16,368.88 471.69,371.67 472.21,374.45 472.74,377.22 473.27,379.96 473.79,382.67 474.32,385.35 474.85,387.99 475.37,390.59 475.90,393.15 476.43,395.67 476.95,398.16 477.48,400.61 478.01,403.03 478.53,405.41 479.06,407.77 479.59,410.10 480.11,412.40 480.64,414.68 481.17,416.94 481.69,419.16 482.22,421.36 482.75,423.53 483.27,425.67 483.80,427.78 484.33,429.84 484.85,431.86 485.38,433.84 485.91,435.76 486.43,437.62 486.96,439.42 487.49,441.15 488.01,442.81 488.54,444.40 489.07,445.90 489.60,447.32 490.12,448.66 490.65,449.91 491.18,451.08 491.70,452.16 492.23,453.16 492.76,454.07 493.28,454.90 493.81,455.65 494.34,456.33 494.86,456.93 495.39,457.47 495.92,457.94 496.44,458.35 496.97,458.70 497.50,459.00 498.02,459.24 498.55,459.43 499.08,459.58 499.60,459.68 500.13,459.74 500.66,459.76 501.18,459.73 501.71,459.65 502.24,459.54 502.76,459.37 503.29,459.16 503.82,458.90 504.34,458.59 504.87,458.22 505.40,457.79 505.92,457.30 506.45,456.74 506.98,456.11 507.50,455.41 508.03,454.63 508.56,453.77 509.08,452.83 509.61,451.81 510.14,450.70 510.66,449.50 511.19,448.22 511.72,446.86 512.25,445.40 512.77,443.87 513.30,442.26 513.83,440.58 514.35,438.82 514.88,437.00 515.41,435.12 515.93,433.18 516.46,431.19 516.99,429.15 517.51,427.07 518.04,424.96 518.57,422.81 519.09,420.63 519.62,418.42 520.15,416.18 520.67,413.92 521.20,411.63" fill="none" stroke="#2f9f2f" stroke-width="1.20" stroke-dasharray="3.4,1.4"/>
<path d="M37.80,459.76 38.33,459.73 38.85,459.67 39.38,459.55 39.91,459.39 40.43,459.18 40.96,458.92 41.49,458.61 42.01,458.24 42.54,457.81 43.07,457.31 43.59,456.75 44.12,456.11 44.65,455.40 45.17,454.61 45.70,453.74 46.23,452.78 46.75,451.74 47.28,450.61 47.81,449.39 48.33,448.09 48.86,446.69 49.39,445.21 49.92,443.64 50.44,442.00 50.97,440.27 51.50,438.47 52.02,436.60 52.55,434.67 53.08,432.68 53.60,430.64 54.13,428.54 54.66,426.41 55.18,424.23 55.71,422.02 56.24,419.77 56.76,417.50 57.29,415.20 57.82,412.87 58.34,410.52 58.87,408.13 59.40,405.73 59.92,403.29 60.45,400.82 60.98,398.32 61.50,395.79 62.03,393.22 62.56,390.61 63.08,387.96 63.61,385.27 64.14,382.55 64.66,379.78 65.19,376.98 65.72,374.14 66.24,371.29 66.77,368.41 67.30,365.54 67.82,362.67 68.35,359.82 68.88,357.02 69.41,354.27 69.93,351.61 70.46,349.05 70.99,346.62 71.51,344.34 72.04,342.23 72.57,340.33 73.09,338.64 73.62,337.20 74.15,336.03 74.67,335.13 75.20,334.51 75.73,334.20 76.25,334.20 76.78,334.51 77.31,335.12 77.83,336.01 78.36,337.19 78.89,338.63 79.41,340.31 79.94,342.21 80.47,344.32 80.99,346.60 81.52,349.04 82.05,351.60 82.57,354.27 83.10,357.02 83.63,359.82 84.15,362.67 84.68,365.55 85.21,368.43 85.73,371.31 86.26,374.17 86.79,377.01 87.31,379.82 87.84,382.59 88.37,385.32 88.89,388.01 89.42,390.67 89.95,393.28 90.47,395.85 91.00,398.38 91.53,400.88 92.06,403.35 92.58,405.79 93.11,408.19 93.64,410.57 94.16,412.92 94.69,415.25 95.22,417.55 95.74,419.82 96.27,422.06 96.80,424.27 97.32,426.44 97.85,428.57 98.38,430.66 98.90,432.70 99.43,434.69 99.96,436.62 100.48,438.48 101.01,440.28 101.54,442.00 102.06,443.64 102.59,445.21 103.12,446.68 103.64,448.08 104.17,449.38 104.70,450.60 105.22,451.73 105.75,452.77 106.28,453.72 106.80,454.60 107.33,455.38 107.86,456.10 108.38,456.73 108.91,457.30 109.44,457.79 109.96,458.23 110.49,458.60 111.02,458.91 111.55,459.17 112.07,459.38 112.60,459.55 113.13,459.66 113.65,459.73 114.18,459.76 114.71,459.74 115.23,459.67 115.76,459.56 116.29,459.41 116.81,459.20 117.34,458.95 117.87,458.64 118.39,458.28 118.92,457.86 119.45,457.37 119.97,456.82 120.50,456.19 121.03,455.49 121.55,454.72 122.08,453.86 122.61,452.92 123.13,451.90 123.66,450.79 124.19,449.59 124.71,448.31 125.24,446.94 125.77,445.48 126.29,443.94 126.82,442.32 127.35,440.62 127.87,438.85 128.40,437.02 128.93,435.11 129.45,433.16 129.98,431.15 130.51,429.09 131.03,426.98 131.56,424.84 132.09,422.67 132.62,420.46 133.14,418.22 133.67,415.96 134.20,413.67 134.72,411.36 135.25,409.02 135.78,406.65 136.30,404.26 136.83,401.84 137.36,399.39 137.88,396.90 138.41,394.38 138.94,391.82 139.46,389.22 139.99,386.59 140.52,383.91 141.04,381.20 141.57,378.46 142.10,375.68 142.62,372.88 143.15,370.07 143.68,367.28 144.20,364.49 144.73,361.73 145.26,359.01 145.78,356.34 146.31,353.75 146.84,351.26 147.36,348.89 147.89,346.66 148.42,344.60 148.94,342.72 149.47,341.06 150.00,339.63 150.52,338.45 151.05,337.53 151.58,336.89 152.10,336.54 152.63,336.46 153.16,336.65 153.69,337.14 154.21,337.90 154.74,338.94 155.27,340.23 155.79,341.77 156.32,343.52 156.85,345.48 157.37,347.62 157.90,349.92 158.43,352.34 158.95,354.88 159.48,357.51 160.01,360.20 160.53,362.94 161.06,365.71 161.59,368.50 162.11,371.29 162.64,374.07 163.17,376.83 163.69,379.57 164.22,382.27 164.75,384.94 165.27,387.57 165.80,390.17 166.33,392.73 166.85,395.24 167.38,397.73 167.91,400.18 168.43,402.60 168.96,404.98 169.49,407.35 170.01,409.68 170.54,411.99 171.07,414.27 171.59,416.53 172.12,418.77 172.65,420.98 173.17,423.15 173.70,425.30 174.23,427.41 174.75,429.49 175.28,431.52 175.81,433.50 176.34,435.43 176.86,437.30 177.39,439.11 177.92,440.86 178.44,442.53 178.97,444.12 179.50,445.64 180.02,447.07 180.55,448.42 181.08,449.69 181.60,450.87 182.13,451.96 182.66,452.97 183.18,453.90 183.71,454.74 184.24,455.51 184.76,456.20 185.29,456.82 185.82,457.36 186.34,457.85 186.87,458.27 187.40,458.63 187.92,458.94 188.45,459.19 188.98,459.40 189.50,459.55 190.03,459.67 190.56,459.73 191.08,459.76 191.61,459.74 192.14,459.67 192.66,459.56 193.19,459.41 193.72,459.21 194.24,458.96 194.77,458.65 195.30,458.29 195.82,457.88 196.35,457.40 196.88,456.85 197.41,456.24 197.93,455.55 198.46,454.78 198.99,453.94 199.51,453.01 200.04,452.00 200.57,450.91 201.09,449.73 201.62,448.46 202.15,447.10 202.67,445.66 203.20,444.14 203.73,442.53 204.25,440.85 204.78,439.09 205.31,437.27 205.83,435.38 206.36,433.43 206.89,431.42 207.41,429.37 207.94,427.27 208.47,425.13 208.99,422.95 209.52,420.74 210.05,418.50 210.57,416.23 211.10,413.93 211.63,411.61 212.15,409.26 212.68,406.89 213.21,404.48 213.73,402.05 214.26,399.58 214.79,397.09 215.31,394.55 215.84,391.98 216.37,389.37 216.89,386.72 217.42,384.03 217.95,381.30 218.48,378.53 219.00,375.73 219.53,372.90 220.06,370.05 220.58,367.19 221.11,364.33 221.64,361.48 222.16,358.65 222.69,355.88 223.22,353.17 223.74,350.54 224.27,348.03 224.80,345.65 225.32,343.42 225.85,341.37 226.38,339.53 226.90,337.91 227.43,336.53 227.96,335.41 228.48,334.57 229.01,334.03 229.54,333.80 230.06,333.86 230.59,334.22 231.12,334.88 231.64,335.82 232.17,337.02 232.70,338.49 233.22,340.19 233.75,342.10 234.28,344.21 234.80,346.50 235.33,348.92 235.86,351.48 236.38,354.16 236.91,356.92 237.44,359.73 237.96,362.59 238.49,365.47 239.02,368.36 239.55,371.24 240.07,374.11 240.60,376.95 241.13,379.76 241.65,382.53 242.18,385.27 242.71,387.97 243.23,390.62 243.76,393.23 244.29,395.81 244.81,398.35 245.34,400.85 245.87,403.33 246.39,405.77 246.92,408.18 247.45,410.56 247.97,412.92 248.50,415.26" fill="none" stroke="#aa50dc" stroke-width="1.10" stroke-dasharray="2.2,1.4"/>
<path d="M310.50,337.23 311.03,338.04 311.55,339.13 312.08,340.49 312.61,342.09 313.13,343.91 313.66,345.93 314.19,348.14 314.71,350.50 315.24,353.00 315.77,355.60 316.29,358.29 316.82,361.04 317.35,363.84 317.87,366.67 318.40,369.50 318.93,372.34 319.45,375.16 319.98,377.96 320.51,380.73 321.04,383.47 321.56,386.17 322.09,388.83 322.62,391.44 323.14,394.02 323.67,396.56 324.20,399.05 324.72,401.52 325.25,403.95 325.78,406.34 326.30,408.71 326.83,411.05 327.36,413.36 327.88,415.64 328.41,417.90 328.94,420.13 329.46,422.33 329.99,424.50 330.52,426.64 331.04,428.73 331.57,430.79 332.10,432.79 332.62,434.75 333.15,436.65 333.68,438.49 334.20,440.26 334.73,441.96 335.26,443.59 335.78,445.14 336.31,446.60 336.84,447.99 337.36,449.28 337.89,450.50 338.42,451.62 338.94,452.66 339.47,453.61 340.00,454.49 340.52,455.28 341.05,455.99 341.58,456.63 342.11,457.20 342.63,457.71 343.16,458.14 343.69,458.52 344.21,458.85 344.74,459.12 345.27,459.34 345.79,459.51 346.32,459.63 346.85,459.71 347.37,459.75 347.90,459.75 348.43,459.70 348.95,459.61 349.48,459.47 350.01,459.29 350.53,459.06 351.06,458.78 351.59,458.45 352.11,458.06 352.64,457.61 353.17,457.10 353.69,456.52 354.22,455.87 354.75,455.14 355.27,454.34 355.80,453.47 356.33,452.51 356.85,451.46 357.38,450.34 357.91,449.13 358.43,447.84 358.96,446.46 359.49,445.00 360.01,443.47 360.54,441.86 361.07,440.19 361.59,438.44 362.12,436.64 362.65,434.77 363.18,432.86 363.70,430.90 364.23,428.90 364.76,426.86 365.28,424.78 365.81,422.68 366.34,420.55 366.86,418.39 367.39,416.21 367.92,414.00 368.44,411.78 368.97,409.52 369.50,407.25 370.02,404.94 370.55,402.61 371.08,400.25 371.60,397.86 372.13,395.43 372.66,392.97 373.18,390.47 373.71,387.93 374.24,385.36 374.76,382.75 375.29,380.12 375.82,377.47 376.34,374.79 376.87,372.11 377.40,369.44 377.92,366.78 378.45,364.16 378.98,361.59 379.50,359.09 380.03,356.68 380.56,354.38 381.08,352.21 381.61,350.21 382.14,348.38 382.66,346.76 383.19,345.36 383.72,344.20 384.25,343.29 384.77,342.65 385.30,342.29 385.83,342.21 386.35,342.35 386.88,342.77 387.41,343.46 387.93,344.42 388.46,345.63 388.99,347.08 389.51,348.75 390.04,350.62 390.57,352.66 391.09,354.85 391.62,357.18 392.15,359.61 392.67,362.13 393.20,364.72 393.73,367.35 394.25,370.02 394.78,372.70 395.31,375.38 395.83,378.05 396.36,380.71 396.89,383.34 397.41,385.94 397.94,388.51 398.47,391.04 398.99,393.53 399.52,395.99 400.05,398.41 400.57,400.80 401.10,403.15 401.63,405.48 402.15,407.78 402.68,410.05 403.21,412.29 403.73,414.51 404.26,416.71 404.79,418.89 405.31,421.04 405.84,423.16 406.37,425.26 406.90,427.32 407.42,429.35 407.95,431.34 408.48,433.29 409.00,435.19 409.53,437.04 410.06,438.83 410.58,440.55 411.11,442.21 411.64,443.80 412.16,445.32 412.69,446.76 413.22,448.11 413.74,449.39 414.27,450.58 414.80,451.68 415.32,452.71 415.85,453.65 416.38,454.51 416.90,455.29 417.43,456.00 417.96,456.63 418.48,457.20 419.01,457.70 419.54,458.14 420.06,458.51 420.59,458.84 421.12,459.11 421.64,459.33 422.17,459.50 422.70,459.63 423.22,459.71 423.75,459.75 424.28,459.75 424.80,459.70 425.33,459.62 425.86,459.48 426.38,459.31 426.91,459.08 427.44,458.80 427.97,458.47 428.49,458.09 429.02,457.64 429.55,457.13 430.07,456.55 430.60,455.91 431.13,455.19 431.65,454.39 432.18,453.51 432.71,452.55 433.23,451.50 433.76,450.37 434.29,449.16 434.81,447.86 435.34,446.47 435.87,445.00 436.39,443.46 436.92,441.83 437.45,440.13 437.97,438.37 438.50,436.54 439.03,434.65 439.55,432.70 440.08,430.71 440.61,428.67 441.13,426.59 441.66,424.47 442.19,422.32 442.71,420.13 443.24,417.92 443.77,415.69 444.29,413.42 444.82,411.13 445.35,408.82 445.87,406.47 446.40,404.10 446.93,401.69 447.46,399.26 447.98,396.78 448.51,394.27 449.04,391.72 449.56,389.13 450.09,386.50 450.62,383.83 451.14,381.12 451.67,378.38 452.20,375.61 452.72,372.83 453.25,370.03 453.78,367.23 454.30,364.45 454.83,361.70 455.36,358.99 455.88,356.35 456.41,353.81 456.94,351.37 457.46,349.07 457.99,346.93 458.52,344.97 459.04,343.21 459.57,341.68 460.10,340.40 460.62,339.37 461.15,338.63 461.68,338.16 462.20,337.99 462.73,338.15 463.26,338.59 463.78,339.32 464.31,340.33 464.84,341.60 465.36,343.11 465.89,344.85 466.42,346.79 466.94,348.92 467.47,351.21 468.00,353.63 468.52,356.16 469.05,358.78 469.58,361.48 470.11,364.22 470.63,366.99 471.16,369.77 471.69,372.56 472.21,375.34 472.74,378.10 473.27,380.83 473.79,383.53 474.32,386.20 474.85,388.83 475.37,391.41 475.90,393.96 476.43,396.47 476.95,398.95 477.48,401.39 478.01,403.79 478.53,406.17 479.06,408.52 479.59,410.84 480.11,413.14 480.64,415.41 481.17,417.65 481.69,419.87 482.22,422.06 482.75,424.22 483.27,426.35 483.80,428.44 484.33,430.49 484.85,432.50 485.38,434.46 485.91,436.36 486.43,438.20 486.96,439.98 487.49,441.69 488.01,443.33 488.54,444.89 489.07,446.37 489.60,447.76 490.12,449.07 490.65,450.30 491.18,451.44 491.70,452.49 492.23,453.46 492.76,454.34 493.28,455.15 493.81,455.88 494.34,456.53 494.86,457.11 495.39,457.63 495.92,458.08 496.44,458.47 496.97,458.80 497.50,459.08 498.02,459.31 498.55,459.49 499.08,459.62 499.60,459.71 500.13,459.75 500.66,459.75 501.18,459.71 501.71,459.62 502.24,459.49 502.76,459.31 503.29,459.09 503.82,458.81 504.34,458.48 504.87,458.09 505.40,457.64 505.92,457.13 506.45,456.55 506.98,455.89 507.50,455.17 508.03,454.37 508.56,453.48 509.08,452.51 509.61,451.46 510.14,450.33 510.66,449.10 511.19,447.79 511.72,446.40 512.25,444.92 512.77,443.37 513.30,441.73 513.83,440.02 514.35,438.25 514.88,436.41 515.41,434.50 515.93,432.55 516.46,430.54 516.99,428.49 517.51,426.40 518.04,424.27 518.57,422.11 519.09,419.92 519.62,417.70 520.15,415.46 520.67,413.19 521.20,410.90" fill="none" stroke="#aa50dc" stroke-width="1.10" stroke-dasharray="2.2,1.4"/>
</g>
<g clip-path="url(#c3)">
<path d="M34.85,613.16a2.95,2.95 0 1,0 5.90,0a2.95,2.95 0 1,0 -5.90,0M36.20,613.01a2.95,2.95 0 1,0 5.90,0a2.95,2.95 0 1,0 -5.90,0M37.55,612.56a2.95,2.95 0 1,0 5.90,0a2.95,2.95 0 1,0 -5.90,0M38.90,611.77a2.95,2.95 0 1,0 5.90,0a2.95,2.95 0 1,0 -5.90,0M40.24,610.59a2.95,2.95 0 1,0 5.90,0a2.95,2.95 0 1,0 -5.90,0M41.59,608.96a2.95,2.95 0 1,0 5.90,0a2.95,2.95 0 1,0 -5.90,0M42.94,606.82a2.95,2.95 0 1,0 5.90,0a2.95,2.95 0 1,0 -5.90,0M44.29,604.13a2.95,2.95 0 1,0 5.90,0a2.95,2.95 0 1,0 -5.90,0M45.64,600.87a2.95,2.95 0 1,0 5.90,0a2.95,2.95 0 1,0 -5.90,0M46.99,597.03a2.95,2.95 0 1,0 5.90,0a2.95,2.95 0 1,0 -5.90,0M48.33,592.66a2.95,2.95 0 1,0 5.90,0a2.95,2.95 0 1,0 -5.90,0M49.68,587.84a2.95,2.95 0 1,0 5.90,0a2.95,2.95 0 1,0 -5.90,0M51.03,582.63a2.95,2.95 0 1,0 5.90,0a2.95,2.95 0 1,0 -5.90,0M52.38,577.13a2.95,2.95 0 1,0 5.90,0a2.95,2.95 0 1,0 -5.90,0M53.73,571.39a2.95,2.95 0 1,0 5.90,0a2.95,2.95 0 1,0 -5.90,0M55.08,565.48a2.95,2.95 0 1,0 5.90,0a2.95,2.95 0 1,0 -5.90,0M56.43,559.39a2.95,2.95 0 1,0 5.90,0a2.95,2.95 0 1,0 -5.90,0M57.77,553.11a2.95,2.95 0 1,0 5.90,0a2.95,2.95 0 1,0 -5.90,0M59.12,546.62a2.95,2.95 0 1,0 5.90,0a2.95,2.95 0 1,0 -5.90,0M60.47,539.87a2.95,2.95 0 1,0 5.90,0a2.95,2.95 0 1,0 -5.90,0M61.82,532.87a2.95,2.95 0 1,0 5.90,0a2.95,2.95 0 1,0 -5.90,0M63.17,525.64a2.95,2.95 0 1,0 5.90,0a2.95,2.95 0 1,0 -5.90,0M64.52,518.31a2.95,2.95 0 1,0 5.90,0a2.95,2.95 0 1,0 -5.90,0M65.87,511.06a2.95,2.95 0 1,0 5.90,0a2.95,2.95 0 1,0 -5.90,0M67.21,504.20a2.95,2.95 0 1,0 5.90,0a2.95,2.95 0 1,0 -5.90,0M68.56,498.09a2.95,2.95 0 1,0 5.90,0a2.95,2.95 0 1,0 -5.90,0M69.91,493.12a2.95,2.95 0 1,0 5.90,0a2.95,2.95 0 1,0 -5.90,0M71.26,489.68a2.95,2.95 0 1,0 5.90,0a2.95,2.95 0 1,0 -5.90,0M72.61,488.05a2.95,2.95 0 1,0 5.90,0a2.95,2.95 0 1,0 -5.90,0M73.96,488.38a2.95,2.95 0 1,0 5.90,0a2.95,2.95 0 1,0 -5.90,0M75.30,490.64a2.95,2.95 0 1,0 5.90,0a2.95,2.95 0 1,0 -5.90,0M76.65,494.63a2.95,2.95 0 1,0 5.90,0a2.95,2.95 0 1,0 -5.90,0M78.00,500.03a2.95,2.95 0 1,0 5.90,0a2.95,2.95 0 1,0 -5.90,0M79.35,506.43a2.95,2.95 0 1,0 5.90,0a2.95,2.95 0 1,0 -5.90,0M80.70,513.46a2.95,2.95 0 1,0 5.90,0a2.95,2.95 0 1,0 -5.90,0M82.05,520.76a2.95,2.95 0 1,0 5.90,0a2.95,2.95 0 1,0 -5.90,0M83.40,528.08a2.95,2.95 0 1,0 5.90,0a2.95,2.95 0 1,0 -5.90,0M84.74,535.24a2.95,2.95 0 1,0 5.90,0a2.95,2.95 0 1,0 -5.90,0M86.09,542.16a2.95,2.95 0 1,0 5.90,0a2.95,2.95 0 1,0 -5.90,0M87.44,548.82a2.95,2.95 0 1,0 5.90,0a2.95,2.95 0 1,0 -5.90,0M88.79,555.23a2.95,2.95 0 1,0 5.90,0a2.95,2.95 0 1,0 -5.90,0M90.14,561.44a2.95,2.95 0 1,0 5.90,0a2.95,2.95 0 1,0 -5.90,0M91.49,567.47a2.95,2.95 0 1,0 5.90,0a2.95,2.95 0 1,0 -5.90,0M92.83,573.33a2.95,2.95 0 1,0 5.90,0a2.95,2.95 0 1,0 -5.90,0M94.18,578.99a2.95,2.95 0 1,0 5.90,0a2.95,2.95 0 1,0 -5.90,0M95.53,584.41a2.95,2.95 0 1,0 5.90,0a2.95,2.95 0 1,0 -5.90,0M96.88,589.50a2.95,2.95 0 1,0 5.90,0a2.95,2.95 0 1,0 -5.90,0M98.23,594.18a2.95,2.95 0 1,0 5.90,0a2.95,2.95 0 1,0 -5.90,0M99.58,598.37a2.95,2.95 0 1,0 5.90,0a2.95,2.95 0 1,0 -5.90,0M100.93,602.02a2.95,2.95 0 1,0 5.90,0a2.95,2.95 0 1,0 -5.90,0M102.27,605.10a2.95,2.95 0 1,0 5.90,0a2.95,2.95 0 1,0 -5.90,0M103.62,607.60a2.95,2.95 0 1,0 5.90,0a2.95,2.95 0 1,0 -5.90,0M104.97,609.56a2.95,2.95 0 1,0 5.90,0a2.95,2.95 0 1,0 -5.90,0M106.32,611.03a2.95,2.95 0 1,0 5.90,0a2.95,2.95 0 1,0 -5.90,0M107.67,612.07a2.95,2.95 0 1,0 5.90,0a2.95,2.95 0 1,0 -5.90,0M109.02,612.74a2.95,2.95 0 1,0 5.90,0a2.95,2.95 0 1,0 -5.90,0M110.36,613.09a2.95,2.95 0 1,0 5.90,0a2.95,2.95 0 1,0 -5.90,0M111.71,613.14a2.95,2.95 0 1,0 5.90,0a2.95,2.95 0 1,0 -5.90,0M113.06,612.89a2.95,2.95 0 1,0 5.90,0a2.95,2.95 0 1,0 -5.90,0M114.41,612.33a2.95,2.95 0 1,0 5.90,0a2.95,2.95 0 1,0 -5.90,0M115.76,611.42a2.95,2.95 0 1,0 5.90,0a2.95,2.95 0 1,0 -5.90,0M117.11,610.10a2.95,2.95 0 1,0 5.90,0a2.95,2.95 0 1,0 -5.90,0M118.46,608.31a2.95,2.95 0 1,0 5.90,0a2.95,2.95 0 1,0 -5.90,0M119.80,605.99a2.95,2.95 0 1,0 5.90,0a2.95,2.95 0 1,0 -5.90,0M121.15,603.11a2.95,2.95 0 1,0 5.90,0a2.95,2.95 0 1,0 -5.90,0M122.50,599.64a2.95,2.95 0 1,0 5.90,0a2.95,2.95 0 1,0 -5.90,0M123.85,595.63a2.95,2.95 0 1,0 5.90,0a2.95,2.95 0 1,0 -5.90,0M125.20,591.10a2.95,2.95 0 1,0 5.90,0a2.95,2.95 0 1,0 -5.90,0M126.55,586.13a2.95,2.95 0 1,0 5.90,0a2.95,2.95 0 1,0 -5.90,0M127.90,580.82a2.95,2.95 0 1,0 5.90,0a2.95,2.95 0 1,0 -5.90,0M129.24,575.23a2.95,2.95 0 1,0 5.90,0a2.95,2.95 0 1,0 -5.90,0M130.59,569.43a2.95,2.95 0 1,0 5.90,0a2.95,2.95 0 1,0 -5.90,0M131.94,563.46a2.95,2.95 0 1,0 5.90,0a2.95,2.95 0 1,0 -5.90,0M133.29,557.31a2.95,2.95 0 1,0 5.90,0a2.95,2.95 0 1,0 -5.90,0M134.64,550.97a2.95,2.95 0 1,0 5.90,0a2.95,2.95 0 1,0 -5.90,0M135.99,544.39a2.95,2.95 0 1,0 5.90,0a2.95,2.95 0 1,0 -5.90,0M137.33,537.56a2.95,2.95 0 1,0 5.90,0a2.95,2.95 0 1,0 -5.90,0M138.68,530.47a2.95,2.95 0 1,0 5.90,0a2.95,2.95 0 1,0 -5.90,0M140.03,523.19a2.95,2.95 0 1,0 5.90,0a2.95,2.95 0 1,0 -5.90,0M141.38,515.86a2.95,2.95 0 1,0 5.90,0a2.95,2.95 0 1,0 -5.90,0M142.73,508.71a2.95,2.95 0 1,0 5.90,0a2.95,2.95 0 1,0 -5.90,0M144.08,502.06a2.95,2.95 0 1,0 5.90,0a2.95,2.95 0 1,0 -5.90,0M145.43,496.28a2.95,2.95 0 1,0 5.90,0a2.95,2.95 0 1,0 -5.90,0M146.77,491.78a2.95,2.95 0 1,0 5.90,0a2.95,2.95 0 1,0 -5.90,0M148.12,488.92a2.95,2.95 0 1,0 5.90,0a2.95,2.95 0 1,0 -5.90,0M149.47,487.94a2.95,2.95 0 1,0 5.90,0a2.95,2.95 0 1,0 -5.90,0M150.82,488.93a2.95,2.95 0 1,0 5.90,0a2.95,2.95 0 1,0 -5.90,0M152.17,491.80a2.95,2.95 0 1,0 5.90,0a2.95,2.95 0 1,0 -5.90,0M153.52,496.30a2.95,2.95 0 1,0 5.90,0a2.95,2.95 0 1,0 -5.90,0M154.86,502.08a2.95,2.95 0 1,0 5.90,0a2.95,2.95 0 1,0 -5.90,0M156.21,508.73a2.95,2.95 0 1,0 5.90,0a2.95,2.95 0 1,0 -5.90,0M157.56,515.89a2.95,2.95 0 1,0 5.90,0a2.95,2.95 0 1,0 -5.90,0M158.91,523.22a2.95,2.95 0 1,0 5.90,0a2.95,2.95 0 1,0 -5.90,0M160.26,530.49a2.95,2.95 0 1,0 5.90,0a2.95,2.95 0 1,0 -5.90,0M161.61,537.58a2.95,2.95 0 1,0 5.90,0a2.95,2.95 0 1,0 -5.90,0M162.96,544.41a2.95,2.95 0 1,0 5.90,0a2.95,2.95 0 1,0 -5.90,0M164.30,550.99a2.95,2.95 0 1,0 5.90,0a2.95,2.95 0 1,0 -5.90,0M165.65,557.33a2.95,2.95 0 1,0 5.90,0a2.95,2.95 0 1,0 -5.90,0M167.00,563.48a2.95,2.95 0 1,0 5.90,0a2.95,2.95 0 1,0 -5.90,0M168.35,569.45a2.95,2.95 0 1,0 5.90,0a2.95,2.95 0 1,0 -5.90,0M169.70,575.25a2.95,2.95 0 1,0 5.90,0a2.95,2.95 0 1,0 -5.90,0M171.05,580.83a2.95,2.95 0 1,0 5.90,0a2.95,2.95 0 1,0 -5.90,0M172.39,586.15a2.95,2.95 0 1,0 5.90,0a2.95,2.95 0 1,0 -5.90,0M173.74,591.11a2.95,2.95 0 1,0 5.90,0a2.95,2.95 0 1,0 -5.90,0M175.09,595.64a2.95,2.95 0 1,0 5.90,0a2.95,2.95 0 1,0 -5.90,0M176.44,599.66a2.95,2.95 0 1,0 5.90,0a2.95,2.95 0 1,0 -5.90,0M177.79,603.12a2.95,2.95 0 1,0 5.90,0a2.95,2.95 0 1,0 -5.90,0M179.14,606.00a2.95,2.95 0 1,0 5.90,0a2.95,2.95 0 1,0 -5.90,0M180.49,608.31a2.95,2.95 0 1,0 5.90,0a2.95,2.95 0 1,0 -5.90,0M181.83,610.10a2.95,2.95 0 1,0 5.90,0a2.95,2.95 0 1,0 -5.90,0M183.18,611.42a2.95,2.95 0 1,0 5.90,0a2.95,2.95 0 1,0 -5.90,0M184.53,612.34a2.95,2.95 0 1,0 5.90,0a2.95,2.95 0 1,0 -5.90,0M185.88,612.89a2.95,2.95 0 1,0 5.90,0a2.95,2.95 0 1,0 -5.90,0M187.23,613.14a2.95,2.95 0 1,0 5.90,0a2.95,2.95 0 1,0 -5.90,0M188.58,613.09a2.95,2.95 0 1,0 5.90,0a2.95,2.95 0 1,0 -5.90,0M189.93,612.74a2.95,2.95 0 1,0 5.90,0a2.95,2.95 0 1,0 -5.90,0M191.27,612.07a2.95,2.95 0 1,0 5.90,0a2.95,2.95 0 1,0 -5.90,0M192.62,611.03a2.95,2.95 0 1,0 5.90,0a2.95,2.95 0 1,0 -5.90,0M193.97,609.55a2.95,2.95 0 1,0 5.90,0a2.95,2.95 0 1,0 -5.90,0M195.32,607.59a2.95,2.95 0 1,0 5.90,0a2.95,2.95 0 1,0 -5.90,0M196.67,605.09a2.95,2.95 0 1,0 5.90,0a2.95,2.95 0 1,0 -5.90,0M198.02,602.01a2.95,2.95 0 1,0 5.90,0a2.95,2.95 0 1,0 -5.90,0M199.36,598.36a2.95,2.95 0 1,0 5.90,0a2.95,2.95 0 1,0 -5.90,0M200.71,594.16a2.95,2.95 0 1,0 5.90,0a2.95,2.95 0 1,0 -5.90,0M202.06,589.48a2.95,2.95 0 1,0 5.90,0a2.95,2.95 0 1,0 -5.90,0M203.41,584.39a2.95,2.95 0 1,0 5.90,0a2.95,2.95 0 1,0 -5.90,0M204.76,578.98a2.95,2.95 0 1,0 5.90,0a2.95,2.95 0 1,0 -5.90,0M206.11,573.31a2.95,2.95 0 1,0 5.90,0a2.95,2.95 0 1,0 -5.90,0M207.46,567.46a2.95,2.95 0 1,0 5.90,0a2.95,2.95 0 1,0 -5.90,0M208.80,561.42a2.95,2.95 0 1,0 5.90,0a2.95,2.95 0 1,0 -5.90,0M210.15,555.21a2.95,2.95 0 1,0 5.90,0a2.95,2.95 0 1,0 -5.90,0M211.50,548.80a2.95,2.95 0 1,0 5.90,0a2.95,2.95 0 1,0 -5.90,0M212.85,542.14a2.95,2.95 0 1,0 5.90,0a2.95,2.95 0 1,0 -5.90,0M214.20,535.21a2.95,2.95 0 1,0 5.90,0a2.95,2.95 0 1,0 -5.90,0M215.55,528.05a2.95,2.95 0 1,0 5.90,0a2.95,2.95 0 1,0 -5.90,0M216.89,520.74a2.95,2.95 0 1,0 5.90,0a2.95,2.95 0 1,0 -5.90,0M218.24,513.44a2.95,2.95 0 1,0 5.90,0a2.95,2.95 0 1,0 -5.90,0M219.59,506.41a2.95,2.95 0 1,0 5.90,0a2.95,2.95 0 1,0 -5.90,0M220.94,500.01a2.95,2.95 0 1,0 5.90,0a2.95,2.95 0 1,0 -5.90,0M222.29,494.62a2.95,2.95 0 1,0 5.90,0a2.95,2.95 0 1,0 -5.90,0M223.64,490.63a2.95,2.95 0 1,0 5.90,0a2.95,2.95 0 1,0 -5.90,0M224.99,488.38a2.95,2.95 0 1,0 5.90,0a2.95,2.95 0 1,0 -5.90,0M226.33,488.05a2.95,2.95 0 1,0 5.90,0a2.95,2.95 0 1,0 -5.90,0M227.68,489.69a2.95,2.95 0 1,0 5.90,0a2.95,2.95 0 1,0 -5.90,0M229.03,493.14a2.95,2.95 0 1,0 5.90,0a2.95,2.95 0 1,0 -5.90,0M230.38,498.11a2.95,2.95 0 1,0 5.90,0a2.95,2.95 0 1,0 -5.90,0M231.73,504.22a2.95,2.95 0 1,0 5.90,0a2.95,2.95 0 1,0 -5.90,0M233.08,511.09a2.95,2.95 0 1,0 5.90,0a2.95,2.95 0 1,0 -5.90,0M234.43,518.33a2.95,2.95 0 1,0 5.90,0a2.95,2.95 0 1,0 -5.90,0M235.77,525.66a2.95,2.95 0 1,0 5.90,0a2.95,2.95 0 1,0 -5.90,0M237.12,532.89a2.95,2.95 0 1,0 5.90,0a2.95,2.95 0 1,0 -5.90,0M238.47,539.89a2.95,2.95 0 1,0 5.90,0a2.95,2.95 0 1,0 -5.90,0M239.82,546.64a2.95,2.95 0 1,0 5.90,0a2.95,2.95 0 1,0 -5.90,0M241.17,553.13a2.95,2.95 0 1,0 5.90,0a2.95,2.95 0 1,0 -5.90,0M242.52,559.41a2.95,2.95 0 1,0 5.90,0a2.95,2.95 0 1,0 -5.90,0M243.86,565.50a2.95,2.95 0 1,0 5.90,0a2.95,2.95 0 1,0 -5.90,0M245.21,571.41a2.95,2.95 0 1,0 5.90,0a2.95,2.95 0 1,0 -5.90,0" fill="none" stroke="#ff4a4a" stroke-width="0.85" opacity="0.8"/>
<path d="M308.22,489.70a2.95,2.95 0 1,0 5.90,0a2.95,2.95 0 1,0 -5.90,0M309.57,493.15a2.95,2.95 0 1,0 5.90,0a2.95,2.95 0 1,0 -5.90,0M310.92,498.12a2.95,2.95 0 1,0 5.90,0a2.95,2.95 0 1,0 -5.90,0M312.27,504.24a2.95,2.95 0 1,0 5.90,0a2.95,2.95 0 1,0 -5.90,0M313.62,511.11a2.95,2.95 0 1,0 5.90,0a2.95,2.95 0 1,0 -5.90,0M314.97,518.35a2.95,2.95 0 1,0 5.90,0a2.95,2.95 0 1,0 -5.90,0M316.32,525.69a2.95,2.95 0 1,0 5.90,0a2.95,2.95 0 1,0 -5.90,0M317.66,532.91a2.95,2.95 0 1,0 5.90,0a2.95,2.95 0 1,0 -5.90,0M319.01,539.91a2.95,2.95 0 1,0 5.90,0a2.95,2.95 0 1,0 -5.90,0M320.36,546.66a2.95,2.95 0 1,0 5.90,0a2.95,2.95 0 1,0 -5.90,0M321.71,553.15a2.95,2.95 0 1,0 5.90,0a2.95,2.95 0 1,0 -5.90,0M323.06,559.43a2.95,2.95 0 1,0 5.90,0a2.95,2.95 0 1,0 -5.90,0M324.41,565.51a2.95,2.95 0 1,0 5.90,0a2.95,2.95 0 1,0 -5.90,0M325.75,571.43a2.95,2.95 0 1,0 5.90,0a2.95,2.95 0 1,0 -5.90,0M327.10,577.16a2.95,2.95 0 1,0 5.90,0a2.95,2.95 0 1,0 -5.90,0M328.45,582.66a2.95,2.95 0 1,0 5.90,0a2.95,2.95 0 1,0 -5.90,0M329.80,587.87a2.95,2.95 0 1,0 5.90,0a2.95,2.95 0 1,0 -5.90,0M331.15,592.69a2.95,2.95 0 1,0 5.90,0a2.95,2.95 0 1,0 -5.90,0M332.50,597.05a2.95,2.95 0 1,0 5.90,0a2.95,2.95 0 1,0 -5.90,0M333.85,600.89a2.95,2.95 0 1,0 5.90,0a2.95,2.95 0 1,0 -5.90,0M335.19,604.15a2.95,2.95 0 1,0 5.90,0a2.95,2.95 0 1,0 -5.90,0M336.54,606.84a2.95,2.95 0 1,0 5.90,0a2.95,2.95 0 1,0 -5.90,0M337.89,608.97a2.95,2.95 0 1,0 5.90,0a2.95,2.95 0 1,0 -5.90,0M339.24,610.60a2.95,2.95 0 1,0 5.90,0a2.95,2.95 0 1,0 -5.90,0M340.59,611.77a2.95,2.95 0 1,0 5.90,0a2.95,2.95 0 1,0 -5.90,0M341.94,612.56a2.95,2.95 0 1,0 5.90,0a2.95,2.95 0 1,0 -5.90,0M343.28,613.01a2.95,2.95 0 1,0 5.90,0a2.95,2.95 0 1,0 -5.90,0M344.63,613.16a2.95,2.95 0 1,0 5.90,0a2.95,2.95 0 1,0 -5.90,0M345.98,613.01a2.95,2.95 0 1,0 5.90,0a2.95,2.95 0 1,0 -5.90,0M347.33,612.55a2.95,2.95 0 1,0 5.90,0a2.95,2.95 0 1,0 -5.90,0M348.68,611.76a2.95,2.95 0 1,0 5.90,0a2.95,2.95 0 1,0 -5.90,0M350.03,610.58a2.95,2.95 0 1,0 5.90,0a2.95,2.95 0 1,0 -5.90,0M351.38,608.95a2.95,2.95 0 1,0 5.90,0a2.95,2.95 0 1,0 -5.90,0M352.72,606.81a2.95,2.95 0 1,0 5.90,0a2.95,2.95 0 1,0 -5.90,0M354.07,604.11a2.95,2.95 0 1,0 5.90,0a2.95,2.95 0 1,0 -5.90,0M355.42,600.84a2.95,2.95 0 1,0 5.90,0a2.95,2.95 0 1,0 -5.90,0M356.77,597.00a2.95,2.95 0 1,0 5.90,0a2.95,2.95 0 1,0 -5.90,0M358.12,592.63a2.95,2.95 0 1,0 5.90,0a2.95,2.95 0 1,0 -5.90,0M359.47,587.80a2.95,2.95 0 1,0 5.90,0a2.95,2.95 0 1,0 -5.90,0M360.81,582.60a2.95,2.95 0 1,0 5.90,0a2.95,2.95 0 1,0 -5.90,0M362.16,577.09a2.95,2.95 0 1,0 5.90,0a2.95,2.95 0 1,0 -5.90,0M363.51,571.36a2.95,2.95 0 1,0 5.90,0a2.95,2.95 0 1,0 -5.90,0M364.86,565.44a2.95,2.95 0 1,0 5.90,0a2.95,2.95 0 1,0 -5.90,0M366.21,559.35a2.95,2.95 0 1,0 5.90,0a2.95,2.95 0 1,0 -5.90,0M367.56,553.07a2.95,2.95 0 1,0 5.90,0a2.95,2.95 0 1,0 -5.90,0M368.91,546.58a2.95,2.95 0 1,0 5.90,0a2.95,2.95 0 1,0 -5.90,0M370.25,539.83a2.95,2.95 0 1,0 5.90,0a2.95,2.95 0 1,0 -5.90,0M371.60,532.82a2.95,2.95 0 1,0 5.90,0a2.95,2.95 0 1,0 -5.90,0M372.95,525.60a2.95,2.95 0 1,0 5.90,0a2.95,2.95 0 1,0 -5.90,0M374.30,518.26a2.95,2.95 0 1,0 5.90,0a2.95,2.95 0 1,0 -5.90,0M375.65,511.02a2.95,2.95 0 1,0 5.90,0a2.95,2.95 0 1,0 -5.90,0M377.00,504.16a2.95,2.95 0 1,0 5.90,0a2.95,2.95 0 1,0 -5.90,0M378.35,498.05a2.95,2.95 0 1,0 5.90,0a2.95,2.95 0 1,0 -5.90,0M379.69,493.10a2.95,2.95 0 1,0 5.90,0a2.95,2.95 0 1,0 -5.90,0M381.04,489.66a2.95,2.95 0 1,0 5.90,0a2.95,2.95 0 1,0 -5.90,0M382.39,488.05a2.95,2.95 0 1,0 5.90,0a2.95,2.95 0 1,0 -5.90,0M383.74,488.39a2.95,2.95 0 1,0 5.90,0a2.95,2.95 0 1,0 -5.90,0M385.09,490.66a2.95,2.95 0 1,0 5.90,0a2.95,2.95 0 1,0 -5.90,0M386.44,494.66a2.95,2.95 0 1,0 5.90,0a2.95,2.95 0 1,0 -5.90,0M387.78,500.06a2.95,2.95 0 1,0 5.90,0a2.95,2.95 0 1,0 -5.90,0M389.13,506.48a2.95,2.95 0 1,0 5.90,0a2.95,2.95 0 1,0 -5.90,0M390.48,513.51a2.95,2.95 0 1,0 5.90,0a2.95,2.95 0 1,0 -5.90,0M391.83,520.81a2.95,2.95 0 1,0 5.90,0a2.95,2.95 0 1,0 -5.90,0M393.18,528.12a2.95,2.95 0 1,0 5.90,0a2.95,2.95 0 1,0 -5.90,0M394.53,535.28a2.95,2.95 0 1,0 5.90,0a2.95,2.95 0 1,0 -5.90,0M395.88,542.20a2.95,2.95 0 1,0 5.90,0a2.95,2.95 0 1,0 -5.90,0M397.22,548.86a2.95,2.95 0 1,0 5.90,0a2.95,2.95 0 1,0 -5.90,0M398.57,555.27a2.95,2.95 0 1,0 5.90,0a2.95,2.95 0 1,0 -5.90,0M399.92,561.48a2.95,2.95 0 1,0 5.90,0a2.95,2.95 0 1,0 -5.90,0M401.27,567.51a2.95,2.95 0 1,0 5.90,0a2.95,2.95 0 1,0 -5.90,0M402.62,573.37a2.95,2.95 0 1,0 5.90,0a2.95,2.95 0 1,0 -5.90,0M403.97,579.03a2.95,2.95 0 1,0 5.90,0a2.95,2.95 0 1,0 -5.90,0M405.31,584.44a2.95,2.95 0 1,0 5.90,0a2.95,2.95 0 1,0 -5.90,0M406.66,589.53a2.95,2.95 0 1,0 5.90,0a2.95,2.95 0 1,0 -5.90,0M408.01,594.21a2.95,2.95 0 1,0 5.90,0a2.95,2.95 0 1,0 -5.90,0M409.36,598.40a2.95,2.95 0 1,0 5.90,0a2.95,2.95 0 1,0 -5.90,0M410.71,602.04a2.95,2.95 0 1,0 5.90,0a2.95,2.95 0 1,0 -5.90,0M412.06,605.11a2.95,2.95 0 1,0 5.90,0a2.95,2.95 0 1,0 -5.90,0M413.41,607.61a2.95,2.95 0 1,0 5.90,0a2.95,2.95 0 1,0 -5.90,0M414.75,609.57a2.95,2.95 0 1,0 5.90,0a2.95,2.95 0 1,0 -5.90,0M416.10,611.04a2.95,2.95 0 1,0 5.90,0a2.95,2.95 0 1,0 -5.90,0M417.45,612.08a2.95,2.95 0 1,0 5.90,0a2.95,2.95 0 1,0 -5.90,0M418.80,612.75a2.95,2.95 0 1,0 5.90,0a2.95,2.95 0 1,0 -5.90,0M420.15,613.09a2.95,2.95 0 1,0 5.90,0a2.95,2.95 0 1,0 -5.90,0M421.50,613.14a2.95,2.95 0 1,0 5.90,0a2.95,2.95 0 1,0 -5.90,0M422.85,612.89a2.95,2.95 0 1,0 5.90,0a2.95,2.95 0 1,0 -5.90,0M424.19,612.33a2.95,2.95 0 1,0 5.90,0a2.95,2.95 0 1,0 -5.90,0M425.54,611.41a2.95,2.95 0 1,0 5.90,0a2.95,2.95 0 1,0 -5.90,0M426.89,610.09a2.95,2.95 0 1,0 5.90,0a2.95,2.95 0 1,0 -5.90,0M428.24,608.29a2.95,2.95 0 1,0 5.90,0a2.95,2.95 0 1,0 -5.90,0M429.59,605.97a2.95,2.95 0 1,0 5.90,0a2.95,2.95 0 1,0 -5.90,0M430.94,603.09a2.95,2.95 0 1,0 5.90,0a2.95,2.95 0 1,0 -5.90,0M432.28,599.62a2.95,2.95 0 1,0 5.90,0a2.95,2.95 0 1,0 -5.90,0M433.63,595.60a2.95,2.95 0 1,0 5.90,0a2.95,2.95 0 1,0 -5.90,0M434.98,591.07a2.95,2.95 0 1,0 5.90,0a2.95,2.95 0 1,0 -5.90,0M436.33,586.10a2.95,2.95 0 1,0 5.90,0a2.95,2.95 0 1,0 -5.90,0M437.68,580.78a2.95,2.95 0 1,0 5.90,0a2.95,2.95 0 1,0 -5.90,0M439.03,575.20a2.95,2.95 0 1,0 5.90,0a2.95,2.95 0 1,0 -5.90,0M440.38,569.40a2.95,2.95 0 1,0 5.90,0a2.95,2.95 0 1,0 -5.90,0M441.72,563.42a2.95,2.95 0 1,0 5.90,0a2.95,2.95 0 1,0 -5.90,0M443.07,557.27a2.95,2.95 0 1,0 5.90,0a2.95,2.95 0 1,0 -5.90,0M444.42,550.93a2.95,2.95 0 1,0 5.90,0a2.95,2.95 0 1,0 -5.90,0M445.77,544.35a2.95,2.95 0 1,0 5.90,0a2.95,2.95 0 1,0 -5.90,0M447.12,537.51a2.95,2.95 0 1,0 5.90,0a2.95,2.95 0 1,0 -5.90,0M448.47,530.43a2.95,2.95 0 1,0 5.90,0a2.95,2.95 0 1,0 -5.90,0M449.81,523.15a2.95,2.95 0 1,0 5.90,0a2.95,2.95 0 1,0 -5.90,0M451.16,515.82a2.95,2.95 0 1,0 5.90,0a2.95,2.95 0 1,0 -5.90,0M452.51,508.67a2.95,2.95 0 1,0 5.90,0a2.95,2.95 0 1,0 -5.90,0M453.86,502.02a2.95,2.95 0 1,0 5.90,0a2.95,2.95 0 1,0 -5.90,0M455.21,496.25a2.95,2.95 0 1,0 5.90,0a2.95,2.95 0 1,0 -5.90,0M456.56,491.76a2.95,2.95 0 1,0 5.90,0a2.95,2.95 0 1,0 -5.90,0M457.91,488.91a2.95,2.95 0 1,0 5.90,0a2.95,2.95 0 1,0 -5.90,0M459.25,487.94a2.95,2.95 0 1,0 5.90,0a2.95,2.95 0 1,0 -5.90,0M460.60,488.94a2.95,2.95 0 1,0 5.90,0a2.95,2.95 0 1,0 -5.90,0M461.95,491.82a2.95,2.95 0 1,0 5.90,0a2.95,2.95 0 1,0 -5.90,0M463.30,496.33a2.95,2.95 0 1,0 5.90,0a2.95,2.95 0 1,0 -5.90,0M464.65,502.11a2.95,2.95 0 1,0 5.90,0a2.95,2.95 0 1,0 -5.90,0M466.00,508.78a2.95,2.95 0 1,0 5.90,0a2.95,2.95 0 1,0 -5.90,0M467.34,515.93a2.95,2.95 0 1,0 5.90,0a2.95,2.95 0 1,0 -5.90,0M468.69,523.26a2.95,2.95 0 1,0 5.90,0a2.95,2.95 0 1,0 -5.90,0M470.04,530.54a2.95,2.95 0 1,0 5.90,0a2.95,2.95 0 1,0 -5.90,0M471.39,537.62a2.95,2.95 0 1,0 5.90,0a2.95,2.95 0 1,0 -5.90,0M472.74,544.45a2.95,2.95 0 1,0 5.90,0a2.95,2.95 0 1,0 -5.90,0M474.09,551.03a2.95,2.95 0 1,0 5.90,0a2.95,2.95 0 1,0 -5.90,0M475.44,557.37a2.95,2.95 0 1,0 5.90,0a2.95,2.95 0 1,0 -5.90,0M476.78,563.52a2.95,2.95 0 1,0 5.90,0a2.95,2.95 0 1,0 -5.90,0M478.13,569.49a2.95,2.95 0 1,0 5.90,0a2.95,2.95 0 1,0 -5.90,0M479.48,575.29a2.95,2.95 0 1,0 5.90,0a2.95,2.95 0 1,0 -5.90,0M480.83,580.87a2.95,2.95 0 1,0 5.90,0a2.95,2.95 0 1,0 -5.90,0M482.18,586.18a2.95,2.95 0 1,0 5.90,0a2.95,2.95 0 1,0 -5.90,0M483.53,591.14a2.95,2.95 0 1,0 5.90,0a2.95,2.95 0 1,0 -5.90,0M484.88,595.67a2.95,2.95 0 1,0 5.90,0a2.95,2.95 0 1,0 -5.90,0M486.22,599.68a2.95,2.95 0 1,0 5.90,0a2.95,2.95 0 1,0 -5.90,0M487.57,603.14a2.95,2.95 0 1,0 5.90,0a2.95,2.95 0 1,0 -5.90,0M488.92,606.01a2.95,2.95 0 1,0 5.90,0a2.95,2.95 0 1,0 -5.90,0M490.27,608.32a2.95,2.95 0 1,0 5.90,0a2.95,2.95 0 1,0 -5.90,0M491.62,610.11a2.95,2.95 0 1,0 5.90,0a2.95,2.95 0 1,0 -5.90,0M492.97,611.43a2.95,2.95 0 1,0 5.90,0a2.95,2.95 0 1,0 -5.90,0M494.31,612.34a2.95,2.95 0 1,0 5.90,0a2.95,2.95 0 1,0 -5.90,0M495.66,612.90a2.95,2.95 0 1,0 5.90,0a2.95,2.95 0 1,0 -5.90,0M497.01,613.14a2.95,2.95 0 1,0 5.90,0a2.95,2.95 0 1,0 -5.90,0M498.36,613.09a2.95,2.95 0 1,0 5.90,0a2.95,2.95 0 1,0 -5.90,0M499.71,612.74a2.95,2.95 0 1,0 5.90,0a2.95,2.95 0 1,0 -5.90,0M501.06,612.06a2.95,2.95 0 1,0 5.90,0a2.95,2.95 0 1,0 -5.90,0M502.41,611.02a2.95,2.95 0 1,0 5.90,0a2.95,2.95 0 1,0 -5.90,0M503.75,609.54a2.95,2.95 0 1,0 5.90,0a2.95,2.95 0 1,0 -5.90,0M505.10,607.58a2.95,2.95 0 1,0 5.90,0a2.95,2.95 0 1,0 -5.90,0M506.45,605.07a2.95,2.95 0 1,0 5.90,0a2.95,2.95 0 1,0 -5.90,0M507.80,601.99a2.95,2.95 0 1,0 5.90,0a2.95,2.95 0 1,0 -5.90,0M509.15,598.34a2.95,2.95 0 1,0 5.90,0a2.95,2.95 0 1,0 -5.90,0M510.50,594.14a2.95,2.95 0 1,0 5.90,0a2.95,2.95 0 1,0 -5.90,0M511.84,589.45a2.95,2.95 0 1,0 5.90,0a2.95,2.95 0 1,0 -5.90,0M513.19,584.36a2.95,2.95 0 1,0 5.90,0a2.95,2.95 0 1,0 -5.90,0M514.54,578.94a2.95,2.95 0 1,0 5.90,0a2.95,2.95 0 1,0 -5.90,0M515.89,573.28a2.95,2.95 0 1,0 5.90,0a2.95,2.95 0 1,0 -5.90,0M517.24,567.42a2.95,2.95 0 1,0 5.90,0a2.95,2.95 0 1,0 -5.90,0M518.59,561.39a2.95,2.95 0 1,0 5.90,0a2.95,2.95 0 1,0 -5.90,0M519.94,555.17a2.95,2.95 0 1,0 5.90,0a2.95,2.95 0 1,0 -5.90,0M521.28,548.75a2.95,2.95 0 1,0 5.90,0a2.95,2.95 0 1,0 -5.90,0" fill="none" stroke="#ff4a4a" stroke-width="0.85" opacity="0.8"/>
<path d="M37.80,613.31 38.33,613.29 38.85,613.21 39.38,613.09 39.91,612.92 40.43,612.69 40.96,612.41 41.49,612.08 42.01,611.68 42.54,611.22 43.07,610.69 43.59,610.08 44.12,609.41 44.65,608.65 45.17,607.81 45.70,606.88 46.23,605.86 46.75,604.76 47.28,603.55 47.81,602.25 48.33,600.86 48.86,599.37 49.39,597.79 49.92,596.11 50.44,594.34 50.97,592.49 51.50,590.55 52.02,588.54 52.55,586.45 53.08,584.29 53.60,582.06 54.13,579.78 54.66,577.45 55.18,575.07 55.71,572.64 56.24,570.18 56.76,567.68 57.29,565.15 57.82,562.59 58.34,560.00 58.87,557.38 59.40,554.73 59.92,552.06 60.45,549.35 60.98,546.61 61.50,543.84 62.03,541.03 62.56,538.19 63.08,535.30 63.61,532.37 64.14,529.40 64.66,526.39 65.19,523.33 65.72,520.23 66.24,517.10 66.77,513.93 67.30,510.73 67.82,507.53 68.35,504.31 68.88,501.11 69.41,497.93 69.93,494.80 70.46,491.72 70.99,488.74 71.51,485.86 72.04,483.11 72.57,480.52 73.09,478.12 73.62,475.92 74.15,473.95 74.67,472.24 75.20,470.81 75.73,469.66 76.25,468.83 76.78,468.31 77.31,468.12 77.83,468.25 78.36,468.71 78.89,469.49 79.41,470.57 79.94,471.96 80.47,473.62 80.99,475.54 81.52,477.70 82.05,480.06 82.57,482.62 83.10,485.34 83.63,488.20 84.15,491.17 84.68,494.23 85.21,497.35 85.73,500.52 86.26,503.72 86.79,506.94 87.31,510.15 87.84,513.34 88.37,516.51 88.89,519.66 89.42,522.76 89.95,525.83 90.47,528.85 91.00,531.83 91.53,534.77 92.06,537.66 92.58,540.51 93.11,543.33 93.64,546.10 94.16,548.85 94.69,551.56 95.22,554.24 95.74,556.89 96.27,559.52 96.80,562.11 97.32,564.68 97.85,567.22 98.38,569.72 98.90,572.19 99.43,574.63 99.96,577.02 100.48,579.36 101.01,581.65 101.54,583.88 102.06,586.05 102.59,588.16 103.12,590.19 103.64,592.14 104.17,594.01 104.70,595.79 105.22,597.49 105.75,599.09 106.28,600.59 106.80,602.01 107.33,603.32 107.86,604.54 108.38,605.67 108.91,606.70 109.44,607.64 109.96,608.50 110.49,609.27 111.02,609.96 111.55,610.58 112.07,611.12 112.60,611.60 113.13,612.01 113.65,612.36 114.18,612.65 114.71,612.88 115.23,613.06 115.76,613.19 116.29,613.28 116.81,613.31 117.34,613.29 117.87,613.23 118.39,613.12 118.92,612.95 119.45,612.74 119.97,612.47 120.50,612.14 121.03,611.76 121.55,611.31 122.08,610.79 122.61,610.20 123.13,609.54 123.66,608.79 124.19,607.97 124.71,607.06 125.24,606.06 125.77,604.97 126.29,603.78 126.82,602.50 127.35,601.12 127.87,599.65 128.40,598.09 128.93,596.43 129.45,594.68 129.98,592.84 130.51,590.91 131.03,588.91 131.56,586.84 132.09,584.69 132.62,582.48 133.14,580.21 133.67,577.88 134.20,575.51 134.72,573.09 135.25,570.64 135.78,568.14 136.30,565.62 136.83,563.06 137.36,560.48 137.88,557.86 138.41,555.22 138.94,552.55 139.46,549.85 139.99,547.12 140.52,544.35 141.04,541.55 141.57,538.71 142.10,535.84 142.62,532.92 143.15,529.95 143.68,526.94 144.20,523.89 144.73,520.80 145.26,517.67 145.78,514.51 146.31,511.32 146.84,508.12 147.36,504.90 147.89,501.70 148.42,498.51 148.94,495.37 149.47,492.28 150.00,489.28 150.52,486.38 151.05,483.61 151.58,480.99 152.10,478.54 152.63,476.31 153.16,474.30 153.69,472.54 154.21,471.05 154.74,469.85 155.27,468.96 155.79,468.38 156.32,468.13 156.85,468.20 157.37,468.60 157.90,469.32 158.43,470.35 158.95,471.68 159.48,473.29 160.01,475.17 160.53,477.28 161.06,479.61 161.59,482.14 162.11,484.83 162.64,487.66 163.17,490.61 163.69,493.66 164.22,496.77 164.75,499.94 165.27,503.13 165.80,506.34 166.33,509.56 166.85,512.75 167.38,515.93 167.91,519.08 168.43,522.19 168.96,525.27 169.49,528.30 170.01,531.28 170.54,534.23 171.07,537.13 171.59,539.99 172.12,542.81 172.65,545.60 173.17,548.35 173.70,551.06 174.23,553.75 174.75,556.41 175.28,559.04 175.81,561.64 176.34,564.21 176.86,566.75 177.39,569.27 177.92,571.74 178.44,574.18 178.97,576.58 179.50,578.93 180.02,581.23 180.55,583.48 181.08,585.66 181.60,587.78 182.13,589.82 182.66,591.79 183.18,593.67 183.71,595.47 184.24,597.18 184.76,598.80 185.29,600.32 185.82,601.75 186.34,603.09 186.87,604.32 187.40,605.47 187.92,606.52 188.45,607.48 188.98,608.35 189.50,609.14 190.03,609.84 190.56,610.47 191.08,611.03 191.61,611.52 192.14,611.94 192.66,612.30 193.19,612.60 193.72,612.84 194.24,613.03 194.77,613.17 195.30,613.26 195.82,613.31 196.35,613.30 196.88,613.24 197.41,613.14 197.93,612.99 198.46,612.78 198.99,612.52 199.51,612.21 200.04,611.83 200.57,611.39 201.09,610.89 201.62,610.31 202.15,609.66 202.67,608.94 203.20,608.13 203.73,607.23 204.25,606.25 204.78,605.17 205.31,604.01 205.83,602.74 206.36,601.38 206.89,599.93 207.41,598.38 207.94,596.74 208.47,595.00 208.99,593.18 209.52,591.27 210.05,589.29 210.57,587.22 211.10,585.09 211.63,582.89 212.15,580.63 212.68,578.31 213.21,575.95 213.73,573.54 214.26,571.09 214.79,568.61 215.31,566.09 215.84,563.54 216.37,560.95 216.89,558.35 217.42,555.71 217.95,553.04 218.48,550.35 219.00,547.62 219.53,544.86 220.06,542.07 220.58,539.24 221.11,536.37 221.64,533.46 222.16,530.50 222.69,527.50 223.22,524.46 223.74,521.38 224.27,518.25 224.80,515.10 225.32,511.91 225.85,508.71 226.38,505.50 226.90,502.29 227.43,499.10 227.96,495.94 228.48,492.85 229.01,489.83 229.54,486.90 230.06,484.10 230.59,481.45 231.12,478.98 231.64,476.70 232.17,474.65 232.70,472.84 233.22,471.30 233.75,470.05 234.28,469.10 234.80,468.46 235.33,468.15 235.86,468.16 236.38,468.50 236.91,469.16 237.44,470.14 237.96,471.42 238.49,472.98 239.02,474.80 239.55,476.88 240.07,479.17 240.60,481.66 241.13,484.32 241.65,487.13 242.18,490.06 242.71,493.09 243.23,496.20 243.76,499.35 244.29,502.54 244.81,505.75 245.34,508.97 245.87,512.17 246.39,515.35 246.92,518.50 247.45,521.62 247.97,524.70 248.50,527.74" fill="none" stroke="#7a7a7a" stroke-width="0.80"/>
<path d="M310.50,532.14 311.03,529.16 311.55,526.14 312.08,523.08 312.61,519.98 313.13,516.84 313.66,513.67 314.19,510.48 314.71,507.27 315.24,504.06 315.77,500.86 316.29,497.68 316.82,494.55 317.35,491.48 317.87,488.50 318.40,485.63 318.93,482.90 319.45,480.32 319.98,477.93 320.51,475.75 321.04,473.81 321.56,472.12 322.09,470.70 322.62,469.59 323.14,468.78 323.67,468.28 324.20,468.12 324.72,468.28 325.25,468.76 325.78,469.56 326.30,470.67 326.83,472.08 327.36,473.76 327.88,475.70 328.41,477.88 328.94,480.26 329.46,482.83 329.99,485.57 330.52,488.43 331.04,491.41 331.57,494.47 332.10,497.60 332.62,500.78 333.15,503.98 333.68,507.19 334.20,510.40 334.73,513.60 335.26,516.77 335.78,519.91 336.31,523.01 336.84,526.07 337.36,529.09 337.89,532.07 338.42,535.00 338.94,537.89 339.47,540.74 340.00,543.55 340.52,546.33 341.05,549.07 341.58,551.78 342.11,554.46 342.63,557.11 343.16,559.73 343.69,562.32 344.21,564.89 344.74,567.42 345.27,569.92 345.79,572.39 346.32,574.82 346.85,577.20 347.37,579.54 347.90,581.83 348.43,584.06 348.95,586.22 349.48,588.32 350.01,590.35 350.53,592.29 351.06,594.15 351.59,595.93 352.11,597.62 352.64,599.21 353.17,600.71 353.69,602.11 354.22,603.42 354.75,604.63 355.27,605.75 355.80,606.78 356.33,607.72 356.85,608.56 357.38,609.33 357.91,610.02 358.43,610.63 358.96,611.16 359.49,611.63 360.01,612.04 360.54,612.38 361.07,612.67 361.59,612.90 362.12,613.08 362.65,613.20 363.18,613.28 363.70,613.31 364.23,613.29 364.76,613.22 365.28,613.11 365.81,612.94 366.34,612.72 366.86,612.45 367.39,612.11 367.92,611.72 368.44,611.27 368.97,610.74 369.50,610.15 370.02,609.48 370.55,608.73 371.08,607.90 371.60,606.98 372.13,605.97 372.66,604.87 373.18,603.68 373.71,602.39 374.24,601.01 374.76,599.53 375.29,597.96 375.82,596.29 376.34,594.53 376.87,592.69 377.40,590.76 377.92,588.75 378.45,586.67 378.98,584.51 379.50,582.30 380.03,580.02 380.56,577.70 381.08,575.32 381.61,572.90 382.14,570.44 382.66,567.94 383.19,565.42 383.72,562.86 384.25,560.27 384.77,557.65 385.30,555.01 385.83,552.34 386.35,549.63 386.88,546.90 387.41,544.13 387.93,541.33 388.46,538.49 388.99,535.60 389.51,532.68 390.04,529.71 390.57,526.70 391.09,523.65 391.62,520.55 392.15,517.42 392.67,514.26 393.20,511.07 393.73,507.86 394.25,504.65 394.78,501.44 395.31,498.26 395.83,495.12 396.36,492.04 396.89,489.04 397.41,486.15 397.94,483.39 398.47,480.78 398.99,478.36 399.52,476.14 400.05,474.15 400.57,472.41 401.10,470.94 401.63,469.77 402.15,468.90 402.68,468.35 403.21,468.12 403.73,468.22 404.26,468.65 404.79,469.39 405.31,470.45 405.84,471.80 406.37,473.43 406.90,475.33 407.42,477.46 407.95,479.81 408.48,482.35 409.00,485.05 409.53,487.90 410.06,490.85 410.58,493.90 411.11,497.02 411.64,500.19 412.16,503.39 412.69,506.60 413.22,509.81 413.74,513.01 414.27,516.19 414.80,519.33 415.32,522.44 415.85,525.51 416.38,528.54 416.90,531.52 417.43,534.46 417.96,537.36 418.48,540.22 419.01,543.04 419.54,545.82 420.06,548.56 420.59,551.28 421.12,553.96 421.64,556.62 422.17,559.25 422.70,561.85 423.22,564.42 423.75,566.96 424.28,569.47 424.80,571.94 425.33,574.38 425.86,576.77 426.38,579.12 426.91,581.41 427.44,583.65 427.97,585.83 428.49,587.94 429.02,589.98 429.55,591.94 430.07,593.82 430.60,595.61 431.13,597.31 431.65,598.93 432.18,600.44 432.71,601.86 433.23,603.19 433.76,604.42 434.29,605.55 434.81,606.60 435.34,607.55 435.87,608.42 436.39,609.20 436.92,609.90 437.45,610.52 437.97,611.07 438.50,611.55 439.03,611.97 439.55,612.32 440.08,612.62 440.61,612.86 441.13,613.05 441.66,613.18 442.19,613.27 442.71,613.31 443.24,613.30 443.77,613.24 444.29,613.13 444.82,612.97 445.35,612.76 445.87,612.50 446.40,612.18 446.93,611.80 447.46,611.36 447.98,610.85 448.51,610.26 449.04,609.61 449.56,608.88 450.09,608.06 450.62,607.16 451.14,606.17 451.67,605.08 452.20,603.91 452.72,602.64 453.25,601.27 453.78,599.81 454.30,598.25 454.83,596.60 455.36,594.86 455.88,593.03 456.41,591.12 456.94,589.12 457.46,587.06 457.99,584.92 458.52,582.71 459.04,580.45 459.57,578.13 460.10,575.76 460.62,573.35 461.15,570.89 461.68,568.41 462.20,565.88 462.73,563.33 463.26,560.75 463.78,558.14 464.31,555.50 464.84,552.83 465.36,550.13 465.89,547.40 466.42,544.64 466.94,541.85 467.47,539.01 468.00,536.14 468.52,533.22 469.05,530.26 469.58,527.26 470.11,524.21 470.63,521.13 471.16,518.00 471.69,514.84 472.21,511.66 472.74,508.45 473.27,505.24 473.79,502.03 474.32,498.84 474.85,495.69 475.37,492.60 475.90,489.59 476.43,486.67 476.95,483.89 477.48,481.25 478.01,478.79 478.53,476.53 479.06,474.49 479.59,472.71 480.11,471.19 480.64,469.96 481.17,469.04 481.69,468.43 482.22,468.14 482.75,468.18 483.27,468.54 483.80,469.23 484.33,470.23 484.85,471.53 485.38,473.11 485.91,474.96 486.43,477.05 486.96,479.36 487.49,481.87 488.01,484.54 488.54,487.36 489.07,490.30 489.60,493.34 490.12,496.45 490.65,499.61 491.18,502.80 491.70,506.01 492.23,509.22 492.76,512.42 493.28,515.60 493.81,518.76 494.34,521.87 494.86,524.95 495.39,527.98 495.92,530.98 496.44,533.92 496.97,536.83 497.50,539.70 498.02,542.52 498.55,545.31 499.08,548.06 499.60,550.78 500.13,553.47 500.66,556.13 501.18,558.77 501.71,561.37 502.24,563.95 502.76,566.49 503.29,569.01 503.82,571.49 504.34,573.93 504.87,576.33 505.40,578.69 505.92,580.99 506.45,583.25 506.98,585.44 507.50,587.56 508.03,589.61 508.56,591.59 509.08,593.48 509.61,595.29 510.14,597.01 510.66,598.64 511.19,600.17 511.72,601.61 512.25,602.95 512.77,604.20 513.30,605.35 513.83,606.41 514.35,607.38 514.88,608.26 515.41,609.06 515.93,609.77 516.46,610.41 516.99,610.97 517.51,611.47 518.04,611.90 518.57,612.26 519.09,612.57 519.62,612.82 520.15,613.02 520.67,613.16 521.20,613.26" fill="none" stroke="#7a7a7a" stroke-width="0.80"/>
<path d="M37.80,613.16 38.33,613.13 38.85,613.07 39.38,612.96 39.91,612.80 40.43,612.59 40.96,612.33 41.49,612.02 42.01,611.65 42.54,611.22 43.07,610.73 43.59,610.17 44.12,609.54 44.65,608.84 45.17,608.06 45.70,607.19 46.23,606.25 46.75,605.22 47.28,604.10 47.81,602.89 48.33,601.59 48.86,600.21 49.39,598.74 49.92,597.19 50.44,595.56 50.97,593.85 51.50,592.07 52.02,590.22 52.55,588.30 53.08,586.33 53.60,584.30 54.13,582.23 54.66,580.11 55.18,577.96 55.71,575.76 56.24,573.54 56.76,571.29 57.29,569.01 57.82,566.70 58.34,564.37 58.87,562.01 59.40,559.62 59.92,557.21 60.45,554.76 60.98,552.29 61.50,549.78 62.03,547.23 62.56,544.65 63.08,542.02 63.61,539.36 64.14,536.65 64.66,533.91 65.19,531.13 65.72,528.33 66.24,525.50 66.77,522.65 67.30,519.80 67.82,516.96 68.35,514.14 68.88,511.36 69.41,508.64 69.93,506.00 70.46,503.46 70.99,501.05 71.51,498.79 72.04,496.71 72.57,494.82 73.09,493.15 73.62,491.73 74.15,490.56 74.67,489.67 75.20,489.06 75.73,488.75 76.25,488.75 76.78,489.06 77.31,489.66 77.83,490.55 78.36,491.71 78.89,493.14 79.41,494.80 79.94,496.69 80.47,498.78 80.99,501.04 81.52,503.45 82.05,505.99 82.57,508.63 83.10,511.36 83.63,514.14 84.15,516.97 84.68,519.81 85.21,522.67 85.73,525.52 86.26,528.36 86.79,531.17 87.31,533.95 87.84,536.70 88.37,539.41 88.89,542.07 89.42,544.70 89.95,547.29 90.47,549.84 91.00,552.35 91.53,554.83 92.06,557.27 92.58,559.68 93.11,562.07 93.64,564.42 94.16,566.76 94.69,569.06 95.22,571.34 95.74,573.59 96.27,575.81 96.80,577.99 97.32,580.15 97.85,582.26 98.38,584.33 98.90,586.35 99.43,588.32 99.96,590.23 100.48,592.08 101.01,593.86 101.54,595.56 102.06,597.19 102.59,598.74 103.12,600.21 103.64,601.59 104.17,602.88 104.70,604.08 105.22,605.20 105.75,606.23 106.28,607.18 106.80,608.04 107.33,608.82 107.86,609.53 108.38,610.16 108.91,610.72 109.44,611.21 109.96,611.64 110.49,612.01 111.02,612.32 111.55,612.58 112.07,612.79 112.60,612.95 113.13,613.06 113.65,613.13 114.18,613.16 114.71,613.14 115.23,613.07 115.76,612.97 116.29,612.81 116.81,612.61 117.34,612.36 117.87,612.05 118.39,611.69 118.92,611.27 119.45,610.79 119.97,610.24 120.50,609.62 121.03,608.93 121.55,608.17 122.08,607.32 122.61,606.39 123.13,605.37 123.66,604.27 124.19,603.09 124.71,601.81 125.24,600.46 125.77,599.01 126.29,597.49 126.82,595.88 127.35,594.20 127.87,592.45 128.40,590.63 128.93,588.74 129.45,586.80 129.98,584.81 130.51,582.77 131.03,580.69 131.56,578.57 132.09,576.41 132.62,574.22 133.14,572.01 133.67,569.77 134.20,567.50 134.72,565.21 135.25,562.89 135.78,560.55 136.30,558.18 136.83,555.78 137.36,553.35 137.88,550.89 138.41,548.39 138.94,545.85 139.46,543.28 139.99,540.67 140.52,538.02 141.04,535.33 141.57,532.61 142.10,529.86 142.62,527.09 143.15,524.30 143.68,521.51 144.20,518.72 144.73,515.96 145.26,513.24 145.78,510.57 146.31,507.99 146.84,505.50 147.36,503.14 147.89,500.92 148.42,498.87 148.94,497.02 149.47,495.38 150.00,493.98 150.52,492.83 151.05,491.96 151.58,491.36 152.10,491.05 152.63,491.02 153.16,491.24 153.69,491.76 154.21,492.56 154.74,493.63 155.27,494.96 155.79,496.53 156.32,498.32 156.85,500.31 157.37,502.47 157.90,504.79 158.43,507.24 158.95,509.79 159.48,512.43 160.01,515.13 160.53,517.87 161.06,520.65 161.59,523.43 162.11,526.21 162.64,528.98 163.17,531.73 163.69,534.45 164.22,537.14 164.75,539.79 165.27,542.41 165.80,544.99 166.33,547.53 166.85,550.04 167.38,552.51 167.91,554.95 168.43,557.36 168.96,559.74 169.49,562.09 170.01,564.42 170.54,566.72 171.07,569.00 171.59,571.25 172.12,573.48 172.65,575.69 173.17,577.86 173.70,580.00 174.23,582.10 174.75,584.16 175.28,586.17 175.81,588.14 176.34,590.05 176.86,591.89 177.39,593.67 177.92,595.38 178.44,597.01 178.97,598.57 179.50,600.04 180.02,601.43 180.55,602.73 181.08,603.95 181.60,605.07 182.13,606.12 182.66,607.07 183.18,607.94 183.71,608.74 184.24,609.45 184.76,610.09 185.29,610.66 185.82,611.16 186.34,611.60 186.87,611.97 187.40,612.29 187.92,612.56 188.45,612.77 188.98,612.94 189.50,613.05 190.03,613.13 190.56,613.16 191.08,613.14 191.61,613.08 192.14,612.97 192.66,612.82 193.19,612.61 193.72,612.36 194.24,612.05 194.77,611.69 195.30,611.27 195.82,610.78 196.35,610.22 196.88,609.59 197.41,608.89 197.93,608.11 198.46,607.24 198.99,606.30 199.51,605.26 200.04,604.14 200.57,602.92 201.09,601.62 201.62,600.22 202.15,598.74 202.67,597.17 203.20,595.52 203.73,593.79 204.25,591.99 204.78,590.11 205.31,588.17 205.83,586.16 206.36,584.10 206.89,581.99 207.41,579.83 207.94,577.63 208.47,575.39 208.99,573.12 209.52,570.81 210.05,568.48 210.57,566.12 211.10,563.73 211.63,561.31 212.15,558.86 212.68,556.38 213.21,553.87 213.73,551.33 214.26,548.75 214.79,546.13 215.31,543.47 215.84,540.77 216.37,538.03 216.89,535.24 217.42,532.41 217.95,529.55 218.48,526.65 219.00,523.72 219.53,520.78 220.06,517.83 220.58,514.88 221.11,511.95 221.64,509.06 222.16,506.22 222.69,503.46 223.22,500.81 223.74,498.28 224.27,495.89 224.80,493.69 225.32,491.68 225.85,489.89 226.38,488.35 226.90,487.07 227.43,486.07 227.96,485.37 228.48,484.97 229.01,484.90 229.54,485.16 230.06,485.73 230.59,486.60 231.12,487.76 231.64,489.18 232.17,490.86 232.70,492.77 233.22,494.89 233.75,497.19 234.28,499.65 234.80,502.25 235.33,504.95 235.86,507.75 236.38,510.60 236.91,513.51 237.44,516.44 237.96,519.38 238.49,522.31 239.02,525.24 239.55,528.14 240.07,531.01 240.60,533.84 241.13,536.64 241.65,539.39 242.18,542.10 242.71,544.78 243.23,547.41 243.76,550.00 244.29,552.56 244.81,555.09 245.34,557.58 245.87,560.04 246.39,562.48 246.92,564.89 247.45,567.27 247.97,569.62 248.50,571.95" fill="none" stroke="#2f9f2f" stroke-width="1.20" stroke-dasharray="3.4,1.4"/>
<path d="M310.50,488.27 311.03,489.07 311.55,490.15 312.08,491.50 312.61,493.10 313.13,494.93 313.66,496.97 314.19,499.19 314.71,501.57 315.24,504.09 315.77,506.72 316.29,509.44 316.82,512.23 317.35,515.07 317.87,517.93 318.40,520.81 318.93,523.69 319.45,526.55 319.98,529.40 320.51,532.21 321.04,535.00 321.56,537.74 322.09,540.45 322.62,543.11 323.14,545.74 323.67,548.32 324.20,550.87 324.72,553.38 325.25,555.86 325.78,558.30 326.30,560.72 326.83,563.11 327.36,565.47 327.88,567.81 328.41,570.12 328.94,572.40 329.46,574.65 329.99,576.88 330.52,579.06 331.04,581.21 331.57,583.32 332.10,585.38 332.62,587.39 333.15,589.34 333.68,591.23 334.20,593.05 334.73,594.80 335.26,596.47 335.78,598.07 336.31,599.58 336.84,601.00 337.36,602.34 337.89,603.59 338.42,604.75 338.94,605.82 339.47,606.81 340.00,607.71 340.52,608.52 341.05,609.26 341.58,609.92 342.11,610.51 342.63,611.03 343.16,611.49 343.69,611.88 344.21,612.21 344.74,612.49 345.27,612.72 345.79,612.90 346.32,613.03 346.85,613.11 347.37,613.15 347.90,613.15 348.43,613.10 348.95,613.00 349.48,612.86 350.01,612.67 350.53,612.43 351.06,612.14 351.59,611.79 352.11,611.39 352.64,610.92 353.17,610.39 353.69,609.78 354.22,609.10 354.75,608.35 355.27,607.51 355.80,606.60 356.33,605.60 356.85,604.51 357.38,603.33 357.91,602.06 358.43,600.71 358.96,599.27 359.49,597.75 360.01,596.14 360.54,594.46 361.07,592.70 361.59,590.87 362.12,588.98 362.65,587.02 363.18,585.01 363.70,582.95 364.23,580.85 364.76,578.70 365.28,576.52 365.81,574.30 366.34,572.06 366.86,569.79 367.39,567.49 367.92,565.16 368.44,562.81 368.97,560.43 369.50,558.03 370.02,555.60 370.55,553.13 371.08,550.63 371.60,548.10 372.13,545.53 372.66,542.92 373.18,540.27 373.71,537.59 374.24,534.86 374.76,532.10 375.29,529.30 375.82,526.48 376.34,523.64 376.87,520.79 377.40,517.95 377.92,515.12 378.45,512.33 378.98,509.59 379.50,506.92 380.03,504.35 380.56,501.89 381.08,499.58 381.61,497.43 382.14,495.47 382.66,493.72 383.19,492.21 383.72,490.94 384.25,489.95 384.77,489.24 385.30,488.83 385.83,488.71 386.35,488.93 386.88,489.44 387.41,490.24 387.93,491.33 388.46,492.68 388.99,494.27 389.51,496.10 390.04,498.13 390.57,500.35 391.09,502.72 391.62,505.23 392.15,507.85 392.67,510.56 393.20,513.34 393.73,516.16 394.25,519.01 394.78,521.87 395.31,524.73 395.83,527.58 396.36,530.41 396.89,533.21 397.41,535.98 397.94,538.70 398.47,541.39 398.99,544.03 399.52,546.63 400.05,549.20 400.57,551.72 401.10,554.21 401.63,556.66 402.15,559.08 402.68,561.48 403.21,563.84 403.73,566.17 404.26,568.48 404.79,570.76 405.31,573.01 405.84,575.24 406.37,577.43 406.90,579.59 407.42,581.70 407.95,583.78 408.48,585.81 409.00,587.79 409.53,589.71 410.06,591.57 410.58,593.36 411.11,595.08 411.64,596.73 412.16,598.30 412.69,599.79 413.22,601.19 413.74,602.50 414.27,603.73 414.80,604.87 415.32,605.93 415.85,606.90 416.38,607.78 416.90,608.59 417.43,609.31 417.96,609.96 418.48,610.54 419.01,611.06 419.54,611.50 420.06,611.89 420.59,612.22 421.12,612.50 421.64,612.72 422.17,612.90 422.70,613.03 423.22,613.11 423.75,613.15 424.28,613.15 424.80,613.10 425.33,613.01 425.86,612.88 426.38,612.70 426.91,612.47 427.44,612.19 427.97,611.86 428.49,611.47 429.02,611.02 429.55,610.50 430.07,609.92 430.60,609.27 431.13,608.55 431.65,607.75 432.18,606.86 432.71,605.90 433.23,604.85 433.76,603.72 434.29,602.51 434.81,601.21 435.34,599.82 435.87,598.36 436.39,596.82 436.92,595.20 437.45,593.51 437.97,591.75 438.50,589.93 439.03,588.06 439.55,586.13 440.08,584.15 440.61,582.13 441.13,580.07 441.66,577.98 442.19,575.86 442.71,573.71 443.24,571.53 443.77,569.33 444.29,567.10 444.82,564.86 445.35,562.58 445.87,560.29 446.40,557.96 446.93,555.61 447.46,553.23 447.98,550.81 448.51,548.36 449.04,545.88 449.56,543.36 450.09,540.80 450.62,538.20 451.14,535.58 451.67,532.92 452.20,530.24 452.72,527.54 453.25,524.83 453.78,522.13 454.30,519.45 454.83,516.80 455.36,514.20 455.88,511.67 456.41,509.22 456.94,506.90 457.46,504.70 457.99,502.66 458.52,500.81 459.04,499.16 459.57,497.73 460.10,496.54 460.62,495.61 461.15,494.94 461.68,494.56 462.20,494.46 462.73,494.61 463.26,495.04 463.78,495.76 464.31,496.74 464.84,497.97 465.36,499.45 465.89,501.14 466.42,503.04 466.94,505.11 467.47,507.34 468.00,509.70 468.52,512.17 469.05,514.73 469.58,517.35 470.11,520.02 470.63,522.73 471.16,525.44 471.69,528.16 472.21,530.87 472.74,533.56 473.27,536.22 473.79,538.86 474.32,541.45 474.85,544.01 475.37,546.54 475.90,549.02 476.43,551.47 476.95,553.88 477.48,556.26 478.01,558.60 478.53,560.92 479.06,563.21 479.59,565.47 480.11,567.71 480.64,569.92 481.17,572.11 481.69,574.27 482.22,576.41 482.75,578.52 483.27,580.59 483.80,582.63 484.33,584.63 484.85,586.59 485.38,588.49 485.91,590.35 486.43,592.15 486.96,593.88 487.49,595.55 488.01,597.14 488.54,598.66 489.07,600.10 489.60,601.46 490.12,602.74 490.65,603.94 491.18,605.05 491.70,606.07 492.23,607.02 492.76,607.88 493.28,608.67 493.81,609.38 494.34,610.01 494.86,610.58 495.39,611.08 495.92,611.52 496.44,611.90 496.97,612.22 497.50,612.50 498.02,612.72 498.55,612.89 499.08,613.02 499.60,613.11 500.13,613.15 500.66,613.15 501.18,613.11 501.71,613.02 502.24,612.90 502.76,612.72 503.29,612.50 503.82,612.23 504.34,611.91 504.87,611.53 505.40,611.09 505.92,610.59 506.45,610.03 506.98,609.39 507.50,608.68 508.03,607.90 508.56,607.04 509.08,606.10 509.61,605.07 510.14,603.96 510.66,602.77 511.19,601.50 511.72,600.14 512.25,598.70 512.77,597.18 513.30,595.59 513.83,593.92 514.35,592.19 514.88,590.39 515.41,588.54 515.93,586.63 516.46,584.68 516.99,582.68 517.51,580.64 518.04,578.57 518.57,576.46 519.09,574.33 519.62,572.16 520.15,569.98 520.67,567.76 521.20,565.53" fill="none" stroke="#2f9f2f" stroke-width="1.20" stroke-dasharray="3.4,1.4"/>
<path d="M37.80,613.16 38.33,613.13 38.85,613.07 39.38,612.96 39.91,612.80 40.43,612.59 40.96,612.33 41.49,612.02 42.01,611.65 42.54,611.22 43.07,610.73 43.59,610.17 44.12,609.54 44.65,608.84 45.17,608.06 45.70,607.19 46.23,606.25 46.75,605.22 47.28,604.10 47.81,602.89 48.33,601.59 48.86,600.21 49.39,598.74 49.92,597.19 50.44,595.56 50.97,593.85 51.50,592.07 52.02,590.22 52.55,588.30 53.08,586.33 53.60,584.30 54.13,582.23 54.66,580.11 55.18,577.96 55.71,575.76 56.24,573.54 56.76,571.29 57.29,569.01 57.82,566.70 58.34,564.37 58.87,562.01 59.40,559.62 59.92,557.21 60.45,554.76 60.98,552.29 61.50,549.78 62.03,547.23 62.56,544.65 63.08,542.02 63.61,539.36 64.14,536.65 64.66,533.91 65.19,531.13 65.72,528.33 66.24,525.50 66.77,522.65 67.30,519.80 67.82,516.96 68.35,514.14 68.88,511.36 69.41,508.64 69.93,506.00 70.46,503.46 70.99,501.05 71.51,498.79 72.04,496.71 72.57,494.82 73.09,493.15 73.62,491.73 74.15,490.56 74.67,489.67 75.20,489.06 75.73,488.75 76.25,488.75 76.78,489.06 77.31,489.66 77.83,490.55 78.36,491.71 78.89,493.14 79.41,494.80 79.94,496.69 80.47,498.78 80.99,501.04 81.52,503.45 82.05,505.99 82.57,508.63 83.10,511.36 83.63,514.14 84.15,516.97 84.68,519.81 85.21,522.67 85.73,525.52 86.26,528.36 86.79,531.17 87.31,533.95 87.84,536.70 88.37,539.41 88.89,542.07 89.42,544.70 89.95,547.29 90.47,549.84 91.00,552.35 91.53,554.83 92.06,557.27 92.58,559.68 93.11,562.07 93.64,564.42 94.16,566.76 94.69,569.06 95.22,571.34 95.74,573.59 96.27,575.81 96.80,577.99 97.32,580.15 97.85,582.26 98.38,584.33 98.90,586.35 99.43,588.32 99.96,590.23 100.48,592.08 101.01,593.86 101.54,595.56 102.06,597.19 102.59,598.74 103.12,600.21 103.64,601.59 104.17,602.88 104.70,604.08 105.22,605.20 105.75,606.23 106.28,607.18 106.80,608.04 107.33,608.82 107.86,609.53 108.38,610.16 108.91,610.72 109.44,611.21 109.96,611.64 110.49,612.01 111.02,612.32 111.55,612.58 112.07,612.79 112.60,612.95 113.13,613.06 113.65,613.13 114.18,613.16 114.71,613.14 115.23,613.07 115.76,612.97 116.29,612.81 116.81,612.61 117.34,612.36 117.87,612.05 118.39,611.69 118.92,611.27 119.45,610.79 119.97,610.24 120.50,609.62 121.03,608.93 121.55,608.17 122.08,607.32 122.61,606.39 123.13,605.37 123.66,604.27 124.19,603.09 124.71,601.81 125.24,600.46 125.77,599.01 126.29,597.49 126.82,595.88 127.35,594.20 127.87,592.45 128.40,590.63 128.93,588.74 129.45,586.80 129.98,584.81 130.51,582.77 131.03,580.69 131.56,578.57 132.09,576.41 132.62,574.22 133.14,572.01 133.67,569.77 134.20,567.50 134.72,565.21 135.25,562.89 135.78,560.55 136.30,558.18 136.83,555.78 137.36,553.35 137.88,550.89 138.41,548.39 138.94,545.85 139.46,543.28 139.99,540.67 140.52,538.02 141.04,535.33 141.57,532.61 142.10,529.86 142.62,527.09 143.15,524.30 143.68,521.51 144.20,518.72 144.73,515.96 145.26,513.24 145.78,510.57 146.31,507.99 146.84,505.50 147.36,503.14 147.89,500.92 148.42,498.87 148.94,497.02 149.47,495.38 150.00,493.98 150.52,492.83 151.05,491.96 151.58,491.36 152.10,491.05 152.63,491.02 153.16,491.24 153.69,491.76 154.21,492.56 154.74,493.63 155.27,494.96 155.79,496.53 156.32,498.32 156.85,500.31 157.37,502.47 157.90,504.79 158.43,507.24 158.95,509.79 159.48,512.43 160.01,515.13 160.53,517.87 161.06,520.65 161.59,523.43 162.11,526.21 162.64,528.98 163.17,531.73 163.69,534.45 164.22,537.14 164.75,539.79 165.27,542.41 165.80,544.99 166.33,547.53 166.85,550.04 167.38,552.51 167.91,554.95 168.43,557.36 168.96,559.74 169.49,562.09 170.01,564.42 170.54,566.72 171.07,569.00 171.59,571.25 172.12,573.48 172.65,575.69 173.17,577.86 173.70,580.00 174.23,582.10 174.75,584.16 175.28,586.17 175.81,588.14 176.34,590.05 176.86,591.89 177.39,593.67 177.92,595.38 178.44,597.01 178.97,598.57 179.50,600.04 180.02,601.43 180.55,602.73 181.08,603.95 181.60,605.07 182.13,606.12 182.66,607.07 183.18,607.94 183.71,608.74 184.24,609.45 184.76,610.09 185.29,610.66 185.82,611.16 186.34,611.60 186.87,611.97 187.40,612.29 187.92,612.56 188.45,612.77 188.98,612.94 189.50,613.05 190.03,613.13 190.56,613.16 191.08,613.14 191.61,613.08 192.14,612.97 192.66,612.82 193.19,612.61 193.72,612.36 194.24,612.05 194.77,611.69 195.30,611.27 195.82,610.78 196.35,610.22 196.88,609.59 197.41,608.89 197.93,608.11 198.46,607.24 198.99,606.30 199.51,605.26 200.04,604.14 200.57,602.92 201.09,601.62 201.62,600.22 202.15,598.74 202.67,597.17 203.20,595.52 203.73,593.79 204.25,591.99 204.78,590.11 205.31,588.17 205.83,586.16 206.36,584.10 206.89,581.99 207.41,579.83 207.94,577.63 208.47,575.39 208.99,573.12 209.52,570.81 210.05,568.48 210.57,566.12 211.10,563.73 211.63,561.31 212.15,558.86 212.68,556.38 213.21,553.87 213.73,551.33 214.26,548.75 214.79,546.13 215.31,543.47 215.84,540.77 216.37,538.03 216.89,535.24 217.42,532.41 217.95,529.55 218.48,526.65 219.00,523.72 219.53,520.78 220.06,517.83 220.58,514.88 221.11,511.95 221.64,509.06 222.16,506.22 222.69,503.46 223.22,500.81 223.74,498.28 224.27,495.89 224.80,493.69 225.32,491.68 225.85,489.89 226.38,488.35 226.90,487.07 227.43,486.07 227.96,485.37 228.48,484.97 229.01,484.90 229.54,485.16 230.06,485.73 230.59,486.60 231.12,487.76 231.64,489.18 232.17,490.86 232.70,492.77 233.22,494.89 233.75,497.19 234.28,499.65 234.80,502.25 235.33,504.95 235.86,507.75 236.38,510.60 236.91,513.51 237.44,516.44 237.96,519.38 238.49,522.31 239.02,525.24 239.55,528.14 240.07,531.01 240.60,533.84 241.13,536.64 241.65,539.39 242.18,542.10 242.71,544.78 243.23,547.41 243.76,550.00 244.29,552.56 244.81,555.09 245.34,557.58 245.87,560.04 246.39,562.48 246.92,564.89 247.45,567.27 247.97,569.62 248.50,571.95" fill="none" stroke="#aa50dc" stroke-width="1.10" stroke-dasharray="2.2,1.4"/>
<path d="M310.50,488.27 311.03,489.07 311.55,490.15 312.08,491.50 312.61,493.10 313.13,494.93 313.66,496.97 314.19,499.19 314.71,501.57 315.24,504.09 315.77,506.72 316.29,509.44 316.82,512.23 317.35,515.07 317.87,517.93 318.40,520.81 318.93,523.69 319.45,526.55 319.98,529.40 320.51,532.21 321.04,535.00 321.56,537.74 322.09,540.45 322.62,543.11 323.14,545.74 323.67,548.32 324.20,550.87 324.72,553.38 325.25,555.86 325.78,558.30 326.30,560.72 326.83,563.11 327.36,565.47 327.88,567.81 328.41,570.12 328.94,572.40 329.46,574.65 329.99,576.88 330.52,579.06 331.04,581.21 331.57,583.32 332.10,585.38 332.62,587.39 333.15,589.34 333.68,591.23 334.20,593.05 334.73,594.80 335.26,596.47 335.78,598.07 336.31,599.58 336.84,601.00 337.36,602.34 337.89,603.59 338.42,604.75 338.94,605.82 339.47,606.81 340.00,607.71 340.52,608.52 341.05,609.26 341.58,609.92 342.11,610.51 342.63,611.03 343.16,611.49 343.69,611.88 344.21,612.21 344.74,612.49 345.27,612.72 345.79,612.90 346.32,613.03 346.85,613.11 347.37,613.15 347.90,613.15 348.43,613.10 348.95,613.00 349.48,612.86 350.01,612.67 350.53,612.43 351.06,612.14 351.59,611.79 352.11,611.39 352.64,610.92 353.17,610.39 353.69,609.78 354.22,609.10 354.75,608.35 355.27,607.51 355.80,606.60 356.33,605.60 356.85,604.51 357.38,603.33 357.91,602.06 358.43,600.71 358.96,599.27 359.49,597.75 360.01,596.14 360.54,594.46 361.07,592.70 361.59,590.87 362.12,588.98 362.65,587.02 363.18,585.01 363.70,582.95 364.23,580.85 364.76,578.70 365.28,576.52 365.81,574.30 366.34,572.06 366.86,569.79 367.39,567.49 367.92,565.16 368.44,562.81 368.97,560.43 369.50,558.03 370.02,555.60 370.55,553.13 371.08,550.63 371.60,548.10 372.13,545.53 372.66,542.92 373.18,540.27 373.71,537.59 374.24,534.86 374.76,532.10 375.29,529.30 375.82,526.48 376.34,523.64 376.87,520.79 377.40,517.95 377.92,515.12 378.45,512.33 378.98,509.59 379.50,506.92 380.03,504.35 380.56,501.89 381.08,499.58 381.61,497.43 382.14,495.47 382.66,493.72 383.19,492.21 383.72,490.94 384.25,489.95 384.77,489.24 385.30,488.83 385.83,488.71 386.35,488.93 386.88,489.44 387.41,490.24 387.93,491.33 388.46,492.68 388.99,494.27 389.51,496.10 390.04,498.13 390.57,500.35 391.09,502.72 391.62,505.23 392.15,507.85 392.67,510.56 393.20,513.34 393.73,516.16 394.25,519.01 394.78,521.87 395.31,524.73 395.83,527.58 396.36,530.41 396.89,533.21 397.41,535.98 397.94,538.70 398.47,541.39 398.99,544.03 399.52,546.63 400.05,549.20 400.57,551.72 401.10,554.21 401.63,556.66 402.15,559.08 402.68,561.48 403.21,563.84 403.73,566.17 404.26,568.48 404.79,570.76 405.31,573.01 405.84,575.24 406.37,577.43 406.90,579.59 407.42,581.70 407.95,583.78 408.48,585.81 409.00,587.79 409.53,589.71 410.06,591.57 410.58,593.36 411.11,595.08 411.64,596.73 412.16,598.30 412.69,599.79 413.22,601.19 413.74,602.50 414.27,603.73 414.80,604.87 415.32,605.93 415.85,606.90 416.38,607.78 416.90,608.59 417.43,609.31 417.96,609.96 418.48,610.54 419.01,611.06 419.54,611.50 420.06,611.89 420.59,612.22 421.12,612.50 421.64,612.72 422.17,612.90 422.70,613.03 423.22,613.11 423.75,613.15 424.28,613.15 424.80,613.10 425.33,613.01 425.86,612.88 426.38,612.70 426.91,612.47 427.44,612.19 427.97,611.86 428.49,611.47 429.02,611.02 429.55,610.50 430.07,609.92 430.60,609.27 431.13,608.55 431.65,607.75 432.18,606.86 432.71,605.90 433.23,604.85 433.76,603.72 434.29,602.51 434.81,601.21 435.34,599.82 435.87,598.36 436.39,596.82 436.92,595.20 437.45,593.51 437.97,591.75 438.50,589.93 439.03,588.06 439.55,586.13 440.08,584.15 440.61,582.13 441.13,580.07 441.66,577.98 442.19,575.86 442.71,573.71 443.24,571.53 443.77,569.33 444.29,567.10 444.82,564.86 445.35,562.58 445.87,560.29 446.40,557.96 446.93,555.61 447.46,553.23 447.98,550.81 448.51,548.36 449.04,545.88 449.56,543.36 450.09,540.80 450.62,538.20 451.14,535.58 451.67,532.92 452.20,530.24 452.72,527.54 453.25,524.83 453.78,522.13 454.30,519.45 454.83,516.80 455.36,514.20 455.88,511.67 456.41,509.22 456.94,506.90 457.46,504.70 457.99,502.66 458.52,500.81 459.04,499.16 459.57,497.73 460.10,496.54 460.62,495.61 461.15,494.94 461.68,494.56 462.20,494.46 462.73,494.61 463.26,495.04 463.78,495.76 464.31,496.74 464.84,497.97 465.36,499.45 465.89,501.14 466.42,503.04 466.94,505.11 467.47,507.34 468.00,509.70 468.52,512.17 469.05,514.73 469.58,517.35 470.11,520.02 470.63,522.73 471.16,525.44 471.69,528.16 472.21,530.87 472.74,533.56 473.27,536.22 473.79,538.86 474.32,541.45 474.85,544.01 475.37,546.54 475.90,549.02 476.43,551.47 476.95,553.88 477.48,556.26 478.01,558.60 478.53,560.92 479.06,563.21 479.59,565.47 480.11,567.71 480.64,569.92 481.17,572.11 481.69,574.27 482.22,576.41 482.75,578.52 483.27,580.59 483.80,582.63 484.33,584.63 484.85,586.59 485.38,588.49 485.91,590.35 486.43,592.15 486.96,593.88 487.49,595.55 488.01,597.14 488.54,598.66 489.07,600.10 489.60,601.46 490.12,602.74 490.65,603.94 491.18,605.05 491.70,606.07 492.23,607.02 492.76,607.88 493.28,608.67 493.81,609.38 494.34,610.01 494.86,610.58 495.39,611.08 495.92,611.52 496.44,611.90 496.97,612.22 497.50,612.50 498.02,612.72 498.55,612.89 499.08,613.02 499.60,613.11 500.13,613.15 500.66,613.15 501.18,613.11 501.71,613.02 502.24,612.90 502.76,612.72 503.29,612.50 503.82,612.23 504.34,611.91 504.87,611.53 505.40,611.09 505.92,610.59 506.45,610.03 506.98,609.39 507.50,608.68 508.03,607.90 508.56,607.04 509.08,606.10 509.61,605.07 510.14,603.96 510.66,602.77 511.19,601.50 511.72,600.14 512.25,598.70 512.77,597.18 513.30,595.59 513.83,593.92 514.35,592.19 514.88,590.39 515.41,588.54 515.93,586.63 516.46,584.68 516.99,582.68 517.51,580.64 518.04,578.57 518.57,576.46 519.09,574.33 519.62,572.16 520.15,569.98 520.67,567.76 521.20,565.53" fill="none" stroke="#aa50dc" stroke-width="1.10" stroke-dasharray="2.2,1.4"/>
</g>
<rect x="476.20" y="161.10" width="43.00" height="42.90" fill="#fff" stroke="#999" stroke-width="0.8"/>
<clipPath id="ci"><rect x="476.20" y="161.10" width="43.00" height="42.90"/></clipPath>
<g clip-path="url(#ci)">
<path d="M465.10,285.81a2.60,2.60 0 1,0 5.20,0a2.60,2.60 0 1,0 -5.20,0M468.00,271.34a2.60,2.60 0 1,0 5.20,0a2.60,2.60 0 1,0 -5.20,0M470.90,256.49a2.60,2.60 0 1,0 5.20,0a2.60,2.60 0 1,0 -5.20,0M473.81,241.42a2.60,2.60 0 1,0 5.20,0a2.60,2.60 0 1,0 -5.20,0M476.71,226.47a2.60,2.60 0 1,0 5.20,0a2.60,2.60 0 1,0 -5.20,0M479.61,212.07a2.60,2.60 0 1,0 5.20,0a2.60,2.60 0 1,0 -5.20,0M482.51,198.79a2.60,2.60 0 1,0 5.20,0a2.60,2.60 0 1,0 -5.20,0M485.41,187.28a2.60,2.60 0 1,0 5.20,0a2.60,2.60 0 1,0 -5.20,0M488.31,178.19a2.60,2.60 0 1,0 5.20,0a2.60,2.60 0 1,0 -5.20,0M491.21,172.08a2.60,2.60 0 1,0 5.20,0a2.60,2.60 0 1,0 -5.20,0M494.11,169.39a2.60,2.60 0 1,0 5.20,0a2.60,2.60 0 1,0 -5.20,0M497.02,170.29a2.60,2.60 0 1,0 5.20,0a2.60,2.60 0 1,0 -5.20,0M499.92,174.72a2.60,2.60 0 1,0 5.20,0a2.60,2.60 0 1,0 -5.20,0M502.82,182.38a2.60,2.60 0 1,0 5.20,0a2.60,2.60 0 1,0 -5.20,0M505.72,192.75a2.60,2.60 0 1,0 5.20,0a2.60,2.60 0 1,0 -5.20,0M508.62,205.22a2.60,2.60 0 1,0 5.20,0a2.60,2.60 0 1,0 -5.20,0M511.52,219.14a2.60,2.60 0 1,0 5.20,0a2.60,2.60 0 1,0 -5.20,0M514.42,233.88a2.60,2.60 0 1,0 5.20,0a2.60,2.60 0 1,0 -5.20,0M517.32,248.94a2.60,2.60 0 1,0 5.20,0a2.60,2.60 0 1,0 -5.20,0M520.23,263.93a2.60,2.60 0 1,0 5.20,0a2.60,2.60 0 1,0 -5.20,0M523.13,278.61a2.60,2.60 0 1,0 5.20,0a2.60,2.60 0 1,0 -5.20,0" fill="none" stroke="#ff4a4a" stroke-width="0.7" opacity="0.85"/>
<path d="M471.11,268.77 471.64,266.06 472.17,263.34 472.71,260.61 473.24,257.87 473.77,255.12 474.30,252.36 474.83,249.60 475.36,246.84 475.90,244.07 476.43,241.31 476.96,238.55 477.49,235.79 478.02,233.04 478.56,230.31 479.09,227.59 479.62,224.88 480.15,222.20 480.68,219.54 481.21,216.90 481.75,214.30 482.28,211.73 482.81,209.20 483.34,206.71 483.87,204.27 484.41,201.88 484.94,199.54 485.47,197.26 486.00,195.04 486.53,192.88 487.06,190.80 487.60,188.79 488.13,186.86 488.66,185.02 489.19,183.25 489.72,181.58 490.25,180.00 490.79,178.52 491.32,177.14 491.85,175.86 492.38,174.69 492.91,173.63 493.45,172.68 493.98,171.84 494.51,171.11 495.04,170.51 495.57,170.02 496.10,169.66 496.64,169.41 497.17,169.29 497.70,169.29 498.23,169.41 498.76,169.65 499.30,170.01 499.83,170.49 500.36,171.09 500.89,171.81 501.42,172.65 501.95,173.59 502.49,174.65 503.02,175.82 503.55,177.10 504.08,178.48 504.61,179.95 505.15,181.53 505.68,183.20 506.21,184.96 506.74,186.80 507.27,188.73 507.80,190.74 508.34,192.82 508.87,194.97 509.40,197.18 509.93,199.46 510.46,201.80 510.99,204.19 511.53,206.63 512.06,209.12 512.59,211.65 513.12,214.22 513.65,216.82 514.19,219.45 514.72,222.11 515.25,224.80 515.78,227.50 516.31,230.22 516.84,232.96 517.38,235.70 517.91,238.46 518.44,241.22 518.97,243.98 519.50,246.75 520.04,249.51 520.57,252.27 521.10,255.03 521.63,257.78 522.16,260.52 522.69,263.25 523.23,265.98 523.76,268.69 524.29,271.38" fill="none" stroke="#3ca0f5" stroke-width="1.6"/>
<path d="M471.11,271.67 471.64,269.00 472.17,266.32 472.71,263.63 473.24,260.93 473.77,258.23 474.30,255.51 474.83,252.79 475.36,250.07 475.90,247.35 476.43,244.63 476.96,241.91 477.49,239.19 478.02,236.49 478.56,233.80 479.09,231.12 479.62,228.45 480.15,225.81 480.68,223.19 481.21,220.60 481.75,218.03 482.28,215.50 482.81,213.01 483.34,210.56 483.87,208.16 484.41,205.80 484.94,203.50 485.47,201.25 486.00,199.07 486.53,196.95 487.06,194.90 487.60,192.92 488.13,191.02 488.66,189.20 489.19,187.46 489.72,185.82 490.25,184.26 490.79,182.80 491.32,181.44 491.85,180.18 492.38,179.03 492.91,177.98 493.45,177.05 493.98,176.22 494.51,175.51 495.04,174.91 495.57,174.43 496.10,174.07 496.64,173.83 497.17,173.71 497.70,173.71 498.23,173.83 498.76,174.06 499.30,174.42 499.83,174.90 500.36,175.49 500.89,176.20 501.42,177.02 501.95,177.95 502.49,178.99 503.02,180.15 503.55,181.40 504.08,182.76 504.61,184.21 505.15,185.76 505.68,187.41 506.21,189.14 506.74,190.96 507.27,192.86 507.80,194.83 508.34,196.88 508.87,199.00 509.40,201.18 509.93,203.42 510.46,205.73 510.99,208.08 511.53,210.48 512.06,212.93 512.59,215.42 513.12,217.95 513.65,220.51 514.19,223.11 514.72,225.73 515.25,228.37 515.78,231.03 516.31,233.71 516.84,236.40 517.38,239.11 517.91,241.82 518.44,244.54 518.97,247.26 519.50,249.98 520.04,252.71 520.57,255.42 521.10,258.14 521.63,260.85 522.16,263.55 522.69,266.24 523.23,268.92 523.76,271.59 524.29,274.24" fill="none" stroke="#2f9f2f" stroke-width="1.6" stroke-dasharray="3.5,2.2"/>
</g>
<rect x="453.40" y="177.70" width="17.80" height="18.60" fill="none" stroke="#aaa" stroke-width="1"/>
<path d="M471.20,177.70L476.20,161.10M471.20,196.30L476.20,204.00" stroke="#777" stroke-width="0.6" fill="none"/>
<path d="M37.80,5.70V619.30M521.20,5.70V619.30M37.80,5.70H521.20M37.80,159.10H521.20M37.80,312.50H521.20M37.80,465.90H521.20M37.80,619.30H521.20" stroke="#555555" stroke-width="1.3" fill="none"/>
<path d="M37.80,139.92h3.20M521.20,139.92h-3.20M37.80,120.75h3.20M521.20,120.75h-3.20M37.80,101.57h3.20M521.20,101.57h-3.20M37.80,82.40h3.20M521.20,82.40h-3.20M37.80,63.22h3.20M521.20,63.22h-3.20M37.80,44.05h3.20M521.20,44.05h-3.20M37.80,24.87h3.20M521.20,24.87h-3.20M79.94,5.70v3.20M79.94,159.10v-3.20M122.08,5.70v3.20M122.08,159.10v-3.20M164.22,5.70v3.20M164.22,159.10v-3.20M206.36,5.70v3.20M206.36,159.10v-3.20M248.50,5.70v3.20M248.50,159.10v-3.20M310.50,5.70v3.20M310.50,159.10v-3.20M352.64,5.70v3.20M352.64,159.10v-3.20M394.78,5.70v3.20M394.78,159.10v-3.20M436.92,5.70v3.20M436.92,159.10v-3.20M479.06,5.70v3.20M479.06,159.10v-3.20M37.80,293.22h3.20M521.20,293.22h-3.20M37.80,274.05h3.20M521.20,274.05h-3.20M37.80,254.87h3.20M521.20,254.87h-3.20M37.80,235.70h3.20M521.20,235.70h-3.20M37.80,216.52h3.20M521.20,216.52h-3.20M37.80,197.35h3.20M521.20,197.35h-3.20M37.80,178.17h3.20M521.20,178.17h-3.20M79.94,159.00v3.20M79.94,312.40v-3.20M122.08,159.00v3.20M122.08,312.40v-3.20M164.22,159.00v3.20M164.22,312.40v-3.20M206.36,159.00v3.20M206.36,312.40v-3.20M248.50,159.00v3.20M248.50,312.40v-3.20M310.50,159.00v3.20M310.50,312.40v-3.20M352.64,159.00v3.20M352.64,312.40v-3.20M394.78,159.00v3.20M394.78,312.40v-3.20M436.92,159.00v3.20M436.92,312.40v-3.20M479.06,159.00v3.20M479.06,312.40v-3.20M37.80,446.52h3.20M521.20,446.52h-3.20M37.80,427.35h3.20M521.20,427.35h-3.20M37.80,408.17h3.20M521.20,408.17h-3.20M37.80,389.00h3.20M521.20,389.00h-3.20M37.80,369.82h3.20M521.20,369.82h-3.20M37.80,350.65h3.20M521.20,350.65h-3.20M37.80,331.47h3.20M521.20,331.47h-3.20M79.94,312.30v3.20M79.94,465.70v-3.20M122.08,312.30v3.20M122.08,465.70v-3.20M164.22,312.30v3.20M164.22,465.70v-3.20M206.36,312.30v3.20M206.36,465.70v-3.20M248.50,312.30v3.20M248.50,465.70v-3.20M310.50,312.30v3.20M310.50,465.70v-3.20M352.64,312.30v3.20M352.64,465.70v-3.20M394.78,312.30v3.20M394.78,465.70v-3.20M436.92,312.30v3.20M436.92,465.70v-3.20M479.06,312.30v3.20M479.06,465.70v-3.20M37.80,599.92h3.20M521.20,599.92h-3.20M37.80,580.75h3.20M521.20,580.75h-3.20M37.80,561.57h3.20M521.20,561.57h-3.20M37.80,542.40h3.20M521.20,542.40h-3.20M37.80,523.22h3.20M521.20,523.22h-3.20M37.80,504.05h3.20M521.20,504.05h-3.20M37.80,484.87h3.20M521.20,484.87h-3.20M79.94,465.70v3.20M79.94,619.10v-3.20M122.08,465.70v3.20M122.08,619.10v-3.20M164.22,465.70v3.20M164.22,619.10v-3.20M206.36,465.70v3.20M206.36,619.10v-3.20M248.50,465.70v3.20M248.50,619.10v-3.20M310.50,465.70v3.20M310.50,619.10v-3.20M352.64,465.70v3.20M352.64,619.10v-3.20M394.78,465.70v3.20M394.78,619.10v-3.20M436.92,465.70v3.20M436.92,619.10v-3.20M479.06,465.70v3.20M479.06,619.10v-3.20" stroke="#555555" stroke-width="1" fill="none"/>
<rect x="278.30" y="4.20" width="2.6" height="3" fill="#fff"/>
<path d="M276.20,11.70l4.4,-12M278.60,11.70l4.4,-12" stroke="#222" stroke-width="0.9" fill="none"/>
<rect x="278.30" y="157.60" width="2.6" height="3" fill="#fff"/>
<path d="M276.20,165.10l4.4,-12M278.60,165.10l4.4,-12" stroke="#222" stroke-width="0.9" fill="none"/>
<rect x="278.30" y="311.00" width="2.6" height="3" fill="#fff"/>
<path d="M276.20,318.50l4.4,-12M278.60,318.50l4.4,-12" stroke="#222" stroke-width="0.9" fill="none"/>
<rect x="278.30" y="464.40" width="2.6" height="3" fill="#fff"/>
<path d="M276.20,471.90l4.4,-12M278.60,471.90l4.4,-12" stroke="#222" stroke-width="0.9" fill="none"/>
<rect x="278.30" y="617.80" width="2.6" height="3" fill="#fff"/>
<path d="M276.20,625.30l4.4,-12M278.60,625.30l4.4,-12" stroke="#222" stroke-width="0.9" fill="none"/>
<text x="35.3" y="27.27" font-size="10" text-anchor="end">0.9</text>
<text x="35.3" y="65.62" font-size="10" text-anchor="end">0.8</text>
<text x="35.3" y="103.98" font-size="10" text-anchor="end">0.7</text>
<text x="35.3" y="142.32" font-size="10" text-anchor="end">0.6</text>
<text x="35.3" y="180.57" font-size="10" text-anchor="end">0.9</text>
<text x="35.3" y="218.92" font-size="10" text-anchor="end">0.8</text>
<text x="35.3" y="257.27" font-size="10" text-anchor="end">0.7</text>
<text x="35.3" y="295.62" font-size="10" text-anchor="end">0.6</text>
<text x="35.3" y="333.87" font-size="10" text-anchor="end">0.9</text>
<text x="35.3" y="372.22" font-size="10" text-anchor="end">0.8</text>
<text x="35.3" y="410.57" font-size="10" text-anchor="end">0.7</text>
<text x="35.3" y="448.92" font-size="10" text-anchor="end">0.6</text>
<text x="35.3" y="487.27" font-size="10" text-anchor="end">0.9</text>
<text x="35.3" y="525.62" font-size="10" text-anchor="end">0.8</text>
<text x="35.3" y="563.98" font-size="10" text-anchor="end">0.7</text>
<text x="35.3" y="602.32" font-size="10" text-anchor="end">0.6</text>
<text x="38.10" y="629.7" font-size="10" text-anchor="middle">0</text>
<text x="80.24" y="629.7" font-size="10" text-anchor="middle">1</text>
<text x="122.38" y="629.7" font-size="10" text-anchor="middle">2</text>
<text x="164.52" y="629.7" font-size="10" text-anchor="middle">3</text>
<text x="206.66" y="629.7" font-size="10" text-anchor="middle">4</text>
<text x="248.80" y="629.7" font-size="10" text-anchor="middle">5</text>
<text x="310.80" y="629.7" font-size="10" text-anchor="middle">10</text>
<text x="352.94" y="629.7" font-size="10" text-anchor="middle">11</text>
<text x="395.08" y="629.7" font-size="10" text-anchor="middle">12</text>
<text x="437.22" y="629.7" font-size="10" text-anchor="middle">13</text>
<text x="479.36" y="629.7" font-size="10" text-anchor="middle">14</text>
<text x="521.50" y="629.7" font-size="10" text-anchor="middle">15</text>
<text x="43.6" y="19.60" font-size="13.5">(a)</text>
<text x="249" y="24.30" font-size="9.3">All excitations</text>
<text x="249" y="36.50" font-size="9.3">M<tspan font-size="6.6" dy="2.1">1</tspan><tspan dy="-2.1" dx="0.4">= 1, M</tspan><tspan font-size="6.6" dy="2.1">2</tspan><tspan dy="-2.1" dx="0.4">= 3</tspan></text>
<path d="M261.8,99.00H278.6" stroke="#7a7a7a" stroke-width="1.00" fill="none"/>
<text x="281.70" y="102.00" font-size="9">GP</text>
<path d="M261.8,110.05H278.6" stroke="#2f9f2f" stroke-width="1.30" stroke-dasharray="3.4,1.4" fill="none"/>
<text x="281.70" y="113.05" font-size="9">-SD</text>
<path d="M261.8,121.10H278.6" stroke="#aa50dc" stroke-width="1.30" stroke-dasharray="2.2,1.4" fill="none"/>
<text x="281.70" y="124.10" font-size="9">-SDTQ</text>
<path d="M261.8,132.15H278.6" stroke="#466ef5" stroke-width="1.30" fill="none"/>
<text x="281.70" y="135.15" font-size="9">-SDTQ56</text>
<circle cx="271.4" cy="143.20" r="2.9" fill="none" stroke="#ff4a4a" stroke-width="0.8"/>
<text x="281.70" y="146.20" font-size="9">-MCTDHB</text>
<text x="43.6" y="172.90" font-size="13.5">(b)</text>
<text x="249" y="177.60" font-size="9.3">All excitations</text>
<text x="249" y="189.80" font-size="9.3">M<tspan font-size="6.6" dy="2.1">1</tspan><tspan dy="-2.1" dx="0.4">= 2, M</tspan><tspan font-size="6.6" dy="2.1">2</tspan><tspan dy="-2.1" dx="0.4">= 2</tspan></text>
<path d="M261.8,252.30H278.6" stroke="#7a7a7a" stroke-width="1.00" fill="none"/>
<text x="281.70" y="255.30" font-size="9">GP</text>
<path d="M261.8,263.35H278.6" stroke="#2f9f2f" stroke-width="1.30" stroke-dasharray="3.4,1.4" fill="none"/>
<text x="281.70" y="266.35" font-size="9">-SD</text>
<path d="M261.8,274.40H278.6" stroke="#3ca0f5" stroke-width="1.30" fill="none"/>
<text x="281.70" y="277.40" font-size="9">-SDT</text>
<circle cx="271.4" cy="285.45" r="2.9" fill="none" stroke="#ff4a4a" stroke-width="0.8"/>
<text x="281.70" y="288.45" font-size="9">-MCTDHB</text>
<text x="43.6" y="326.20" font-size="13.5">(c)</text>
<text x="249" y="330.90" font-size="9.3">Even excitations</text>
<text x="249" y="343.10" font-size="9.3">M<tspan font-size="6.6" dy="2.1">1</tspan><tspan dy="-2.1" dx="0.4">= 1, M</tspan><tspan font-size="6.6" dy="2.1">2</tspan><tspan dy="-2.1" dx="0.4">= 3</tspan></text>
<path d="M261.8,405.60H278.6" stroke="#7a7a7a" stroke-width="1.00" fill="none"/>
<text x="281.70" y="408.60" font-size="9">GP</text>
<path d="M261.8,416.65H278.6" stroke="#2f9f2f" stroke-width="1.30" stroke-dasharray="3.4,1.4" fill="none"/>
<text x="281.70" y="419.65" font-size="9">-D</text>
<path d="M261.8,427.70H278.6" stroke="#aa50dc" stroke-width="1.30" stroke-dasharray="2.2,1.4" fill="none"/>
<text x="281.70" y="430.70" font-size="9">-DQ</text>
<circle cx="271.4" cy="438.75" r="2.9" fill="none" stroke="#ff4a4a" stroke-width="0.8"/>
<text x="281.70" y="441.75" font-size="9">-MCTDHB</text>
<text x="43.6" y="479.60" font-size="13.5">(d)</text>
<text x="249" y="484.30" font-size="9.3">Even excitations</text>
<text x="249" y="496.50" font-size="9.3">M<tspan font-size="6.6" dy="2.1">1</tspan><tspan dy="-2.1" dx="0.4">= 2, M</tspan><tspan font-size="6.6" dy="2.1">2</tspan><tspan dy="-2.1" dx="0.4">= 2</tspan></text>
<path d="M261.8,559.00H278.6" stroke="#7a7a7a" stroke-width="1.00" fill="none"/>
<text x="281.70" y="562.00" font-size="9">GP</text>
<path d="M261.8,570.05H278.6" stroke="#2f9f2f" stroke-width="1.30" stroke-dasharray="3.4,1.4" fill="none"/>
<text x="281.70" y="573.05" font-size="9">-D</text>
<path d="M261.8,581.10H278.6" stroke="#aa50dc" stroke-width="1.30" stroke-dasharray="2.2,1.4" fill="none"/>
<text x="281.70" y="584.10" font-size="9">-DQ</text>
<circle cx="271.4" cy="592.15" r="2.9" fill="none" stroke="#ff4a4a" stroke-width="0.8"/>
<text x="281.70" y="595.15" font-size="9">-MCTDHB</text>
<text x="280" y="647.0" font-size="12.6" text-anchor="middle">Time (units of <tspan font-style="italic">t</tspan><tspan font-size="8" dy="2.2" font-style="italic">0</tspan><tspan dy="-2.2">)</tspan></text>
<text transform="translate(9.2,312.6) rotate(-90)" font-size="12.9" text-anchor="middle">One-body density at <tspan font-style="italic">x</tspan> = 0 (units of <tspan font-style="italic">l</tspan><tspan font-size="8" dy="1.8" font-style="italic">0</tspan><tspan font-size="6" dy="-6.5" dx="-4">-1</tspan><tspan dy="4.7">)</tspan></text>
</svg></body></html>
